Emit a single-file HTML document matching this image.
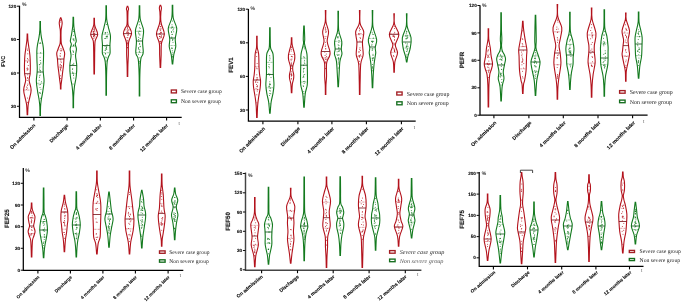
<!DOCTYPE html>
<html><head><meta charset="utf-8"><style>
html,body{margin:0;padding:0;background:#fff;}
svg{display:block;will-change:transform;text-rendering:geometricPrecision;font-family:"Liberation Sans", sans-serif;}
</style></head><body>
<svg width="685" height="305" viewBox="0 0 685 305">
<rect width="685" height="305" fill="#fff"/>
<path d="M27.65,34.10 C27.69,35.08 27.71,38.03 27.88,40.00 C28.05,41.97 28.30,43.28 28.65,45.90 C28.99,48.52 29.67,52.35 29.95,55.70 C30.23,59.05 30.32,63.00 30.35,66.00 C30.38,69.00 30.35,71.28 30.15,73.70 C29.95,76.12 28.98,77.80 29.15,80.50 C29.32,83.20 31.15,86.65 31.15,89.90 C31.15,93.15 29.65,97.45 29.15,100.00 C28.65,102.55 28.40,102.77 28.15,105.20 C27.90,107.63 27.73,113.03 27.65,114.60 L27.15,114.60 C27.07,113.03 26.90,107.63 26.65,105.20 C26.40,102.77 26.15,102.55 25.65,100.00 C25.15,97.45 23.65,93.15 23.65,89.90 C23.65,86.65 25.48,83.20 25.65,80.50 C25.82,77.80 24.85,76.12 24.65,73.70 C24.45,71.28 24.42,69.00 24.45,66.00 C24.48,63.00 24.57,59.05 24.85,55.70 C25.13,52.35 25.80,48.52 26.15,45.90 C26.49,43.28 26.75,41.97 26.92,40.00 C27.09,38.03 27.11,35.08 27.15,34.10 Z" fill="#fff" stroke="#b3121c" stroke-width="1.1"/><line x1="24.65" y1="73.70" x2="30.15" y2="73.70" stroke="#740d14" stroke-width="0.8"/><line x1="25.05" y1="60.87" x2="29.75" y2="60.87" stroke="#b3121c" stroke-width="0.6" stroke-dasharray="0.7,0.7"/><line x1="24.08" y1="90.05" x2="30.72" y2="90.05" stroke="#b3121c" stroke-width="0.6" stroke-dasharray="0.7,0.7"/><circle cx="27.42" cy="67.96" r="0.5" fill="#b3121c" opacity="0.9"/><circle cx="27.52" cy="58.52" r="0.5" fill="#b3121c" opacity="0.9"/><circle cx="27.77" cy="74.73" r="0.5" fill="#b3121c" opacity="0.9"/><circle cx="27.94" cy="83.88" r="0.5" fill="#b3121c" opacity="0.9"/><circle cx="26.47" cy="89.16" r="0.5" fill="#b3121c" opacity="0.9"/><circle cx="28.10" cy="69.05" r="0.5" fill="#b3121c" opacity="0.9"/><circle cx="27.61" cy="78.27" r="0.5" fill="#b3121c" opacity="0.9"/><circle cx="27.39" cy="87.89" r="0.5" fill="#b3121c" opacity="0.9"/><circle cx="27.83" cy="53.73" r="0.5" fill="#b3121c" opacity="0.9"/><circle cx="28.07" cy="59.86" r="0.5" fill="#b3121c" opacity="0.9"/><circle cx="27.21" cy="69.92" r="0.5" fill="#b3121c" opacity="0.9"/><circle cx="27.19" cy="80.44" r="0.5" fill="#b3121c" opacity="0.9"/><circle cx="26.62" cy="86.96" r="0.5" fill="#b3121c" opacity="0.9"/><circle cx="27.62" cy="77.62" r="0.5" fill="#b3121c" opacity="0.9"/><circle cx="27.52" cy="97.96" r="0.5" fill="#b3121c" opacity="0.9"/><circle cx="27.47" cy="102.13" r="0.5" fill="#b3121c" opacity="0.9"/><circle cx="27.52" cy="85.22" r="0.5" fill="#b3121c" opacity="0.9"/><circle cx="28.24" cy="65.59" r="0.5" fill="#b3121c" opacity="0.9"/><circle cx="27.23" cy="48.99" r="0.5" fill="#b3121c" opacity="0.9"/><circle cx="26.99" cy="68.36" r="0.5" fill="#b3121c" opacity="0.9"/><circle cx="27.41" cy="62.30" r="0.5" fill="#b3121c" opacity="0.9"/><circle cx="27.57" cy="50.15" r="0.5" fill="#b3121c" opacity="0.9"/><circle cx="27.56" cy="61.66" r="0.5" fill="#b3121c" opacity="0.9"/><circle cx="27.35" cy="69.71" r="0.5" fill="#b3121c" opacity="0.9"/>
<path d="M40.45,21.60 C40.47,23.00 40.39,27.32 40.56,30.00 C40.73,32.68 41.05,35.20 41.45,37.70 C41.85,40.20 42.60,42.82 42.95,45.00 C43.30,47.18 43.47,48.20 43.55,50.80 C43.63,53.40 43.52,57.90 43.45,60.60 C43.38,63.30 43.18,65.10 43.15,67.00 C43.12,68.90 43.10,69.62 43.25,72.00 C43.40,74.38 44.13,78.03 44.05,81.30 C43.97,84.57 43.22,88.48 42.75,91.60 C42.28,94.72 41.62,97.43 41.25,100.00 C40.88,102.57 40.69,104.43 40.56,107.00 C40.43,109.57 40.47,114.00 40.45,115.40 L39.95,115.40 C39.93,114.00 39.97,109.57 39.84,107.00 C39.71,104.43 39.52,102.57 39.15,100.00 C38.79,97.43 38.12,94.72 37.65,91.60 C37.18,88.48 36.43,84.57 36.35,81.30 C36.27,78.03 37.00,74.38 37.15,72.00 C37.30,69.62 37.28,68.90 37.25,67.00 C37.22,65.10 37.02,63.30 36.95,60.60 C36.88,57.90 36.77,53.40 36.85,50.80 C36.93,48.20 37.10,47.18 37.45,45.00 C37.80,42.82 38.55,40.20 38.95,37.70 C39.35,35.20 39.67,32.68 39.84,30.00 C40.01,27.32 39.93,23.00 39.95,21.60 Z" fill="#fff" stroke="#137a1e" stroke-width="1.1"/><line x1="37.15" y1="72.00" x2="43.25" y2="72.00" stroke="#0d4c14" stroke-width="0.8"/><line x1="37.28" y1="53.26" x2="43.12" y2="53.26" stroke="#137a1e" stroke-width="0.6" stroke-dasharray="0.7,0.7"/><line x1="37.00" y1="83.27" x2="43.40" y2="83.27" stroke="#137a1e" stroke-width="0.6" stroke-dasharray="0.7,0.7"/><circle cx="40.19" cy="93.24" r="0.5" fill="#137a1e" opacity="0.9"/><circle cx="40.75" cy="63.76" r="0.5" fill="#137a1e" opacity="0.9"/><circle cx="40.14" cy="93.10" r="0.5" fill="#137a1e" opacity="0.9"/><circle cx="40.94" cy="89.28" r="0.5" fill="#137a1e" opacity="0.9"/><circle cx="40.04" cy="57.36" r="0.5" fill="#137a1e" opacity="0.9"/><circle cx="40.20" cy="42.39" r="0.5" fill="#137a1e" opacity="0.9"/><circle cx="39.84" cy="43.46" r="0.5" fill="#137a1e" opacity="0.9"/><circle cx="39.31" cy="64.71" r="0.5" fill="#137a1e" opacity="0.9"/><circle cx="41.43" cy="81.85" r="0.5" fill="#137a1e" opacity="0.9"/><circle cx="40.64" cy="52.81" r="0.5" fill="#137a1e" opacity="0.9"/><circle cx="40.39" cy="84.47" r="0.5" fill="#137a1e" opacity="0.9"/><circle cx="39.37" cy="69.00" r="0.5" fill="#137a1e" opacity="0.9"/><circle cx="40.30" cy="60.46" r="0.5" fill="#137a1e" opacity="0.9"/><circle cx="39.97" cy="87.55" r="0.5" fill="#137a1e" opacity="0.9"/><circle cx="40.74" cy="62.77" r="0.5" fill="#137a1e" opacity="0.9"/><circle cx="40.18" cy="70.46" r="0.5" fill="#137a1e" opacity="0.9"/><circle cx="39.46" cy="77.24" r="0.5" fill="#137a1e" opacity="0.9"/><circle cx="40.78" cy="43.38" r="0.5" fill="#137a1e" opacity="0.9"/><circle cx="39.71" cy="75.80" r="0.5" fill="#137a1e" opacity="0.9"/><circle cx="40.07" cy="70.25" r="0.5" fill="#137a1e" opacity="0.9"/><circle cx="40.21" cy="75.07" r="0.5" fill="#137a1e" opacity="0.9"/><circle cx="39.93" cy="67.09" r="0.5" fill="#137a1e" opacity="0.9"/><circle cx="40.41" cy="72.11" r="0.5" fill="#137a1e" opacity="0.9"/><circle cx="39.70" cy="64.57" r="0.5" fill="#137a1e" opacity="0.9"/><circle cx="40.32" cy="98.18" r="0.5" fill="#137a1e" opacity="0.9"/><circle cx="39.15" cy="84.74" r="0.5" fill="#137a1e" opacity="0.9"/><circle cx="39.71" cy="92.47" r="0.5" fill="#137a1e" opacity="0.9"/><circle cx="39.13" cy="80.21" r="0.5" fill="#137a1e" opacity="0.9"/>
<path d="M60.95,17.90 C61.07,18.25 61.45,19.15 61.65,20.00 C61.85,20.85 62.15,21.83 62.15,23.00 C62.15,24.17 61.83,25.67 61.65,27.00 C61.47,28.33 61.16,28.83 61.06,31.00 C60.96,33.17 61.00,37.80 61.06,40.00 C61.12,42.20 61.14,42.87 61.45,44.20 C61.77,45.53 62.42,46.50 62.95,48.00 C63.48,49.50 64.48,51.37 64.65,53.20 C64.82,55.03 64.15,56.87 63.95,59.00 C63.75,61.13 63.67,63.83 63.45,66.00 C63.23,68.17 62.93,69.73 62.65,72.00 C62.37,74.27 62.02,77.43 61.75,79.60 C61.48,81.77 61.19,83.43 61.06,85.00 C60.93,86.57 60.97,88.33 60.95,89.00 L60.45,89.00 C60.43,88.33 60.47,86.57 60.34,85.00 C60.21,83.43 59.92,81.77 59.65,79.60 C59.39,77.43 59.03,74.27 58.75,72.00 C58.47,69.73 58.17,68.17 57.95,66.00 C57.73,63.83 57.65,61.13 57.45,59.00 C57.25,56.87 56.58,55.03 56.75,53.20 C56.92,51.37 57.92,49.50 58.45,48.00 C58.98,46.50 59.64,45.53 59.95,44.20 C60.27,42.87 60.28,42.20 60.34,40.00 C60.41,37.80 60.44,33.17 60.34,31.00 C60.24,28.83 59.93,28.33 59.75,27.00 C59.57,25.67 59.25,24.17 59.25,23.00 C59.25,21.83 59.55,20.85 59.75,20.00 C59.95,19.15 60.33,18.25 60.45,17.90 Z" fill="#fff" stroke="#b3121c" stroke-width="1.1"/><line x1="57.45" y1="59.00" x2="63.95" y2="59.00" stroke="#740d14" stroke-width="0.8"/><line x1="58.23" y1="49.89" x2="63.17" y2="49.89" stroke="#b3121c" stroke-width="0.6" stroke-dasharray="0.7,0.7"/><line x1="58.48" y1="66.96" x2="62.92" y2="66.96" stroke="#b3121c" stroke-width="0.6" stroke-dasharray="0.7,0.7"/><circle cx="60.78" cy="21.92" r="0.5" fill="#b3121c" opacity="0.9"/><circle cx="60.85" cy="60.98" r="0.5" fill="#b3121c" opacity="0.9"/><circle cx="60.99" cy="48.52" r="0.5" fill="#b3121c" opacity="0.9"/><circle cx="60.17" cy="56.59" r="0.5" fill="#b3121c" opacity="0.9"/><circle cx="60.69" cy="20.45" r="0.5" fill="#b3121c" opacity="0.9"/><circle cx="60.06" cy="55.28" r="0.5" fill="#b3121c" opacity="0.9"/><circle cx="61.32" cy="65.86" r="0.5" fill="#b3121c" opacity="0.9"/><circle cx="60.68" cy="50.71" r="0.5" fill="#b3121c" opacity="0.9"/><circle cx="60.32" cy="53.51" r="0.5" fill="#b3121c" opacity="0.9"/><circle cx="61.50" cy="50.68" r="0.5" fill="#b3121c" opacity="0.9"/><circle cx="60.37" cy="69.36" r="0.5" fill="#b3121c" opacity="0.9"/><circle cx="61.26" cy="67.64" r="0.5" fill="#b3121c" opacity="0.9"/><circle cx="60.72" cy="68.11" r="0.5" fill="#b3121c" opacity="0.9"/><circle cx="60.38" cy="64.22" r="0.5" fill="#b3121c" opacity="0.9"/><circle cx="61.28" cy="62.21" r="0.5" fill="#b3121c" opacity="0.9"/><circle cx="60.85" cy="70.85" r="0.5" fill="#b3121c" opacity="0.9"/><circle cx="60.65" cy="78.62" r="0.5" fill="#b3121c" opacity="0.9"/><circle cx="61.42" cy="65.73" r="0.5" fill="#b3121c" opacity="0.9"/><circle cx="60.43" cy="69.76" r="0.5" fill="#b3121c" opacity="0.9"/><circle cx="60.56" cy="75.73" r="0.5" fill="#b3121c" opacity="0.9"/><circle cx="60.04" cy="67.07" r="0.5" fill="#b3121c" opacity="0.9"/><circle cx="60.34" cy="68.05" r="0.5" fill="#b3121c" opacity="0.9"/><circle cx="60.04" cy="64.88" r="0.5" fill="#b3121c" opacity="0.9"/><circle cx="60.73" cy="59.49" r="0.5" fill="#b3121c" opacity="0.9"/>
<path d="M73.55,17.40 C73.60,18.83 73.59,23.17 73.84,26.00 C74.09,28.83 74.65,31.90 75.05,34.40 C75.45,36.90 76.22,39.37 76.25,41.00 C76.28,42.63 75.22,42.85 75.25,44.20 C75.28,45.55 76.40,47.18 76.45,49.10 C76.50,51.02 75.50,52.97 75.55,55.70 C75.60,58.43 76.63,62.08 76.75,65.50 C76.87,68.92 76.63,72.70 76.25,76.20 C75.87,79.70 74.88,83.20 74.45,86.50 C74.02,89.80 73.81,92.45 73.66,96.00 C73.51,99.55 73.57,105.83 73.55,107.80 L73.05,107.80 C73.03,105.83 73.09,99.55 72.94,96.00 C72.79,92.45 72.58,89.80 72.15,86.50 C71.72,83.20 70.73,79.70 70.35,76.20 C69.97,72.70 69.73,68.92 69.85,65.50 C69.97,62.08 71.00,58.43 71.05,55.70 C71.10,52.97 70.10,51.02 70.15,49.10 C70.20,47.18 71.32,45.55 71.35,44.20 C71.38,42.85 70.32,42.63 70.35,41.00 C70.38,39.37 71.15,36.90 71.55,34.40 C71.95,31.90 72.51,28.83 72.76,26.00 C73.01,23.17 73.00,18.83 73.05,17.40 Z" fill="#fff" stroke="#137a1e" stroke-width="1.1"/><line x1="69.85" y1="65.50" x2="76.75" y2="65.50" stroke="#0d4c14" stroke-width="0.8"/><line x1="71.28" y1="46.10" x2="75.32" y2="46.10" stroke="#137a1e" stroke-width="0.6" stroke-dasharray="0.7,0.7"/><line x1="70.62" y1="73.45" x2="75.98" y2="73.45" stroke="#137a1e" stroke-width="0.6" stroke-dasharray="0.7,0.7"/><circle cx="73.12" cy="38.91" r="0.5" fill="#137a1e" opacity="0.9"/><circle cx="72.46" cy="71.99" r="0.5" fill="#137a1e" opacity="0.9"/><circle cx="74.16" cy="40.85" r="0.5" fill="#137a1e" opacity="0.9"/><circle cx="73.66" cy="64.70" r="0.5" fill="#137a1e" opacity="0.9"/><circle cx="73.65" cy="44.63" r="0.5" fill="#137a1e" opacity="0.9"/><circle cx="73.38" cy="29.69" r="0.5" fill="#137a1e" opacity="0.9"/><circle cx="73.43" cy="52.28" r="0.5" fill="#137a1e" opacity="0.9"/><circle cx="73.83" cy="78.08" r="0.5" fill="#137a1e" opacity="0.9"/><circle cx="72.70" cy="68.85" r="0.5" fill="#137a1e" opacity="0.9"/><circle cx="72.41" cy="69.25" r="0.5" fill="#137a1e" opacity="0.9"/><circle cx="73.04" cy="54.51" r="0.5" fill="#137a1e" opacity="0.9"/><circle cx="73.71" cy="72.95" r="0.5" fill="#137a1e" opacity="0.9"/><circle cx="73.41" cy="45.39" r="0.5" fill="#137a1e" opacity="0.9"/><circle cx="73.39" cy="35.24" r="0.5" fill="#137a1e" opacity="0.9"/><circle cx="73.41" cy="31.52" r="0.5" fill="#137a1e" opacity="0.9"/><circle cx="73.33" cy="51.55" r="0.5" fill="#137a1e" opacity="0.9"/><circle cx="73.41" cy="75.61" r="0.5" fill="#137a1e" opacity="0.9"/><circle cx="73.73" cy="63.24" r="0.5" fill="#137a1e" opacity="0.9"/><circle cx="73.97" cy="38.88" r="0.5" fill="#137a1e" opacity="0.9"/><circle cx="72.28" cy="64.51" r="0.5" fill="#137a1e" opacity="0.9"/><circle cx="72.47" cy="73.07" r="0.5" fill="#137a1e" opacity="0.9"/><circle cx="73.63" cy="74.11" r="0.5" fill="#137a1e" opacity="0.9"/><circle cx="73.08" cy="84.12" r="0.5" fill="#137a1e" opacity="0.9"/><circle cx="73.45" cy="40.10" r="0.5" fill="#137a1e" opacity="0.9"/><circle cx="73.05" cy="46.33" r="0.5" fill="#137a1e" opacity="0.9"/><circle cx="72.95" cy="50.77" r="0.5" fill="#137a1e" opacity="0.9"/><circle cx="73.64" cy="45.43" r="0.5" fill="#137a1e" opacity="0.9"/><circle cx="73.21" cy="38.98" r="0.5" fill="#137a1e" opacity="0.9"/>
<path d="M94.45,18.20 C94.47,19.20 94.39,22.63 94.56,24.20 C94.73,25.77 94.93,25.90 95.45,27.60 C95.97,29.30 97.75,32.18 97.70,34.40 C97.65,36.62 95.64,38.30 95.15,40.90 C94.66,43.50 94.83,46.82 94.74,50.00 C94.65,53.18 94.67,56.02 94.62,60.00 C94.57,63.98 94.48,71.58 94.45,73.90 L93.95,73.90 C93.92,71.58 93.83,63.98 93.78,60.00 C93.73,56.02 93.75,53.18 93.66,50.00 C93.57,46.82 93.74,43.50 93.25,40.90 C92.76,38.30 90.75,36.62 90.70,34.40 C90.65,32.18 92.43,29.30 92.95,27.60 C93.47,25.90 93.67,25.77 93.84,24.20 C94.01,22.63 93.93,19.20 93.95,18.20 Z" fill="#fff" stroke="#b3121c" stroke-width="1.1"/><line x1="90.70" y1="34.40" x2="97.70" y2="34.40" stroke="#740d14" stroke-width="0.8"/><line x1="91.94" y1="31.85" x2="96.46" y2="31.85" stroke="#b3121c" stroke-width="0.6" stroke-dasharray="0.7,0.7"/><line x1="93.83" y1="44.94" x2="94.57" y2="44.94" stroke="#b3121c" stroke-width="0.6" stroke-dasharray="0.7,0.7"/><circle cx="94.06" cy="31.35" r="0.5" fill="#b3121c" opacity="0.9"/><circle cx="94.18" cy="26.83" r="0.5" fill="#b3121c" opacity="0.9"/><circle cx="93.41" cy="33.61" r="0.5" fill="#b3121c" opacity="0.9"/><circle cx="94.28" cy="28.97" r="0.5" fill="#b3121c" opacity="0.9"/><circle cx="94.14" cy="33.82" r="0.5" fill="#b3121c" opacity="0.9"/><circle cx="94.70" cy="33.59" r="0.5" fill="#b3121c" opacity="0.9"/><circle cx="94.87" cy="36.06" r="0.5" fill="#b3121c" opacity="0.9"/><circle cx="93.76" cy="31.42" r="0.5" fill="#b3121c" opacity="0.9"/><circle cx="94.08" cy="34.54" r="0.5" fill="#b3121c" opacity="0.9"/><circle cx="93.54" cy="36.65" r="0.5" fill="#b3121c" opacity="0.9"/><circle cx="93.86" cy="38.40" r="0.5" fill="#b3121c" opacity="0.9"/><circle cx="93.81" cy="29.78" r="0.5" fill="#b3121c" opacity="0.9"/><circle cx="93.53" cy="31.67" r="0.5" fill="#b3121c" opacity="0.9"/><circle cx="93.72" cy="32.37" r="0.5" fill="#b3121c" opacity="0.9"/><circle cx="94.64" cy="30.37" r="0.5" fill="#b3121c" opacity="0.9"/><circle cx="94.18" cy="35.53" r="0.5" fill="#b3121c" opacity="0.9"/><circle cx="94.43" cy="29.11" r="0.5" fill="#b3121c" opacity="0.9"/><circle cx="94.20" cy="28.02" r="0.5" fill="#b3121c" opacity="0.9"/><circle cx="94.73" cy="37.06" r="0.5" fill="#b3121c" opacity="0.9"/><circle cx="94.18" cy="35.57" r="0.5" fill="#b3121c" opacity="0.9"/><circle cx="93.46" cy="36.40" r="0.5" fill="#b3121c" opacity="0.9"/><circle cx="93.87" cy="35.45" r="0.5" fill="#b3121c" opacity="0.9"/><circle cx="93.16" cy="34.01" r="0.5" fill="#b3121c" opacity="0.9"/><circle cx="94.29" cy="26.89" r="0.5" fill="#b3121c" opacity="0.9"/>
<path d="M106.45,5.80 C106.49,8.00 106.35,15.37 106.68,19.00 C107.01,22.63 107.82,24.77 108.45,27.60 C109.08,30.43 110.20,33.15 110.45,36.00 C110.70,38.85 110.02,41.83 109.95,44.70 C109.88,47.57 110.30,51.18 110.05,53.20 C109.80,55.22 108.93,55.33 108.45,56.80 C107.97,58.27 107.47,58.97 107.15,62.00 C106.84,65.03 106.68,69.47 106.56,75.00 C106.44,80.53 106.47,91.83 106.45,95.20 L105.95,95.20 C105.93,91.83 105.96,80.53 105.84,75.00 C105.72,69.47 105.56,65.03 105.25,62.00 C104.94,58.97 104.43,58.27 103.95,56.80 C103.47,55.33 102.60,55.22 102.35,53.20 C102.10,51.18 102.52,47.57 102.45,44.70 C102.38,41.83 101.70,38.85 101.95,36.00 C102.20,33.15 103.32,30.43 103.95,27.60 C104.58,24.77 105.39,22.63 105.72,19.00 C106.05,15.37 105.91,8.00 105.95,5.80 Z" fill="#fff" stroke="#137a1e" stroke-width="1.1"/><line x1="102.44" y1="45.50" x2="109.96" y2="45.50" stroke="#0d4c14" stroke-width="0.8"/><line x1="102.78" y1="34.18" x2="109.62" y2="34.18" stroke="#137a1e" stroke-width="0.6" stroke-dasharray="0.7,0.7"/><line x1="102.76" y1="52.73" x2="109.64" y2="52.73" stroke="#137a1e" stroke-width="0.6" stroke-dasharray="0.7,0.7"/><circle cx="106.31" cy="47.73" r="0.5" fill="#137a1e" opacity="0.9"/><circle cx="105.90" cy="57.11" r="0.5" fill="#137a1e" opacity="0.9"/><circle cx="106.11" cy="61.00" r="0.5" fill="#137a1e" opacity="0.9"/><circle cx="106.47" cy="24.53" r="0.5" fill="#137a1e" opacity="0.9"/><circle cx="105.54" cy="54.01" r="0.5" fill="#137a1e" opacity="0.9"/><circle cx="105.47" cy="32.51" r="0.5" fill="#137a1e" opacity="0.9"/><circle cx="105.09" cy="32.74" r="0.5" fill="#137a1e" opacity="0.9"/><circle cx="107.13" cy="36.01" r="0.5" fill="#137a1e" opacity="0.9"/><circle cx="106.15" cy="48.78" r="0.5" fill="#137a1e" opacity="0.9"/><circle cx="104.83" cy="38.54" r="0.5" fill="#137a1e" opacity="0.9"/><circle cx="106.27" cy="36.59" r="0.5" fill="#137a1e" opacity="0.9"/><circle cx="107.42" cy="36.26" r="0.5" fill="#137a1e" opacity="0.9"/><circle cx="106.33" cy="36.19" r="0.5" fill="#137a1e" opacity="0.9"/><circle cx="105.41" cy="33.73" r="0.5" fill="#137a1e" opacity="0.9"/><circle cx="105.56" cy="53.50" r="0.5" fill="#137a1e" opacity="0.9"/><circle cx="105.09" cy="46.54" r="0.5" fill="#137a1e" opacity="0.9"/><circle cx="105.27" cy="49.92" r="0.5" fill="#137a1e" opacity="0.9"/><circle cx="107.05" cy="44.65" r="0.5" fill="#137a1e" opacity="0.9"/><circle cx="107.25" cy="32.16" r="0.5" fill="#137a1e" opacity="0.9"/><circle cx="106.77" cy="46.35" r="0.5" fill="#137a1e" opacity="0.9"/><circle cx="105.96" cy="48.63" r="0.5" fill="#137a1e" opacity="0.9"/><circle cx="105.16" cy="50.44" r="0.5" fill="#137a1e" opacity="0.9"/><circle cx="106.97" cy="38.10" r="0.5" fill="#137a1e" opacity="0.9"/><circle cx="105.58" cy="38.29" r="0.5" fill="#137a1e" opacity="0.9"/><circle cx="106.68" cy="49.22" r="0.5" fill="#137a1e" opacity="0.9"/><circle cx="106.24" cy="57.71" r="0.5" fill="#137a1e" opacity="0.9"/><circle cx="106.57" cy="47.19" r="0.5" fill="#137a1e" opacity="0.9"/><circle cx="106.88" cy="36.90" r="0.5" fill="#137a1e" opacity="0.9"/>
<path d="M127.80,6.30 C127.92,6.75 128.52,8.05 128.55,9.00 C128.58,9.95 128.08,9.47 127.98,12.00 C127.89,14.53 127.69,21.53 127.98,24.20 C128.28,26.87 129.16,26.43 129.75,28.00 C130.34,29.57 131.73,31.25 131.55,33.60 C131.37,35.95 129.18,38.53 128.65,42.10 C128.12,45.67 128.47,51.18 128.35,55.00 C128.23,58.82 128.02,61.42 127.92,65.00 C127.82,68.58 127.78,74.58 127.75,76.50 L127.25,76.50 C127.22,74.58 127.18,68.58 127.08,65.00 C126.98,61.42 126.77,58.82 126.65,55.00 C126.53,51.18 126.88,45.67 126.35,42.10 C125.82,38.53 123.63,35.95 123.45,33.60 C123.27,31.25 124.66,29.57 125.25,28.00 C125.84,26.43 126.72,26.87 127.02,24.20 C127.31,21.53 127.11,14.53 127.02,12.00 C126.92,9.47 126.42,9.95 126.45,9.00 C126.48,8.05 127.08,6.75 127.20,6.30 Z" fill="#fff" stroke="#b3121c" stroke-width="1.1"/><line x1="123.45" y1="33.60" x2="131.55" y2="33.60" stroke="#740d14" stroke-width="0.8"/><line x1="125.07" y1="29.82" x2="129.93" y2="29.82" stroke="#b3121c" stroke-width="0.6" stroke-dasharray="0.7,0.7"/><line x1="126.83" y1="45.44" x2="128.17" y2="45.44" stroke="#b3121c" stroke-width="0.6" stroke-dasharray="0.7,0.7"/><circle cx="127.16" cy="40.35" r="0.5" fill="#b3121c" opacity="0.9"/><circle cx="126.95" cy="32.50" r="0.5" fill="#b3121c" opacity="0.9"/><circle cx="127.90" cy="35.36" r="0.5" fill="#b3121c" opacity="0.9"/><circle cx="128.00" cy="29.86" r="0.5" fill="#b3121c" opacity="0.9"/><circle cx="127.04" cy="37.55" r="0.5" fill="#b3121c" opacity="0.9"/><circle cx="127.53" cy="47.62" r="0.5" fill="#b3121c" opacity="0.9"/><circle cx="127.07" cy="31.67" r="0.5" fill="#b3121c" opacity="0.9"/><circle cx="127.57" cy="47.66" r="0.5" fill="#b3121c" opacity="0.9"/><circle cx="127.53" cy="43.17" r="0.5" fill="#b3121c" opacity="0.9"/><circle cx="127.48" cy="28.22" r="0.5" fill="#b3121c" opacity="0.9"/><circle cx="127.39" cy="27.79" r="0.5" fill="#b3121c" opacity="0.9"/><circle cx="128.07" cy="35.02" r="0.5" fill="#b3121c" opacity="0.9"/><circle cx="128.27" cy="32.80" r="0.5" fill="#b3121c" opacity="0.9"/><circle cx="127.05" cy="32.70" r="0.5" fill="#b3121c" opacity="0.9"/><circle cx="128.25" cy="34.26" r="0.5" fill="#b3121c" opacity="0.9"/><circle cx="127.47" cy="26.71" r="0.5" fill="#b3121c" opacity="0.9"/><circle cx="127.78" cy="31.71" r="0.5" fill="#b3121c" opacity="0.9"/><circle cx="127.82" cy="37.68" r="0.5" fill="#b3121c" opacity="0.9"/><circle cx="127.44" cy="43.89" r="0.5" fill="#b3121c" opacity="0.9"/><circle cx="128.67" cy="32.31" r="0.5" fill="#b3121c" opacity="0.9"/><circle cx="127.92" cy="30.41" r="0.5" fill="#b3121c" opacity="0.9"/><circle cx="127.30" cy="41.02" r="0.5" fill="#b3121c" opacity="0.9"/><circle cx="127.50" cy="42.82" r="0.5" fill="#b3121c" opacity="0.9"/><circle cx="127.52" cy="26.08" r="0.5" fill="#b3121c" opacity="0.9"/>
<path d="M139.75,5.80 C139.83,8.00 139.62,14.93 140.25,19.00 C140.88,23.07 143.17,26.50 143.55,30.20 C143.93,33.90 142.60,37.65 142.55,41.20 C142.50,44.75 143.25,49.20 143.25,51.50 C143.25,53.80 142.97,53.68 142.55,55.00 C142.13,56.32 141.20,56.07 140.75,59.40 C140.30,62.73 140.03,68.90 139.86,75.00 C139.69,81.10 139.77,92.50 139.75,96.00 L139.25,96.00 C139.23,92.50 139.31,81.10 139.14,75.00 C138.97,68.90 138.70,62.73 138.25,59.40 C137.80,56.07 136.87,56.32 136.45,55.00 C136.03,53.68 135.75,53.80 135.75,51.50 C135.75,49.20 136.50,44.75 136.45,41.20 C136.40,37.65 135.07,33.90 135.45,30.20 C135.83,26.50 138.12,23.07 138.75,19.00 C139.38,14.93 139.17,8.00 139.25,5.80 Z" fill="#fff" stroke="#137a1e" stroke-width="1.1"/><line x1="136.43" y1="41.00" x2="142.57" y2="41.00" stroke="#0d4c14" stroke-width="0.8"/><line x1="135.95" y1="31.28" x2="143.05" y2="31.28" stroke="#137a1e" stroke-width="0.6" stroke-dasharray="0.7,0.7"/><line x1="136.35" y1="52.48" x2="142.65" y2="52.48" stroke="#137a1e" stroke-width="0.6" stroke-dasharray="0.7,0.7"/><circle cx="139.85" cy="35.01" r="0.5" fill="#137a1e" opacity="0.9"/><circle cx="138.62" cy="54.14" r="0.5" fill="#137a1e" opacity="0.9"/><circle cx="139.34" cy="51.57" r="0.5" fill="#137a1e" opacity="0.9"/><circle cx="139.88" cy="57.85" r="0.5" fill="#137a1e" opacity="0.9"/><circle cx="138.50" cy="31.92" r="0.5" fill="#137a1e" opacity="0.9"/><circle cx="138.71" cy="33.63" r="0.5" fill="#137a1e" opacity="0.9"/><circle cx="138.63" cy="39.39" r="0.5" fill="#137a1e" opacity="0.9"/><circle cx="139.67" cy="44.37" r="0.5" fill="#137a1e" opacity="0.9"/><circle cx="140.14" cy="46.68" r="0.5" fill="#137a1e" opacity="0.9"/><circle cx="139.55" cy="27.82" r="0.5" fill="#137a1e" opacity="0.9"/><circle cx="139.90" cy="49.90" r="0.5" fill="#137a1e" opacity="0.9"/><circle cx="139.73" cy="34.10" r="0.5" fill="#137a1e" opacity="0.9"/><circle cx="138.49" cy="48.56" r="0.5" fill="#137a1e" opacity="0.9"/><circle cx="139.95" cy="31.47" r="0.5" fill="#137a1e" opacity="0.9"/><circle cx="138.65" cy="47.44" r="0.5" fill="#137a1e" opacity="0.9"/><circle cx="140.32" cy="28.13" r="0.5" fill="#137a1e" opacity="0.9"/><circle cx="140.33" cy="46.32" r="0.5" fill="#137a1e" opacity="0.9"/><circle cx="139.12" cy="30.91" r="0.5" fill="#137a1e" opacity="0.9"/><circle cx="139.37" cy="21.69" r="0.5" fill="#137a1e" opacity="0.9"/><circle cx="138.94" cy="49.54" r="0.5" fill="#137a1e" opacity="0.9"/><circle cx="139.63" cy="43.59" r="0.5" fill="#137a1e" opacity="0.9"/><circle cx="139.91" cy="52.30" r="0.5" fill="#137a1e" opacity="0.9"/><circle cx="138.77" cy="41.19" r="0.5" fill="#137a1e" opacity="0.9"/><circle cx="139.42" cy="63.01" r="0.5" fill="#137a1e" opacity="0.9"/><circle cx="139.30" cy="24.63" r="0.5" fill="#137a1e" opacity="0.9"/><circle cx="140.27" cy="38.60" r="0.5" fill="#137a1e" opacity="0.9"/><circle cx="139.46" cy="61.19" r="0.5" fill="#137a1e" opacity="0.9"/><circle cx="138.68" cy="37.13" r="0.5" fill="#137a1e" opacity="0.9"/>
<path d="M160.70,5.40 C160.83,5.83 161.42,6.85 161.45,8.00 C161.48,9.15 161.00,10.30 160.88,12.30 C160.76,14.30 160.63,17.88 160.76,20.00 C160.89,22.12 161.05,22.65 161.65,25.00 C162.25,27.35 164.38,31.05 164.35,34.10 C164.32,37.15 161.98,39.82 161.45,43.30 C160.92,46.78 161.28,50.98 161.15,55.00 C161.02,59.02 160.73,65.33 160.65,67.40 L160.15,67.40 C160.07,65.33 159.78,59.02 159.65,55.00 C159.52,50.98 159.88,46.78 159.35,43.30 C158.82,39.82 156.48,37.15 156.45,34.10 C156.42,31.05 158.55,27.35 159.15,25.00 C159.75,22.65 159.91,22.12 160.04,20.00 C160.17,17.88 160.04,14.30 159.92,12.30 C159.81,10.30 159.32,9.15 159.35,8.00 C159.38,6.85 159.97,5.83 160.10,5.40 Z" fill="#fff" stroke="#b3121c" stroke-width="1.1"/><line x1="156.48" y1="34.00" x2="164.32" y2="34.00" stroke="#740d14" stroke-width="0.8"/><line x1="158.42" y1="28.81" x2="162.38" y2="28.81" stroke="#b3121c" stroke-width="0.6" stroke-dasharray="0.7,0.7"/><line x1="159.24" y1="41.67" x2="161.56" y2="41.67" stroke="#b3121c" stroke-width="0.6" stroke-dasharray="0.7,0.7"/><circle cx="159.63" cy="33.49" r="0.5" fill="#b3121c" opacity="0.9"/><circle cx="160.09" cy="28.90" r="0.5" fill="#b3121c" opacity="0.9"/><circle cx="161.22" cy="36.25" r="0.5" fill="#b3121c" opacity="0.9"/><circle cx="160.15" cy="41.46" r="0.5" fill="#b3121c" opacity="0.9"/><circle cx="161.38" cy="35.70" r="0.5" fill="#b3121c" opacity="0.9"/><circle cx="159.72" cy="36.62" r="0.5" fill="#b3121c" opacity="0.9"/><circle cx="159.76" cy="38.18" r="0.5" fill="#b3121c" opacity="0.9"/><circle cx="160.35" cy="26.68" r="0.5" fill="#b3121c" opacity="0.9"/><circle cx="160.65" cy="29.97" r="0.5" fill="#b3121c" opacity="0.9"/><circle cx="160.45" cy="24.00" r="0.5" fill="#b3121c" opacity="0.9"/><circle cx="160.36" cy="26.59" r="0.5" fill="#b3121c" opacity="0.9"/><circle cx="160.25" cy="30.83" r="0.5" fill="#b3121c" opacity="0.9"/><circle cx="160.22" cy="41.89" r="0.5" fill="#b3121c" opacity="0.9"/><circle cx="160.90" cy="37.70" r="0.5" fill="#b3121c" opacity="0.9"/><circle cx="160.68" cy="41.36" r="0.5" fill="#b3121c" opacity="0.9"/><circle cx="160.64" cy="32.77" r="0.5" fill="#b3121c" opacity="0.9"/><circle cx="159.69" cy="36.23" r="0.5" fill="#b3121c" opacity="0.9"/><circle cx="160.89" cy="32.65" r="0.5" fill="#b3121c" opacity="0.9"/><circle cx="160.05" cy="34.62" r="0.5" fill="#b3121c" opacity="0.9"/><circle cx="160.94" cy="33.07" r="0.5" fill="#b3121c" opacity="0.9"/><circle cx="160.38" cy="43.31" r="0.5" fill="#b3121c" opacity="0.9"/><circle cx="161.41" cy="32.21" r="0.5" fill="#b3121c" opacity="0.9"/><circle cx="159.81" cy="36.56" r="0.5" fill="#b3121c" opacity="0.9"/><circle cx="161.18" cy="37.41" r="0.5" fill="#b3121c" opacity="0.9"/>
<path d="M172.75,5.40 C172.83,7.50 172.58,14.17 173.25,18.00 C173.92,21.83 176.42,24.95 176.75,28.40 C177.08,31.85 175.42,35.63 175.25,38.70 C175.08,41.77 176.00,44.12 175.75,46.80 C175.50,49.48 174.25,51.93 173.75,54.80 C173.25,57.67 172.92,62.47 172.75,64.00 L172.25,64.00 C172.08,62.47 171.75,57.67 171.25,54.80 C170.75,51.93 169.50,49.48 169.25,46.80 C169.00,44.12 169.92,41.77 169.75,38.70 C169.58,35.63 167.92,31.85 168.25,28.40 C168.58,24.95 171.08,21.83 171.75,18.00 C172.42,14.17 172.17,7.50 172.25,5.40 Z" fill="#fff" stroke="#137a1e" stroke-width="1.1"/><line x1="169.65" y1="38.00" x2="175.35" y2="38.00" stroke="#0d4c14" stroke-width="0.8"/><line x1="168.85" y1="27.81" x2="176.15" y2="27.81" stroke="#137a1e" stroke-width="0.6" stroke-dasharray="0.7,0.7"/><line x1="169.73" y1="45.54" x2="175.27" y2="45.54" stroke="#137a1e" stroke-width="0.6" stroke-dasharray="0.7,0.7"/><circle cx="171.64" cy="32.53" r="0.5" fill="#137a1e" opacity="0.9"/><circle cx="172.50" cy="56.18" r="0.5" fill="#137a1e" opacity="0.9"/><circle cx="171.73" cy="37.88" r="0.5" fill="#137a1e" opacity="0.9"/><circle cx="172.37" cy="27.61" r="0.5" fill="#137a1e" opacity="0.9"/><circle cx="172.03" cy="47.89" r="0.5" fill="#137a1e" opacity="0.9"/><circle cx="171.40" cy="27.88" r="0.5" fill="#137a1e" opacity="0.9"/><circle cx="171.77" cy="47.93" r="0.5" fill="#137a1e" opacity="0.9"/><circle cx="172.35" cy="21.03" r="0.5" fill="#137a1e" opacity="0.9"/><circle cx="172.76" cy="52.84" r="0.5" fill="#137a1e" opacity="0.9"/><circle cx="172.48" cy="56.93" r="0.5" fill="#137a1e" opacity="0.9"/><circle cx="172.34" cy="34.21" r="0.5" fill="#137a1e" opacity="0.9"/><circle cx="172.63" cy="40.38" r="0.5" fill="#137a1e" opacity="0.9"/><circle cx="171.76" cy="37.03" r="0.5" fill="#137a1e" opacity="0.9"/><circle cx="172.88" cy="30.02" r="0.5" fill="#137a1e" opacity="0.9"/><circle cx="172.68" cy="39.38" r="0.5" fill="#137a1e" opacity="0.9"/><circle cx="171.91" cy="37.93" r="0.5" fill="#137a1e" opacity="0.9"/><circle cx="172.72" cy="26.84" r="0.5" fill="#137a1e" opacity="0.9"/><circle cx="172.33" cy="50.79" r="0.5" fill="#137a1e" opacity="0.9"/><circle cx="173.70" cy="31.85" r="0.5" fill="#137a1e" opacity="0.9"/><circle cx="172.98" cy="39.06" r="0.5" fill="#137a1e" opacity="0.9"/><circle cx="171.99" cy="24.66" r="0.5" fill="#137a1e" opacity="0.9"/><circle cx="171.46" cy="31.42" r="0.5" fill="#137a1e" opacity="0.9"/><circle cx="173.00" cy="42.29" r="0.5" fill="#137a1e" opacity="0.9"/><circle cx="171.97" cy="34.54" r="0.5" fill="#137a1e" opacity="0.9"/><circle cx="172.07" cy="48.62" r="0.5" fill="#137a1e" opacity="0.9"/><circle cx="173.53" cy="28.89" r="0.5" fill="#137a1e" opacity="0.9"/><circle cx="171.67" cy="27.04" r="0.5" fill="#137a1e" opacity="0.9"/><circle cx="172.40" cy="54.82" r="0.5" fill="#137a1e" opacity="0.9"/>
<path d="M19.5,5.8 L19.5,117.4 L181.7,117.4" fill="none" stroke="#000" stroke-width="1.25"/>
<line x1="16.9" y1="6.2" x2="19.5" y2="6.2" stroke="#111" stroke-width="1.05"/>
<text x="16.2" y="7.800000000000001" font-size="4.6" text-anchor="end" fill="#111" stroke="#111" stroke-width="0.12" font-weight="bold">120</text>
<line x1="16.9" y1="39.5" x2="19.5" y2="39.5" stroke="#111" stroke-width="1.05"/>
<text x="16.2" y="41.1" font-size="4.6" text-anchor="end" fill="#111" stroke="#111" stroke-width="0.12" font-weight="bold">90</text>
<line x1="16.9" y1="73.0" x2="19.5" y2="73.0" stroke="#111" stroke-width="1.05"/>
<text x="16.2" y="74.6" font-size="4.6" text-anchor="end" fill="#111" stroke="#111" stroke-width="0.12" font-weight="bold">60</text>
<line x1="16.9" y1="106.3" x2="19.5" y2="106.3" stroke="#111" stroke-width="1.05"/>
<text x="16.2" y="107.89999999999999" font-size="4.6" text-anchor="end" fill="#111" stroke="#111" stroke-width="0.12" font-weight="bold">30</text>
<line x1="33.9" y1="117.4" x2="33.9" y2="120.4" stroke="#000" stroke-width="1.1"/>
<line x1="67.1" y1="117.4" x2="67.1" y2="120.4" stroke="#000" stroke-width="1.1"/>
<line x1="100.4" y1="117.4" x2="100.4" y2="120.4" stroke="#000" stroke-width="1.1"/>
<line x1="133.6" y1="117.4" x2="133.6" y2="120.4" stroke="#000" stroke-width="1.1"/>
<line x1="166.6" y1="117.4" x2="166.6" y2="120.4" stroke="#000" stroke-width="1.1"/>
<text x="35.6" y="125.80000000000001" font-size="5.05" text-anchor="end" font-weight="bold" fill="#050505" stroke="#050505" stroke-width="0.08" transform="rotate(-45 35.6 125.80000000000001)">On admission</text>
<text x="68.8" y="125.80000000000001" font-size="5.05" text-anchor="end" font-weight="bold" fill="#050505" stroke="#050505" stroke-width="0.08" transform="rotate(-45 68.8 125.80000000000001)">Discharge</text>
<text x="102.10000000000001" y="125.80000000000001" font-size="5.05" text-anchor="end" font-weight="bold" fill="#050505" stroke="#050505" stroke-width="0.08" transform="rotate(-45 102.10000000000001 125.80000000000001)">4 months later</text>
<text x="135.29999999999998" y="125.80000000000001" font-size="5.05" text-anchor="end" font-weight="bold" fill="#050505" stroke="#050505" stroke-width="0.08" transform="rotate(-45 135.29999999999998 125.80000000000001)">8 months later</text>
<text x="168.29999999999998" y="125.80000000000001" font-size="5.05" text-anchor="end" font-weight="bold" fill="#050505" stroke="#050505" stroke-width="0.08" transform="rotate(-45 168.29999999999998 125.80000000000001)">12 months later</text>
<text x="4.944" y="61.3" font-size="5.4" text-anchor="middle" font-weight="bold" fill="#111" stroke="#111" stroke-width="0.15" transform="rotate(-90 4.944 61.3)">FVC</text>
<text x="22.1" y="5.6" font-size="5" fill="#222" stroke="#222" stroke-width="0.1">%</text>
<text x="178.4" y="124.8" font-size="4.6" fill="#555">t</text>
<rect x="171.3" y="90.0" width="5.1" height="2.9" fill="#fff" stroke="#a31e24" stroke-width="1.35"/>
<rect x="171.3" y="99.8" width="5.1" height="2.9" fill="#fff" stroke="#156e1e" stroke-width="1.35"/>
<text x="180.9" y="93.44800000000001" font-family="Liberation Serif, serif" font-size="5.6" font-style="normal" fill="#222" textLength="40.8" lengthAdjust="spacingAndGlyphs">Severe case group</text>
<text x="180.9" y="103.248" font-family="Liberation Serif, serif" font-size="5.6" font-style="normal" fill="#222" textLength="40.0" lengthAdjust="spacingAndGlyphs">Non severe group</text>
<path d="M257.15,36.20 C257.17,38.05 257.01,44.32 257.26,47.30 C257.51,50.28 258.35,50.65 258.65,54.10 C258.95,57.55 258.88,64.52 259.05,68.00 C259.22,71.48 259.40,72.83 259.65,75.00 C259.90,77.17 260.47,78.83 260.55,81.00 C260.63,83.17 260.47,85.33 260.15,88.00 C259.83,90.67 259.07,94.08 258.65,97.00 C258.23,99.92 257.90,102.08 257.65,105.50 C257.40,108.92 257.23,115.50 257.15,117.50 L256.65,117.50 C256.57,115.50 256.40,108.92 256.15,105.50 C255.90,102.08 255.57,99.92 255.15,97.00 C254.73,94.08 253.97,90.67 253.65,88.00 C253.33,85.33 253.17,83.17 253.25,81.00 C253.33,78.83 253.90,77.17 254.15,75.00 C254.40,72.83 254.58,71.48 254.75,68.00 C254.92,64.52 254.85,57.55 255.15,54.10 C255.45,50.65 256.29,50.28 256.54,47.30 C256.79,44.32 256.63,38.05 256.65,36.20 Z" fill="#fff" stroke="#b3121c" stroke-width="1.1"/><line x1="253.40" y1="80.00" x2="260.40" y2="80.00" stroke="#740d14" stroke-width="0.8"/><line x1="255.19" y1="66.48" x2="258.61" y2="66.48" stroke="#b3121c" stroke-width="0.6" stroke-dasharray="0.7,0.7"/><line x1="254.33" y1="89.65" x2="259.47" y2="89.65" stroke="#b3121c" stroke-width="0.6" stroke-dasharray="0.7,0.7"/><circle cx="256.80" cy="79.52" r="0.5" fill="#b3121c" opacity="0.9"/><circle cx="257.15" cy="63.46" r="0.5" fill="#b3121c" opacity="0.9"/><circle cx="256.77" cy="52.77" r="0.5" fill="#b3121c" opacity="0.9"/><circle cx="256.93" cy="102.70" r="0.5" fill="#b3121c" opacity="0.9"/><circle cx="257.69" cy="82.23" r="0.5" fill="#b3121c" opacity="0.9"/><circle cx="257.49" cy="85.72" r="0.5" fill="#b3121c" opacity="0.9"/><circle cx="257.07" cy="77.43" r="0.5" fill="#b3121c" opacity="0.9"/><circle cx="257.66" cy="79.14" r="0.5" fill="#b3121c" opacity="0.9"/><circle cx="257.54" cy="89.17" r="0.5" fill="#b3121c" opacity="0.9"/><circle cx="257.06" cy="77.95" r="0.5" fill="#b3121c" opacity="0.9"/><circle cx="256.48" cy="84.60" r="0.5" fill="#b3121c" opacity="0.9"/><circle cx="257.42" cy="86.70" r="0.5" fill="#b3121c" opacity="0.9"/><circle cx="255.77" cy="82.40" r="0.5" fill="#b3121c" opacity="0.9"/><circle cx="256.79" cy="94.74" r="0.5" fill="#b3121c" opacity="0.9"/><circle cx="256.85" cy="86.48" r="0.5" fill="#b3121c" opacity="0.9"/><circle cx="256.11" cy="80.52" r="0.5" fill="#b3121c" opacity="0.9"/><circle cx="256.76" cy="52.31" r="0.5" fill="#b3121c" opacity="0.9"/><circle cx="256.05" cy="88.35" r="0.5" fill="#b3121c" opacity="0.9"/><circle cx="256.83" cy="74.75" r="0.5" fill="#b3121c" opacity="0.9"/><circle cx="256.68" cy="56.62" r="0.5" fill="#b3121c" opacity="0.9"/><circle cx="257.13" cy="68.78" r="0.5" fill="#b3121c" opacity="0.9"/><circle cx="256.66" cy="67.95" r="0.5" fill="#b3121c" opacity="0.9"/><circle cx="255.75" cy="81.60" r="0.5" fill="#b3121c" opacity="0.9"/><circle cx="257.26" cy="90.98" r="0.5" fill="#b3121c" opacity="0.9"/>
<path d="M270.15,27.70 C270.17,29.75 270.18,36.58 270.26,40.00 C270.34,43.42 270.19,45.85 270.65,48.20 C271.11,50.55 272.60,51.40 273.05,54.10 C273.50,56.80 273.30,61.00 273.35,64.40 C273.40,67.80 273.25,71.07 273.35,74.50 C273.45,77.93 274.02,81.82 273.95,85.00 C273.88,88.18 273.42,90.77 272.95,93.60 C272.48,96.43 271.62,98.73 271.15,102.00 C270.68,105.27 270.32,111.33 270.15,113.20 L269.65,113.20 C269.48,111.33 269.12,105.27 268.65,102.00 C268.18,98.73 267.32,96.43 266.85,93.60 C266.38,90.77 265.92,88.18 265.85,85.00 C265.78,81.82 266.35,77.93 266.45,74.50 C266.55,71.07 266.40,67.80 266.45,64.40 C266.50,61.00 266.30,56.80 266.75,54.10 C267.20,51.40 268.69,50.55 269.15,48.20 C269.61,45.85 269.46,43.42 269.54,40.00 C269.62,36.58 269.63,29.75 269.65,27.70 Z" fill="#fff" stroke="#137a1e" stroke-width="1.1"/><line x1="266.45" y1="74.50" x2="273.35" y2="74.50" stroke="#0d4c14" stroke-width="0.8"/><line x1="266.91" y1="62.33" x2="272.89" y2="62.33" stroke="#137a1e" stroke-width="0.6" stroke-dasharray="0.7,0.7"/><line x1="266.57" y1="87.76" x2="273.23" y2="87.76" stroke="#137a1e" stroke-width="0.6" stroke-dasharray="0.7,0.7"/><circle cx="270.99" cy="77.39" r="0.5" fill="#137a1e" opacity="0.9"/><circle cx="269.27" cy="67.64" r="0.5" fill="#137a1e" opacity="0.9"/><circle cx="269.85" cy="93.53" r="0.5" fill="#137a1e" opacity="0.9"/><circle cx="269.71" cy="55.58" r="0.5" fill="#137a1e" opacity="0.9"/><circle cx="269.04" cy="64.48" r="0.5" fill="#137a1e" opacity="0.9"/><circle cx="269.61" cy="84.54" r="0.5" fill="#137a1e" opacity="0.9"/><circle cx="269.70" cy="60.13" r="0.5" fill="#137a1e" opacity="0.9"/><circle cx="269.80" cy="84.89" r="0.5" fill="#137a1e" opacity="0.9"/><circle cx="268.85" cy="73.45" r="0.5" fill="#137a1e" opacity="0.9"/><circle cx="270.06" cy="87.94" r="0.5" fill="#137a1e" opacity="0.9"/><circle cx="269.54" cy="86.26" r="0.5" fill="#137a1e" opacity="0.9"/><circle cx="269.90" cy="83.48" r="0.5" fill="#137a1e" opacity="0.9"/><circle cx="268.81" cy="86.14" r="0.5" fill="#137a1e" opacity="0.9"/><circle cx="270.65" cy="88.04" r="0.5" fill="#137a1e" opacity="0.9"/><circle cx="269.42" cy="95.44" r="0.5" fill="#137a1e" opacity="0.9"/><circle cx="269.98" cy="103.76" r="0.5" fill="#137a1e" opacity="0.9"/><circle cx="269.57" cy="74.60" r="0.5" fill="#137a1e" opacity="0.9"/><circle cx="269.83" cy="49.08" r="0.5" fill="#137a1e" opacity="0.9"/><circle cx="269.79" cy="81.83" r="0.5" fill="#137a1e" opacity="0.9"/><circle cx="269.53" cy="74.92" r="0.5" fill="#137a1e" opacity="0.9"/><circle cx="269.79" cy="56.98" r="0.5" fill="#137a1e" opacity="0.9"/><circle cx="270.41" cy="84.57" r="0.5" fill="#137a1e" opacity="0.9"/><circle cx="270.00" cy="58.85" r="0.5" fill="#137a1e" opacity="0.9"/><circle cx="270.29" cy="74.37" r="0.5" fill="#137a1e" opacity="0.9"/><circle cx="269.76" cy="90.52" r="0.5" fill="#137a1e" opacity="0.9"/><circle cx="268.89" cy="66.59" r="0.5" fill="#137a1e" opacity="0.9"/><circle cx="270.25" cy="90.96" r="0.5" fill="#137a1e" opacity="0.9"/><circle cx="270.77" cy="93.81" r="0.5" fill="#137a1e" opacity="0.9"/>
<path d="M291.85,37.90 C291.89,38.92 291.80,41.98 292.08,44.00 C292.36,46.02 293.11,48.17 293.55,50.00 C294.00,51.83 294.58,53.33 294.75,55.00 C294.92,56.67 294.87,58.17 294.55,60.00 C294.23,61.83 293.15,64.33 292.85,66.00 C292.55,67.67 292.60,68.50 292.75,70.00 C292.90,71.50 293.62,73.50 293.75,75.00 C293.88,76.50 293.78,77.50 293.55,79.00 C293.32,80.50 292.63,81.70 292.35,84.00 C292.07,86.30 291.93,91.33 291.85,92.80 L291.35,92.80 C291.27,91.33 291.13,86.30 290.85,84.00 C290.57,81.70 289.88,80.50 289.65,79.00 C289.42,77.50 289.32,76.50 289.45,75.00 C289.58,73.50 290.30,71.50 290.45,70.00 C290.60,68.50 290.65,67.67 290.35,66.00 C290.05,64.33 288.97,61.83 288.65,60.00 C288.33,58.17 288.28,56.67 288.45,55.00 C288.62,53.33 289.21,51.83 289.65,50.00 C290.10,48.17 290.84,46.02 291.12,44.00 C291.40,41.98 291.31,38.92 291.35,37.90 Z" fill="#fff" stroke="#b3121c" stroke-width="1.1"/><line x1="290.35" y1="66.00" x2="292.85" y2="66.00" stroke="#740d14" stroke-width="0.8"/><line x1="288.97" y1="54.51" x2="294.23" y2="54.51" stroke="#b3121c" stroke-width="0.6" stroke-dasharray="0.7,0.7"/><line x1="289.97" y1="74.41" x2="293.23" y2="74.41" stroke="#b3121c" stroke-width="0.6" stroke-dasharray="0.7,0.7"/><circle cx="291.69" cy="71.72" r="0.5" fill="#b3121c" opacity="0.9"/><circle cx="291.36" cy="78.27" r="0.5" fill="#b3121c" opacity="0.9"/><circle cx="291.61" cy="65.41" r="0.5" fill="#b3121c" opacity="0.9"/><circle cx="291.20" cy="74.70" r="0.5" fill="#b3121c" opacity="0.9"/><circle cx="291.62" cy="56.18" r="0.5" fill="#b3121c" opacity="0.9"/><circle cx="291.51" cy="78.94" r="0.5" fill="#b3121c" opacity="0.9"/><circle cx="291.62" cy="47.07" r="0.5" fill="#b3121c" opacity="0.9"/><circle cx="291.85" cy="75.42" r="0.5" fill="#b3121c" opacity="0.9"/><circle cx="291.70" cy="47.34" r="0.5" fill="#b3121c" opacity="0.9"/><circle cx="291.93" cy="59.01" r="0.5" fill="#b3121c" opacity="0.9"/><circle cx="291.52" cy="74.28" r="0.5" fill="#b3121c" opacity="0.9"/><circle cx="291.32" cy="64.24" r="0.5" fill="#b3121c" opacity="0.9"/><circle cx="290.92" cy="59.26" r="0.5" fill="#b3121c" opacity="0.9"/><circle cx="291.10" cy="60.65" r="0.5" fill="#b3121c" opacity="0.9"/><circle cx="291.31" cy="73.17" r="0.5" fill="#b3121c" opacity="0.9"/><circle cx="291.42" cy="63.66" r="0.5" fill="#b3121c" opacity="0.9"/><circle cx="292.38" cy="56.64" r="0.5" fill="#b3121c" opacity="0.9"/><circle cx="291.22" cy="62.80" r="0.5" fill="#b3121c" opacity="0.9"/><circle cx="291.63" cy="68.28" r="0.5" fill="#b3121c" opacity="0.9"/><circle cx="291.30" cy="49.26" r="0.5" fill="#b3121c" opacity="0.9"/><circle cx="291.33" cy="56.49" r="0.5" fill="#b3121c" opacity="0.9"/><circle cx="291.28" cy="51.08" r="0.5" fill="#b3121c" opacity="0.9"/><circle cx="291.59" cy="75.81" r="0.5" fill="#b3121c" opacity="0.9"/><circle cx="291.16" cy="75.93" r="0.5" fill="#b3121c" opacity="0.9"/>
<path d="M304.25,26.00 C304.33,28.13 304.70,35.82 304.75,38.80 C304.80,41.78 304.17,41.35 304.54,43.90 C304.91,46.45 306.50,50.68 306.95,54.10 C307.40,57.52 307.17,60.92 307.25,64.40 C307.33,67.88 307.45,71.57 307.45,75.00 C307.45,78.43 307.62,81.90 307.25,85.00 C306.88,88.10 305.75,89.90 305.25,93.60 C304.75,97.30 304.42,104.93 304.25,107.20 L303.75,107.20 C303.58,104.93 303.25,97.30 302.75,93.60 C302.25,89.90 301.12,88.10 300.75,85.00 C300.38,81.90 300.55,78.43 300.55,75.00 C300.55,71.57 300.67,67.88 300.75,64.40 C300.83,60.92 300.60,57.52 301.05,54.10 C301.50,50.68 303.09,46.45 303.46,43.90 C303.83,41.35 303.20,41.78 303.25,38.80 C303.30,35.82 303.67,28.13 303.75,26.00 Z" fill="#fff" stroke="#137a1e" stroke-width="1.1"/><line x1="300.73" y1="65.20" x2="307.27" y2="65.20" stroke="#0d4c14" stroke-width="0.8"/><line x1="301.33" y1="58.28" x2="306.67" y2="58.28" stroke="#137a1e" stroke-width="0.6" stroke-dasharray="0.7,0.7"/><line x1="301.09" y1="82.03" x2="306.91" y2="82.03" stroke="#137a1e" stroke-width="0.6" stroke-dasharray="0.7,0.7"/><circle cx="303.20" cy="85.67" r="0.5" fill="#137a1e" opacity="0.9"/><circle cx="303.74" cy="74.94" r="0.5" fill="#137a1e" opacity="0.9"/><circle cx="303.92" cy="96.82" r="0.5" fill="#137a1e" opacity="0.9"/><circle cx="303.92" cy="93.24" r="0.5" fill="#137a1e" opacity="0.9"/><circle cx="303.81" cy="68.50" r="0.5" fill="#137a1e" opacity="0.9"/><circle cx="303.46" cy="76.21" r="0.5" fill="#137a1e" opacity="0.9"/><circle cx="304.31" cy="48.84" r="0.5" fill="#137a1e" opacity="0.9"/><circle cx="303.57" cy="68.92" r="0.5" fill="#137a1e" opacity="0.9"/><circle cx="303.84" cy="65.10" r="0.5" fill="#137a1e" opacity="0.9"/><circle cx="304.08" cy="46.52" r="0.5" fill="#137a1e" opacity="0.9"/><circle cx="304.10" cy="83.54" r="0.5" fill="#137a1e" opacity="0.9"/><circle cx="304.70" cy="74.47" r="0.5" fill="#137a1e" opacity="0.9"/><circle cx="304.29" cy="62.12" r="0.5" fill="#137a1e" opacity="0.9"/><circle cx="303.42" cy="71.91" r="0.5" fill="#137a1e" opacity="0.9"/><circle cx="304.27" cy="57.36" r="0.5" fill="#137a1e" opacity="0.9"/><circle cx="303.69" cy="56.86" r="0.5" fill="#137a1e" opacity="0.9"/><circle cx="303.63" cy="71.01" r="0.5" fill="#137a1e" opacity="0.9"/><circle cx="303.65" cy="81.39" r="0.5" fill="#137a1e" opacity="0.9"/><circle cx="302.98" cy="77.25" r="0.5" fill="#137a1e" opacity="0.9"/><circle cx="303.85" cy="76.90" r="0.5" fill="#137a1e" opacity="0.9"/><circle cx="303.57" cy="86.40" r="0.5" fill="#137a1e" opacity="0.9"/><circle cx="304.20" cy="68.31" r="0.5" fill="#137a1e" opacity="0.9"/><circle cx="304.53" cy="60.13" r="0.5" fill="#137a1e" opacity="0.9"/><circle cx="304.78" cy="81.31" r="0.5" fill="#137a1e" opacity="0.9"/><circle cx="303.66" cy="65.60" r="0.5" fill="#137a1e" opacity="0.9"/><circle cx="304.72" cy="63.46" r="0.5" fill="#137a1e" opacity="0.9"/><circle cx="304.14" cy="47.18" r="0.5" fill="#137a1e" opacity="0.9"/><circle cx="303.83" cy="91.39" r="0.5" fill="#137a1e" opacity="0.9"/>
<path d="M325.85,10.60 C325.87,12.45 325.51,18.15 325.96,21.70 C326.41,25.25 328.35,28.63 328.55,31.90 C328.75,35.17 326.92,38.03 327.15,41.30 C327.38,44.57 329.55,49.05 329.95,51.50 C330.35,53.95 330.10,54.12 329.55,56.00 C329.00,57.88 327.15,59.38 326.65,62.80 C326.15,66.22 326.67,72.80 326.55,76.50 C326.44,80.20 326.08,82.02 325.96,85.00 C325.84,87.98 325.87,92.83 325.85,94.40 L325.35,94.40 C325.33,92.83 325.36,87.98 325.24,85.00 C325.12,82.02 324.77,80.20 324.65,76.50 C324.54,72.80 325.05,66.22 324.55,62.80 C324.05,59.38 322.20,57.88 321.65,56.00 C321.10,54.12 320.85,53.95 321.25,51.50 C321.65,49.05 323.82,44.57 324.05,41.30 C324.28,38.03 322.45,35.17 322.65,31.90 C322.85,28.63 324.79,25.25 325.24,21.70 C325.69,18.15 325.33,12.45 325.35,10.60 Z" fill="#fff" stroke="#b3121c" stroke-width="1.1"/><line x1="321.25" y1="51.50" x2="329.95" y2="51.50" stroke="#740d14" stroke-width="0.8"/><line x1="323.75" y1="36.58" x2="327.45" y2="36.58" stroke="#b3121c" stroke-width="0.6" stroke-dasharray="0.7,0.7"/><line x1="322.88" y1="57.95" x2="328.32" y2="57.95" stroke="#b3121c" stroke-width="0.6" stroke-dasharray="0.7,0.7"/><circle cx="325.87" cy="29.67" r="0.5" fill="#b3121c" opacity="0.9"/><circle cx="325.36" cy="59.33" r="0.5" fill="#b3121c" opacity="0.9"/><circle cx="325.65" cy="44.92" r="0.5" fill="#b3121c" opacity="0.9"/><circle cx="325.72" cy="32.25" r="0.5" fill="#b3121c" opacity="0.9"/><circle cx="326.33" cy="31.74" r="0.5" fill="#b3121c" opacity="0.9"/><circle cx="326.62" cy="56.49" r="0.5" fill="#b3121c" opacity="0.9"/><circle cx="325.35" cy="42.32" r="0.5" fill="#b3121c" opacity="0.9"/><circle cx="325.54" cy="62.96" r="0.5" fill="#b3121c" opacity="0.9"/><circle cx="325.79" cy="31.02" r="0.5" fill="#b3121c" opacity="0.9"/><circle cx="325.09" cy="55.40" r="0.5" fill="#b3121c" opacity="0.9"/><circle cx="326.26" cy="54.11" r="0.5" fill="#b3121c" opacity="0.9"/><circle cx="326.21" cy="59.13" r="0.5" fill="#b3121c" opacity="0.9"/><circle cx="325.78" cy="48.51" r="0.5" fill="#b3121c" opacity="0.9"/><circle cx="325.63" cy="61.90" r="0.5" fill="#b3121c" opacity="0.9"/><circle cx="325.54" cy="68.39" r="0.5" fill="#b3121c" opacity="0.9"/><circle cx="325.23" cy="38.35" r="0.5" fill="#b3121c" opacity="0.9"/><circle cx="325.37" cy="28.29" r="0.5" fill="#b3121c" opacity="0.9"/><circle cx="325.60" cy="27.37" r="0.5" fill="#b3121c" opacity="0.9"/><circle cx="325.27" cy="29.80" r="0.5" fill="#b3121c" opacity="0.9"/><circle cx="325.70" cy="57.74" r="0.5" fill="#b3121c" opacity="0.9"/><circle cx="324.76" cy="52.03" r="0.5" fill="#b3121c" opacity="0.9"/><circle cx="325.74" cy="61.97" r="0.5" fill="#b3121c" opacity="0.9"/><circle cx="325.75" cy="49.08" r="0.5" fill="#b3121c" opacity="0.9"/><circle cx="325.34" cy="46.39" r="0.5" fill="#b3121c" opacity="0.9"/>
<path d="M338.45,11.40 C338.49,14.53 338.13,25.22 338.68,30.20 C339.23,35.18 341.32,38.17 341.75,41.30 C342.18,44.43 341.22,46.88 341.25,49.00 C341.28,51.12 342.17,51.98 341.95,54.00 C341.73,56.02 340.42,57.93 339.95,61.10 C339.48,64.27 339.40,68.73 339.15,73.00 C338.90,77.27 338.57,84.42 338.45,86.70 L337.95,86.70 C337.83,84.42 337.50,77.27 337.25,73.00 C337.00,68.73 336.92,64.27 336.45,61.10 C335.98,57.93 334.67,56.02 334.45,54.00 C334.23,51.98 335.12,51.12 335.15,49.00 C335.18,46.88 334.22,44.43 334.65,41.30 C335.08,38.17 337.17,35.18 337.72,30.20 C338.27,25.22 337.91,14.53 337.95,11.40 Z" fill="#fff" stroke="#137a1e" stroke-width="1.1"/><line x1="335.15" y1="49.00" x2="341.25" y2="49.00" stroke="#0d4c14" stroke-width="0.8"/><line x1="335.05" y1="41.33" x2="341.35" y2="41.33" stroke="#137a1e" stroke-width="0.6" stroke-dasharray="0.7,0.7"/><line x1="336.27" y1="59.03" x2="340.13" y2="59.03" stroke="#137a1e" stroke-width="0.6" stroke-dasharray="0.7,0.7"/><circle cx="338.03" cy="36.60" r="0.5" fill="#137a1e" opacity="0.9"/><circle cx="338.24" cy="67.97" r="0.5" fill="#137a1e" opacity="0.9"/><circle cx="338.10" cy="37.85" r="0.5" fill="#137a1e" opacity="0.9"/><circle cx="339.00" cy="40.50" r="0.5" fill="#137a1e" opacity="0.9"/><circle cx="339.10" cy="50.99" r="0.5" fill="#137a1e" opacity="0.9"/><circle cx="338.64" cy="58.45" r="0.5" fill="#137a1e" opacity="0.9"/><circle cx="338.76" cy="51.47" r="0.5" fill="#137a1e" opacity="0.9"/><circle cx="339.13" cy="50.22" r="0.5" fill="#137a1e" opacity="0.9"/><circle cx="338.16" cy="64.02" r="0.5" fill="#137a1e" opacity="0.9"/><circle cx="338.09" cy="33.29" r="0.5" fill="#137a1e" opacity="0.9"/><circle cx="337.53" cy="55.22" r="0.5" fill="#137a1e" opacity="0.9"/><circle cx="338.92" cy="45.38" r="0.5" fill="#137a1e" opacity="0.9"/><circle cx="338.30" cy="60.88" r="0.5" fill="#137a1e" opacity="0.9"/><circle cx="338.86" cy="42.57" r="0.5" fill="#137a1e" opacity="0.9"/><circle cx="338.89" cy="48.46" r="0.5" fill="#137a1e" opacity="0.9"/><circle cx="337.64" cy="37.00" r="0.5" fill="#137a1e" opacity="0.9"/><circle cx="338.74" cy="57.90" r="0.5" fill="#137a1e" opacity="0.9"/><circle cx="338.84" cy="48.10" r="0.5" fill="#137a1e" opacity="0.9"/><circle cx="337.13" cy="51.68" r="0.5" fill="#137a1e" opacity="0.9"/><circle cx="338.75" cy="54.90" r="0.5" fill="#137a1e" opacity="0.9"/><circle cx="337.77" cy="37.72" r="0.5" fill="#137a1e" opacity="0.9"/><circle cx="338.51" cy="59.85" r="0.5" fill="#137a1e" opacity="0.9"/><circle cx="338.39" cy="62.77" r="0.5" fill="#137a1e" opacity="0.9"/><circle cx="338.15" cy="44.72" r="0.5" fill="#137a1e" opacity="0.9"/><circle cx="338.82" cy="47.17" r="0.5" fill="#137a1e" opacity="0.9"/><circle cx="337.06" cy="54.19" r="0.5" fill="#137a1e" opacity="0.9"/><circle cx="338.36" cy="57.63" r="0.5" fill="#137a1e" opacity="0.9"/><circle cx="339.01" cy="54.72" r="0.5" fill="#137a1e" opacity="0.9"/>
<path d="M359.95,10.60 C359.98,12.73 359.49,19.85 360.12,23.40 C360.75,26.95 363.36,28.78 363.75,31.90 C364.14,35.02 362.55,38.68 362.45,42.10 C362.35,45.52 363.07,50.08 363.15,52.40 C363.23,54.72 363.35,54.12 362.95,56.00 C362.55,57.88 361.21,59.70 360.75,63.70 C360.29,67.70 360.31,74.88 360.18,80.00 C360.05,85.12 359.99,92.00 359.95,94.40 L359.45,94.40 C359.41,92.00 359.35,85.12 359.22,80.00 C359.09,74.88 359.11,67.70 358.65,63.70 C358.19,59.70 356.85,57.88 356.45,56.00 C356.05,54.12 356.17,54.72 356.25,52.40 C356.33,50.08 357.05,45.52 356.95,42.10 C356.85,38.68 355.26,35.02 355.65,31.90 C356.04,28.78 358.65,26.95 359.28,23.40 C359.91,19.85 359.42,12.73 359.45,10.60 Z" fill="#fff" stroke="#b3121c" stroke-width="1.1"/><line x1="356.94" y1="42.00" x2="362.46" y2="42.00" stroke="#740d14" stroke-width="0.8"/><line x1="356.41" y1="34.69" x2="362.99" y2="34.69" stroke="#b3121c" stroke-width="0.6" stroke-dasharray="0.7,0.7"/><line x1="356.93" y1="56.27" x2="362.47" y2="56.27" stroke="#b3121c" stroke-width="0.6" stroke-dasharray="0.7,0.7"/><circle cx="359.96" cy="41.10" r="0.5" fill="#b3121c" opacity="0.9"/><circle cx="358.79" cy="33.91" r="0.5" fill="#b3121c" opacity="0.9"/><circle cx="358.62" cy="33.63" r="0.5" fill="#b3121c" opacity="0.9"/><circle cx="359.91" cy="47.66" r="0.5" fill="#b3121c" opacity="0.9"/><circle cx="358.94" cy="52.22" r="0.5" fill="#b3121c" opacity="0.9"/><circle cx="359.50" cy="27.68" r="0.5" fill="#b3121c" opacity="0.9"/><circle cx="359.37" cy="28.49" r="0.5" fill="#b3121c" opacity="0.9"/><circle cx="359.49" cy="56.67" r="0.5" fill="#b3121c" opacity="0.9"/><circle cx="359.45" cy="30.66" r="0.5" fill="#b3121c" opacity="0.9"/><circle cx="358.87" cy="55.66" r="0.5" fill="#b3121c" opacity="0.9"/><circle cx="359.69" cy="55.76" r="0.5" fill="#b3121c" opacity="0.9"/><circle cx="360.22" cy="29.51" r="0.5" fill="#b3121c" opacity="0.9"/><circle cx="359.74" cy="64.09" r="0.5" fill="#b3121c" opacity="0.9"/><circle cx="359.28" cy="33.87" r="0.5" fill="#b3121c" opacity="0.9"/><circle cx="359.77" cy="49.28" r="0.5" fill="#b3121c" opacity="0.9"/><circle cx="360.95" cy="33.51" r="0.5" fill="#b3121c" opacity="0.9"/><circle cx="358.99" cy="51.44" r="0.5" fill="#b3121c" opacity="0.9"/><circle cx="359.47" cy="61.27" r="0.5" fill="#b3121c" opacity="0.9"/><circle cx="360.42" cy="54.83" r="0.5" fill="#b3121c" opacity="0.9"/><circle cx="359.55" cy="57.10" r="0.5" fill="#b3121c" opacity="0.9"/><circle cx="360.05" cy="37.43" r="0.5" fill="#b3121c" opacity="0.9"/><circle cx="359.93" cy="55.52" r="0.5" fill="#b3121c" opacity="0.9"/><circle cx="360.42" cy="38.44" r="0.5" fill="#b3121c" opacity="0.9"/><circle cx="360.42" cy="50.53" r="0.5" fill="#b3121c" opacity="0.9"/>
<path d="M372.75,10.60 C372.79,13.30 372.33,21.97 372.98,26.80 C373.63,31.63 376.27,36.20 376.65,39.60 C377.03,43.00 375.40,45.07 375.25,47.20 C375.10,49.33 375.75,50.93 375.75,52.40 C375.75,53.87 375.53,53.98 375.25,56.00 C374.97,58.02 374.38,61.37 374.05,64.50 C373.72,67.63 373.47,70.95 373.25,74.80 C373.03,78.65 372.83,85.47 372.75,87.60 L372.25,87.60 C372.17,85.47 371.97,78.65 371.75,74.80 C371.53,70.95 371.28,67.63 370.95,64.50 C370.62,61.37 370.03,58.02 369.75,56.00 C369.47,53.98 369.25,53.87 369.25,52.40 C369.25,50.93 369.90,49.33 369.75,47.20 C369.60,45.07 367.97,43.00 368.35,39.60 C368.73,36.20 371.37,31.63 372.02,26.80 C372.67,21.97 372.21,13.30 372.25,10.60 Z" fill="#fff" stroke="#137a1e" stroke-width="1.1"/><line x1="369.71" y1="47.00" x2="375.29" y2="47.00" stroke="#0d4c14" stroke-width="0.8"/><line x1="369.06" y1="38.51" x2="375.94" y2="38.51" stroke="#137a1e" stroke-width="0.6" stroke-dasharray="0.7,0.7"/><line x1="370.45" y1="58.15" x2="374.55" y2="58.15" stroke="#137a1e" stroke-width="0.6" stroke-dasharray="0.7,0.7"/><circle cx="373.24" cy="34.39" r="0.5" fill="#137a1e" opacity="0.9"/><circle cx="372.52" cy="68.68" r="0.5" fill="#137a1e" opacity="0.9"/><circle cx="372.21" cy="32.19" r="0.5" fill="#137a1e" opacity="0.9"/><circle cx="372.46" cy="67.16" r="0.5" fill="#137a1e" opacity="0.9"/><circle cx="372.11" cy="48.56" r="0.5" fill="#137a1e" opacity="0.9"/><circle cx="371.99" cy="41.40" r="0.5" fill="#137a1e" opacity="0.9"/><circle cx="372.41" cy="66.68" r="0.5" fill="#137a1e" opacity="0.9"/><circle cx="373.01" cy="54.24" r="0.5" fill="#137a1e" opacity="0.9"/><circle cx="372.28" cy="50.05" r="0.5" fill="#137a1e" opacity="0.9"/><circle cx="372.91" cy="48.72" r="0.5" fill="#137a1e" opacity="0.9"/><circle cx="372.59" cy="41.43" r="0.5" fill="#137a1e" opacity="0.9"/><circle cx="372.35" cy="58.18" r="0.5" fill="#137a1e" opacity="0.9"/><circle cx="372.37" cy="42.46" r="0.5" fill="#137a1e" opacity="0.9"/><circle cx="373.65" cy="41.30" r="0.5" fill="#137a1e" opacity="0.9"/><circle cx="372.20" cy="50.04" r="0.5" fill="#137a1e" opacity="0.9"/><circle cx="371.47" cy="41.16" r="0.5" fill="#137a1e" opacity="0.9"/><circle cx="372.74" cy="59.64" r="0.5" fill="#137a1e" opacity="0.9"/><circle cx="373.16" cy="57.49" r="0.5" fill="#137a1e" opacity="0.9"/><circle cx="372.56" cy="70.81" r="0.5" fill="#137a1e" opacity="0.9"/><circle cx="372.44" cy="34.09" r="0.5" fill="#137a1e" opacity="0.9"/><circle cx="372.45" cy="64.54" r="0.5" fill="#137a1e" opacity="0.9"/><circle cx="373.31" cy="38.11" r="0.5" fill="#137a1e" opacity="0.9"/><circle cx="372.97" cy="58.48" r="0.5" fill="#137a1e" opacity="0.9"/><circle cx="372.18" cy="41.03" r="0.5" fill="#137a1e" opacity="0.9"/><circle cx="373.03" cy="55.44" r="0.5" fill="#137a1e" opacity="0.9"/><circle cx="372.72" cy="60.50" r="0.5" fill="#137a1e" opacity="0.9"/><circle cx="371.79" cy="45.70" r="0.5" fill="#137a1e" opacity="0.9"/><circle cx="371.92" cy="44.17" r="0.5" fill="#137a1e" opacity="0.9"/>
<path d="M394.35,13.70 C394.38,15.42 393.77,20.55 394.52,24.00 C395.27,27.45 398.71,30.95 398.85,34.40 C398.99,37.85 395.57,41.63 395.35,44.70 C395.13,47.77 397.63,49.92 397.55,52.80 C397.47,55.68 395.38,58.75 394.85,62.00 C394.32,65.25 394.43,70.58 394.35,72.30 L393.85,72.30 C393.77,70.58 393.88,65.25 393.35,62.00 C392.82,58.75 390.73,55.68 390.65,52.80 C390.57,49.92 393.07,47.77 392.85,44.70 C392.63,41.63 389.21,37.85 389.35,34.40 C389.49,30.95 392.93,27.45 393.68,24.00 C394.43,20.55 393.82,15.42 393.85,13.70 Z" fill="#fff" stroke="#b3121c" stroke-width="1.1"/><line x1="389.35" y1="34.40" x2="398.85" y2="34.40" stroke="#740d14" stroke-width="0.8"/><line x1="390.07" y1="33.62" x2="398.13" y2="33.62" stroke="#b3121c" stroke-width="0.6" stroke-dasharray="0.7,0.7"/><line x1="391.17" y1="52.38" x2="397.03" y2="52.38" stroke="#b3121c" stroke-width="0.6" stroke-dasharray="0.7,0.7"/><circle cx="393.25" cy="36.27" r="0.5" fill="#b3121c" opacity="0.9"/><circle cx="394.22" cy="26.29" r="0.5" fill="#b3121c" opacity="0.9"/><circle cx="394.62" cy="36.59" r="0.5" fill="#b3121c" opacity="0.9"/><circle cx="394.53" cy="51.62" r="0.5" fill="#b3121c" opacity="0.9"/><circle cx="394.47" cy="39.95" r="0.5" fill="#b3121c" opacity="0.9"/><circle cx="394.57" cy="50.56" r="0.5" fill="#b3121c" opacity="0.9"/><circle cx="394.16" cy="44.83" r="0.5" fill="#b3121c" opacity="0.9"/><circle cx="394.60" cy="28.51" r="0.5" fill="#b3121c" opacity="0.9"/><circle cx="394.55" cy="51.51" r="0.5" fill="#b3121c" opacity="0.9"/><circle cx="394.58" cy="39.85" r="0.5" fill="#b3121c" opacity="0.9"/><circle cx="393.85" cy="56.57" r="0.5" fill="#b3121c" opacity="0.9"/><circle cx="393.23" cy="36.41" r="0.5" fill="#b3121c" opacity="0.9"/><circle cx="393.63" cy="47.88" r="0.5" fill="#b3121c" opacity="0.9"/><circle cx="394.67" cy="32.30" r="0.5" fill="#b3121c" opacity="0.9"/><circle cx="394.17" cy="43.82" r="0.5" fill="#b3121c" opacity="0.9"/><circle cx="393.79" cy="43.08" r="0.5" fill="#b3121c" opacity="0.9"/><circle cx="393.88" cy="35.51" r="0.5" fill="#b3121c" opacity="0.9"/><circle cx="392.91" cy="35.72" r="0.5" fill="#b3121c" opacity="0.9"/><circle cx="394.69" cy="49.17" r="0.5" fill="#b3121c" opacity="0.9"/><circle cx="394.29" cy="50.26" r="0.5" fill="#b3121c" opacity="0.9"/><circle cx="394.07" cy="49.12" r="0.5" fill="#b3121c" opacity="0.9"/><circle cx="394.75" cy="50.90" r="0.5" fill="#b3121c" opacity="0.9"/><circle cx="393.46" cy="55.44" r="0.5" fill="#b3121c" opacity="0.9"/><circle cx="394.42" cy="37.32" r="0.5" fill="#b3121c" opacity="0.9"/>
<path d="M406.95,13.70 C406.99,15.82 406.50,22.38 407.18,26.40 C407.86,30.42 410.54,34.17 411.05,37.80 C411.56,41.43 410.77,45.13 410.25,48.20 C409.73,51.27 408.50,53.90 407.95,56.20 C407.40,58.50 407.12,61.03 406.95,62.00 L406.45,62.00 C406.28,61.03 406.00,58.50 405.45,56.20 C404.90,53.90 403.67,51.27 403.15,48.20 C402.63,45.13 401.84,41.43 402.35,37.80 C402.86,34.17 405.54,30.42 406.22,26.40 C406.90,22.38 406.41,15.82 406.45,13.70 Z" fill="#fff" stroke="#137a1e" stroke-width="1.1"/><line x1="402.67" y1="42.00" x2="410.73" y2="42.00" stroke="#0d4c14" stroke-width="0.8"/><line x1="403.39" y1="35.92" x2="410.01" y2="35.92" stroke="#137a1e" stroke-width="0.6" stroke-dasharray="0.7,0.7"/><line x1="403.54" y1="48.11" x2="409.86" y2="48.11" stroke="#137a1e" stroke-width="0.6" stroke-dasharray="0.7,0.7"/><circle cx="405.73" cy="35.88" r="0.5" fill="#137a1e" opacity="0.9"/><circle cx="406.89" cy="37.96" r="0.5" fill="#137a1e" opacity="0.9"/><circle cx="406.56" cy="38.76" r="0.5" fill="#137a1e" opacity="0.9"/><circle cx="406.99" cy="54.22" r="0.5" fill="#137a1e" opacity="0.9"/><circle cx="405.73" cy="38.64" r="0.5" fill="#137a1e" opacity="0.9"/><circle cx="407.28" cy="43.76" r="0.5" fill="#137a1e" opacity="0.9"/><circle cx="405.93" cy="35.22" r="0.5" fill="#137a1e" opacity="0.9"/><circle cx="406.68" cy="32.86" r="0.5" fill="#137a1e" opacity="0.9"/><circle cx="406.76" cy="47.02" r="0.5" fill="#137a1e" opacity="0.9"/><circle cx="407.11" cy="45.03" r="0.5" fill="#137a1e" opacity="0.9"/><circle cx="407.13" cy="36.17" r="0.5" fill="#137a1e" opacity="0.9"/><circle cx="406.67" cy="51.50" r="0.5" fill="#137a1e" opacity="0.9"/><circle cx="406.81" cy="31.13" r="0.5" fill="#137a1e" opacity="0.9"/><circle cx="407.75" cy="37.59" r="0.5" fill="#137a1e" opacity="0.9"/><circle cx="406.16" cy="33.87" r="0.5" fill="#137a1e" opacity="0.9"/><circle cx="405.61" cy="42.93" r="0.5" fill="#137a1e" opacity="0.9"/><circle cx="407.27" cy="50.81" r="0.5" fill="#137a1e" opacity="0.9"/><circle cx="407.42" cy="48.70" r="0.5" fill="#137a1e" opacity="0.9"/><circle cx="407.70" cy="35.27" r="0.5" fill="#137a1e" opacity="0.9"/><circle cx="406.59" cy="56.05" r="0.5" fill="#137a1e" opacity="0.9"/><circle cx="407.10" cy="49.62" r="0.5" fill="#137a1e" opacity="0.9"/><circle cx="406.50" cy="46.08" r="0.5" fill="#137a1e" opacity="0.9"/><circle cx="406.79" cy="46.55" r="0.5" fill="#137a1e" opacity="0.9"/><circle cx="406.06" cy="47.07" r="0.5" fill="#137a1e" opacity="0.9"/><circle cx="406.67" cy="57.51" r="0.5" fill="#137a1e" opacity="0.9"/><circle cx="407.91" cy="46.25" r="0.5" fill="#137a1e" opacity="0.9"/><circle cx="406.58" cy="31.21" r="0.5" fill="#137a1e" opacity="0.9"/><circle cx="407.13" cy="38.31" r="0.5" fill="#137a1e" opacity="0.9"/>
<path d="M248.4,8.9 L248.4,121.2 L415.7,121.2" fill="none" stroke="#000" stroke-width="1.25"/>
<line x1="245.8" y1="9.2" x2="248.4" y2="9.2" stroke="#111" stroke-width="1.05"/>
<text x="245.1" y="10.799999999999999" font-size="4.6" text-anchor="end" fill="#111" stroke="#111" stroke-width="0.12" font-weight="bold">120</text>
<line x1="245.8" y1="42.8" x2="248.4" y2="42.8" stroke="#111" stroke-width="1.05"/>
<text x="245.1" y="44.4" font-size="4.6" text-anchor="end" fill="#111" stroke="#111" stroke-width="0.12" font-weight="bold">90</text>
<line x1="245.8" y1="76.4" x2="248.4" y2="76.4" stroke="#111" stroke-width="1.05"/>
<text x="245.1" y="78.0" font-size="4.6" text-anchor="end" fill="#111" stroke="#111" stroke-width="0.12" font-weight="bold">60</text>
<line x1="245.8" y1="110.0" x2="248.4" y2="110.0" stroke="#111" stroke-width="1.05"/>
<text x="245.1" y="111.6" font-size="4.6" text-anchor="end" fill="#111" stroke="#111" stroke-width="0.12" font-weight="bold">30</text>
<line x1="262.9" y1="121.2" x2="262.9" y2="124.2" stroke="#000" stroke-width="1.1"/>
<line x1="297.9" y1="121.2" x2="297.9" y2="124.2" stroke="#000" stroke-width="1.1"/>
<line x1="331.9" y1="121.2" x2="331.9" y2="124.2" stroke="#000" stroke-width="1.1"/>
<line x1="366.4" y1="121.2" x2="366.4" y2="124.2" stroke="#000" stroke-width="1.1"/>
<line x1="401.4" y1="121.2" x2="401.4" y2="124.2" stroke="#000" stroke-width="1.1"/>
<text x="265.4" y="129.0" font-size="5.2" text-anchor="end" font-weight="bold" fill="#050505" stroke="#050505" stroke-width="0.08" transform="rotate(-45 265.4 129.0)">On admission</text>
<text x="300.4" y="129.0" font-size="5.2" text-anchor="end" font-weight="bold" fill="#050505" stroke="#050505" stroke-width="0.08" transform="rotate(-45 300.4 129.0)">Discharge</text>
<text x="334.4" y="129.0" font-size="5.2" text-anchor="end" font-weight="bold" fill="#050505" stroke="#050505" stroke-width="0.08" transform="rotate(-45 334.4 129.0)">4 months later</text>
<text x="368.9" y="129.0" font-size="5.2" text-anchor="end" font-weight="bold" fill="#050505" stroke="#050505" stroke-width="0.08" transform="rotate(-45 368.9 129.0)">8 months later</text>
<text x="403.9" y="129.0" font-size="5.2" text-anchor="end" font-weight="bold" fill="#050505" stroke="#050505" stroke-width="0.08" transform="rotate(-45 403.9 129.0)">12 months later</text>
<text x="233.432" y="65.0" font-size="6.2" text-anchor="middle" font-weight="bold" fill="#111" stroke="#111" stroke-width="0.15" transform="rotate(-90 233.432 65.0)">FEV1</text>
<text x="250.5" y="9.8" font-size="5" fill="#222" stroke="#222" stroke-width="0.1">%</text>
<text x="413.7" y="128.5" font-size="4.6" fill="#555">t</text>
<rect x="396.8" y="92.0" width="5.3" height="3.0" fill="#fff" stroke="#a31e24" stroke-width="1.35"/>
<rect x="396.8" y="101.8" width="5.3" height="3.0" fill="#fff" stroke="#156e1e" stroke-width="1.35"/>
<text x="406.8" y="95.59700000000001" font-family="Liberation Serif, serif" font-size="5.9" font-style="normal" fill="#222" textLength="42.6" lengthAdjust="spacingAndGlyphs">Severe case group</text>
<text x="406.8" y="105.397" font-family="Liberation Serif, serif" font-size="5.9" font-style="normal" fill="#222" textLength="41.800000000000004" lengthAdjust="spacingAndGlyphs">Non severe group</text>
<path d="M488.65,28.90 C488.67,30.60 488.49,35.97 488.76,39.10 C489.03,42.23 489.85,44.88 490.25,47.70 C490.65,50.52 490.77,53.28 491.15,56.00 C491.53,58.72 492.55,61.67 492.55,64.00 C492.55,66.33 491.62,68.22 491.15,70.00 C490.68,71.78 490.12,72.20 489.75,74.70 C489.38,77.20 489.12,79.62 488.94,85.00 C488.76,90.38 488.70,103.33 488.65,107.00 L488.15,107.00 C488.10,103.33 488.04,90.38 487.86,85.00 C487.68,79.62 487.42,77.20 487.05,74.70 C486.68,72.20 486.12,71.78 485.65,70.00 C485.18,68.22 484.25,66.33 484.25,64.00 C484.25,61.67 485.27,58.72 485.65,56.00 C486.03,53.28 486.15,50.52 486.55,47.70 C486.95,44.88 487.77,42.23 488.04,39.10 C488.31,35.97 488.13,30.60 488.15,28.90 Z" fill="#fff" stroke="#b3121c" stroke-width="1.1"/><line x1="484.25" y1="64.00" x2="492.55" y2="64.00" stroke="#740d14" stroke-width="0.8"/><line x1="486.24" y1="54.28" x2="490.56" y2="54.28" stroke="#b3121c" stroke-width="0.6" stroke-dasharray="0.7,0.7"/><line x1="486.20" y1="70.49" x2="490.60" y2="70.49" stroke="#b3121c" stroke-width="0.6" stroke-dasharray="0.7,0.7"/><circle cx="488.34" cy="49.73" r="0.5" fill="#b3121c" opacity="0.9"/><circle cx="488.08" cy="50.62" r="0.5" fill="#b3121c" opacity="0.9"/><circle cx="488.29" cy="56.31" r="0.5" fill="#b3121c" opacity="0.9"/><circle cx="487.56" cy="66.94" r="0.5" fill="#b3121c" opacity="0.9"/><circle cx="488.71" cy="71.19" r="0.5" fill="#b3121c" opacity="0.9"/><circle cx="488.72" cy="72.25" r="0.5" fill="#b3121c" opacity="0.9"/><circle cx="487.62" cy="55.85" r="0.5" fill="#b3121c" opacity="0.9"/><circle cx="488.67" cy="70.21" r="0.5" fill="#b3121c" opacity="0.9"/><circle cx="487.97" cy="63.88" r="0.5" fill="#b3121c" opacity="0.9"/><circle cx="487.57" cy="57.27" r="0.5" fill="#b3121c" opacity="0.9"/><circle cx="488.41" cy="46.50" r="0.5" fill="#b3121c" opacity="0.9"/><circle cx="489.59" cy="63.95" r="0.5" fill="#b3121c" opacity="0.9"/><circle cx="487.87" cy="51.67" r="0.5" fill="#b3121c" opacity="0.9"/><circle cx="488.34" cy="77.54" r="0.5" fill="#b3121c" opacity="0.9"/><circle cx="487.75" cy="64.40" r="0.5" fill="#b3121c" opacity="0.9"/><circle cx="488.45" cy="64.80" r="0.5" fill="#b3121c" opacity="0.9"/><circle cx="487.32" cy="63.43" r="0.5" fill="#b3121c" opacity="0.9"/><circle cx="488.82" cy="61.11" r="0.5" fill="#b3121c" opacity="0.9"/><circle cx="488.62" cy="55.79" r="0.5" fill="#b3121c" opacity="0.9"/><circle cx="489.20" cy="68.94" r="0.5" fill="#b3121c" opacity="0.9"/><circle cx="489.14" cy="63.79" r="0.5" fill="#b3121c" opacity="0.9"/><circle cx="488.78" cy="67.19" r="0.5" fill="#b3121c" opacity="0.9"/><circle cx="487.19" cy="63.31" r="0.5" fill="#b3121c" opacity="0.9"/><circle cx="488.93" cy="57.48" r="0.5" fill="#b3121c" opacity="0.9"/>
<path d="M501.35,12.70 C501.37,15.58 501.38,25.62 501.46,30.00 C501.54,34.38 501.84,36.33 501.85,39.00 C501.86,41.67 501.44,44.00 501.52,46.00 C501.60,48.00 501.86,49.50 502.35,51.00 C502.84,52.50 503.92,53.67 504.45,55.00 C504.98,56.33 505.55,57.33 505.55,59.00 C505.55,60.67 504.83,62.83 504.45,65.00 C504.07,67.17 503.33,69.72 503.25,72.00 C503.17,74.28 504.13,76.27 503.95,78.70 C503.77,81.13 502.58,82.88 502.15,86.60 C501.72,90.32 501.48,98.60 501.35,101.00 L500.85,101.00 C500.72,98.60 500.48,90.32 500.05,86.60 C499.62,82.88 498.43,81.13 498.25,78.70 C498.07,76.27 499.03,74.28 498.95,72.00 C498.87,69.72 498.13,67.17 497.75,65.00 C497.37,62.83 496.65,60.67 496.65,59.00 C496.65,57.33 497.22,56.33 497.75,55.00 C498.28,53.67 499.36,52.50 499.85,51.00 C500.34,49.50 500.60,48.00 500.68,46.00 C500.76,44.00 500.34,41.67 500.35,39.00 C500.36,36.33 500.66,34.38 500.74,30.00 C500.82,25.62 500.83,15.58 500.85,12.70 Z" fill="#fff" stroke="#137a1e" stroke-width="1.1"/><line x1="497.75" y1="65.00" x2="504.45" y2="65.00" stroke="#0d4c14" stroke-width="0.8"/><line x1="497.82" y1="56.19" x2="504.38" y2="56.19" stroke="#137a1e" stroke-width="0.6" stroke-dasharray="0.7,0.7"/><line x1="498.90" y1="76.28" x2="503.30" y2="76.28" stroke="#137a1e" stroke-width="0.6" stroke-dasharray="0.7,0.7"/><circle cx="501.23" cy="66.56" r="0.5" fill="#137a1e" opacity="0.9"/><circle cx="500.52" cy="54.80" r="0.5" fill="#137a1e" opacity="0.9"/><circle cx="500.85" cy="74.09" r="0.5" fill="#137a1e" opacity="0.9"/><circle cx="501.44" cy="63.52" r="0.5" fill="#137a1e" opacity="0.9"/><circle cx="501.91" cy="60.26" r="0.5" fill="#137a1e" opacity="0.9"/><circle cx="500.64" cy="72.99" r="0.5" fill="#137a1e" opacity="0.9"/><circle cx="501.98" cy="64.24" r="0.5" fill="#137a1e" opacity="0.9"/><circle cx="501.73" cy="75.43" r="0.5" fill="#137a1e" opacity="0.9"/><circle cx="501.35" cy="57.37" r="0.5" fill="#137a1e" opacity="0.9"/><circle cx="500.72" cy="74.21" r="0.5" fill="#137a1e" opacity="0.9"/><circle cx="501.27" cy="55.96" r="0.5" fill="#137a1e" opacity="0.9"/><circle cx="500.70" cy="59.00" r="0.5" fill="#137a1e" opacity="0.9"/><circle cx="502.39" cy="57.88" r="0.5" fill="#137a1e" opacity="0.9"/><circle cx="500.35" cy="76.99" r="0.5" fill="#137a1e" opacity="0.9"/><circle cx="502.00" cy="56.27" r="0.5" fill="#137a1e" opacity="0.9"/><circle cx="501.52" cy="82.25" r="0.5" fill="#137a1e" opacity="0.9"/><circle cx="501.03" cy="84.89" r="0.5" fill="#137a1e" opacity="0.9"/><circle cx="500.99" cy="51.00" r="0.5" fill="#137a1e" opacity="0.9"/><circle cx="501.21" cy="73.25" r="0.5" fill="#137a1e" opacity="0.9"/><circle cx="501.83" cy="79.50" r="0.5" fill="#137a1e" opacity="0.9"/><circle cx="501.75" cy="69.45" r="0.5" fill="#137a1e" opacity="0.9"/><circle cx="501.23" cy="59.76" r="0.5" fill="#137a1e" opacity="0.9"/><circle cx="501.53" cy="69.24" r="0.5" fill="#137a1e" opacity="0.9"/><circle cx="500.61" cy="73.90" r="0.5" fill="#137a1e" opacity="0.9"/><circle cx="501.73" cy="59.43" r="0.5" fill="#137a1e" opacity="0.9"/><circle cx="500.57" cy="75.11" r="0.5" fill="#137a1e" opacity="0.9"/><circle cx="499.89" cy="59.49" r="0.5" fill="#137a1e" opacity="0.9"/><circle cx="500.63" cy="55.64" r="0.5" fill="#137a1e" opacity="0.9"/>
<path d="M523.05,21.20 C523.13,22.48 523.22,25.92 523.55,28.90 C523.88,31.88 524.50,35.68 525.05,39.10 C525.60,42.52 526.60,46.55 526.85,49.40 C527.10,52.25 526.68,52.65 526.55,56.20 C526.42,59.75 526.38,66.63 526.05,70.70 C525.72,74.77 524.97,78.30 524.55,80.60 C524.13,82.90 523.80,82.37 523.55,84.50 C523.30,86.63 523.13,91.92 523.05,93.40 L522.55,93.40 C522.47,91.92 522.30,86.63 522.05,84.50 C521.80,82.37 521.47,82.90 521.05,80.60 C520.63,78.30 519.88,74.77 519.55,70.70 C519.22,66.63 519.18,59.75 519.05,56.20 C518.92,52.65 518.50,52.25 518.75,49.40 C519.00,46.55 520.00,42.52 520.55,39.10 C521.10,35.68 521.72,31.88 522.05,28.90 C522.38,25.92 522.47,22.48 522.55,21.20 Z" fill="#fff" stroke="#b3121c" stroke-width="1.1"/><line x1="518.78" y1="50.00" x2="526.82" y2="50.00" stroke="#740d14" stroke-width="0.8"/><line x1="519.63" y1="46.65" x2="525.97" y2="46.65" stroke="#b3121c" stroke-width="0.6" stroke-dasharray="0.7,0.7"/><line x1="519.89" y1="68.85" x2="525.71" y2="68.85" stroke="#b3121c" stroke-width="0.6" stroke-dasharray="0.7,0.7"/><circle cx="523.28" cy="50.76" r="0.5" fill="#b3121c" opacity="0.9"/><circle cx="521.58" cy="52.08" r="0.5" fill="#b3121c" opacity="0.9"/><circle cx="522.79" cy="59.31" r="0.5" fill="#b3121c" opacity="0.9"/><circle cx="522.73" cy="44.79" r="0.5" fill="#b3121c" opacity="0.9"/><circle cx="522.77" cy="39.15" r="0.5" fill="#b3121c" opacity="0.9"/><circle cx="522.52" cy="76.84" r="0.5" fill="#b3121c" opacity="0.9"/><circle cx="522.24" cy="43.45" r="0.5" fill="#b3121c" opacity="0.9"/><circle cx="522.33" cy="38.70" r="0.5" fill="#b3121c" opacity="0.9"/><circle cx="522.44" cy="58.83" r="0.5" fill="#b3121c" opacity="0.9"/><circle cx="523.88" cy="46.39" r="0.5" fill="#b3121c" opacity="0.9"/><circle cx="523.83" cy="63.60" r="0.5" fill="#b3121c" opacity="0.9"/><circle cx="522.71" cy="30.85" r="0.5" fill="#b3121c" opacity="0.9"/><circle cx="522.72" cy="46.25" r="0.5" fill="#b3121c" opacity="0.9"/><circle cx="521.92" cy="64.82" r="0.5" fill="#b3121c" opacity="0.9"/><circle cx="521.68" cy="62.02" r="0.5" fill="#b3121c" opacity="0.9"/><circle cx="522.05" cy="57.03" r="0.5" fill="#b3121c" opacity="0.9"/><circle cx="522.80" cy="60.21" r="0.5" fill="#b3121c" opacity="0.9"/><circle cx="522.97" cy="77.90" r="0.5" fill="#b3121c" opacity="0.9"/><circle cx="521.73" cy="55.19" r="0.5" fill="#b3121c" opacity="0.9"/><circle cx="522.12" cy="53.97" r="0.5" fill="#b3121c" opacity="0.9"/><circle cx="522.61" cy="61.19" r="0.5" fill="#b3121c" opacity="0.9"/><circle cx="523.58" cy="67.92" r="0.5" fill="#b3121c" opacity="0.9"/><circle cx="522.56" cy="71.28" r="0.5" fill="#b3121c" opacity="0.9"/><circle cx="522.50" cy="61.94" r="0.5" fill="#b3121c" opacity="0.9"/>
<path d="M535.75,15.20 C535.83,19.17 536.21,33.58 536.25,39.00 C536.29,44.42 535.73,45.20 535.98,47.70 C536.23,50.20 537.07,51.63 537.75,54.00 C538.43,56.37 539.88,59.12 540.05,61.90 C540.22,64.68 539.30,67.58 538.75,70.70 C538.20,73.82 537.25,76.48 536.75,80.60 C536.25,84.72 535.92,92.93 535.75,95.40 L535.25,95.40 C535.08,92.93 534.75,84.72 534.25,80.60 C533.75,76.48 532.80,73.82 532.25,70.70 C531.70,67.58 530.78,64.68 530.95,61.90 C531.12,59.12 532.57,56.37 533.25,54.00 C533.93,51.63 534.77,50.20 535.02,47.70 C535.27,45.20 534.71,44.42 534.75,39.00 C534.79,33.58 535.17,19.17 535.25,15.20 Z" fill="#fff" stroke="#137a1e" stroke-width="1.1"/><line x1="530.96" y1="62.00" x2="540.04" y2="62.00" stroke="#0d4c14" stroke-width="0.8"/><line x1="533.10" y1="55.90" x2="537.90" y2="55.90" stroke="#137a1e" stroke-width="0.6" stroke-dasharray="0.7,0.7"/><line x1="532.86" y1="71.74" x2="538.14" y2="71.74" stroke="#137a1e" stroke-width="0.6" stroke-dasharray="0.7,0.7"/><circle cx="535.00" cy="75.34" r="0.5" fill="#137a1e" opacity="0.9"/><circle cx="534.52" cy="62.96" r="0.5" fill="#137a1e" opacity="0.9"/><circle cx="536.61" cy="63.32" r="0.5" fill="#137a1e" opacity="0.9"/><circle cx="534.92" cy="66.04" r="0.5" fill="#137a1e" opacity="0.9"/><circle cx="535.88" cy="74.37" r="0.5" fill="#137a1e" opacity="0.9"/><circle cx="535.33" cy="78.51" r="0.5" fill="#137a1e" opacity="0.9"/><circle cx="535.46" cy="72.19" r="0.5" fill="#137a1e" opacity="0.9"/><circle cx="536.57" cy="61.99" r="0.5" fill="#137a1e" opacity="0.9"/><circle cx="535.59" cy="50.60" r="0.5" fill="#137a1e" opacity="0.9"/><circle cx="535.86" cy="54.08" r="0.5" fill="#137a1e" opacity="0.9"/><circle cx="535.29" cy="52.43" r="0.5" fill="#137a1e" opacity="0.9"/><circle cx="535.63" cy="58.30" r="0.5" fill="#137a1e" opacity="0.9"/><circle cx="534.97" cy="56.89" r="0.5" fill="#137a1e" opacity="0.9"/><circle cx="536.32" cy="71.00" r="0.5" fill="#137a1e" opacity="0.9"/><circle cx="536.19" cy="66.67" r="0.5" fill="#137a1e" opacity="0.9"/><circle cx="534.53" cy="58.47" r="0.5" fill="#137a1e" opacity="0.9"/><circle cx="535.32" cy="76.66" r="0.5" fill="#137a1e" opacity="0.9"/><circle cx="534.82" cy="65.50" r="0.5" fill="#137a1e" opacity="0.9"/><circle cx="534.89" cy="60.60" r="0.5" fill="#137a1e" opacity="0.9"/><circle cx="534.10" cy="62.60" r="0.5" fill="#137a1e" opacity="0.9"/><circle cx="535.40" cy="61.47" r="0.5" fill="#137a1e" opacity="0.9"/><circle cx="535.74" cy="72.07" r="0.5" fill="#137a1e" opacity="0.9"/><circle cx="534.83" cy="70.51" r="0.5" fill="#137a1e" opacity="0.9"/><circle cx="535.17" cy="58.63" r="0.5" fill="#137a1e" opacity="0.9"/><circle cx="535.34" cy="66.79" r="0.5" fill="#137a1e" opacity="0.9"/><circle cx="535.13" cy="55.71" r="0.5" fill="#137a1e" opacity="0.9"/><circle cx="535.00" cy="61.74" r="0.5" fill="#137a1e" opacity="0.9"/><circle cx="534.27" cy="62.07" r="0.5" fill="#137a1e" opacity="0.9"/>
<path d="M557.65,4.60 C557.68,6.58 557.14,12.67 557.82,16.50 C558.50,20.33 561.28,24.18 561.75,27.60 C562.22,31.02 561.10,34.03 560.65,37.00 C560.20,39.97 559.13,42.73 559.05,45.40 C558.97,48.07 559.83,50.17 560.15,53.00 C560.47,55.83 560.95,59.57 560.95,62.40 C560.95,65.23 560.53,67.15 560.15,70.00 C559.77,72.85 559.03,76.50 558.65,79.50 C558.27,82.50 558.05,84.72 557.88,88.00 C557.71,91.28 557.69,97.33 557.65,99.20 L557.15,99.20 C557.11,97.33 557.09,91.28 556.92,88.00 C556.75,84.72 556.53,82.50 556.15,79.50 C555.77,76.50 555.03,72.85 554.65,70.00 C554.27,67.15 553.85,65.23 553.85,62.40 C553.85,59.57 554.33,55.83 554.65,53.00 C554.97,50.17 555.83,48.07 555.75,45.40 C555.67,42.73 554.60,39.97 554.15,37.00 C553.70,34.03 552.58,31.02 553.05,27.60 C553.52,24.18 556.30,20.33 556.98,16.50 C557.66,12.67 557.12,6.58 557.15,4.60 Z" fill="#fff" stroke="#b3121c" stroke-width="1.1"/><line x1="554.65" y1="53.00" x2="560.15" y2="53.00" stroke="#740d14" stroke-width="0.8"/><line x1="553.94" y1="31.80" x2="560.86" y2="31.80" stroke="#b3121c" stroke-width="0.6" stroke-dasharray="0.7,0.7"/><line x1="554.49" y1="64.67" x2="560.31" y2="64.67" stroke="#b3121c" stroke-width="0.6" stroke-dasharray="0.7,0.7"/><circle cx="557.50" cy="42.15" r="0.5" fill="#b3121c" opacity="0.9"/><circle cx="557.64" cy="50.20" r="0.5" fill="#b3121c" opacity="0.9"/><circle cx="557.35" cy="18.91" r="0.5" fill="#b3121c" opacity="0.9"/><circle cx="556.85" cy="27.03" r="0.5" fill="#b3121c" opacity="0.9"/><circle cx="557.85" cy="40.30" r="0.5" fill="#b3121c" opacity="0.9"/><circle cx="557.21" cy="58.22" r="0.5" fill="#b3121c" opacity="0.9"/><circle cx="558.17" cy="54.65" r="0.5" fill="#b3121c" opacity="0.9"/><circle cx="557.92" cy="21.94" r="0.5" fill="#b3121c" opacity="0.9"/><circle cx="557.77" cy="38.94" r="0.5" fill="#b3121c" opacity="0.9"/><circle cx="557.25" cy="78.60" r="0.5" fill="#b3121c" opacity="0.9"/><circle cx="557.76" cy="55.42" r="0.5" fill="#b3121c" opacity="0.9"/><circle cx="557.43" cy="74.39" r="0.5" fill="#b3121c" opacity="0.9"/><circle cx="557.33" cy="77.23" r="0.5" fill="#b3121c" opacity="0.9"/><circle cx="557.56" cy="76.56" r="0.5" fill="#b3121c" opacity="0.9"/><circle cx="557.14" cy="57.50" r="0.5" fill="#b3121c" opacity="0.9"/><circle cx="557.16" cy="32.00" r="0.5" fill="#b3121c" opacity="0.9"/><circle cx="557.76" cy="75.25" r="0.5" fill="#b3121c" opacity="0.9"/><circle cx="557.21" cy="67.53" r="0.5" fill="#b3121c" opacity="0.9"/><circle cx="558.10" cy="29.01" r="0.5" fill="#b3121c" opacity="0.9"/><circle cx="557.63" cy="32.19" r="0.5" fill="#b3121c" opacity="0.9"/><circle cx="557.95" cy="64.68" r="0.5" fill="#b3121c" opacity="0.9"/><circle cx="557.66" cy="20.50" r="0.5" fill="#b3121c" opacity="0.9"/><circle cx="556.44" cy="29.17" r="0.5" fill="#b3121c" opacity="0.9"/><circle cx="557.31" cy="37.43" r="0.5" fill="#b3121c" opacity="0.9"/>
<path d="M570.15,12.20 C570.19,15.33 569.96,26.33 570.38,31.00 C570.80,35.67 572.05,37.23 572.65,40.20 C573.25,43.17 573.87,45.95 573.95,48.80 C574.03,51.65 573.30,54.75 573.15,57.30 C573.00,59.85 573.33,61.53 573.05,64.10 C572.77,66.67 571.85,70.05 571.45,72.70 C571.05,75.35 570.87,77.22 570.65,80.00 C570.43,82.78 570.23,87.83 570.15,89.40 L569.65,89.40 C569.57,87.83 569.37,82.78 569.15,80.00 C568.93,77.22 568.75,75.35 568.35,72.70 C567.95,70.05 567.03,66.67 566.75,64.10 C566.47,61.53 566.80,59.85 566.65,57.30 C566.50,54.75 565.77,51.65 565.85,48.80 C565.93,45.95 566.55,43.17 567.15,40.20 C567.75,37.23 569.00,35.67 569.42,31.00 C569.84,26.33 569.61,15.33 569.65,12.20 Z" fill="#fff" stroke="#137a1e" stroke-width="1.1"/><line x1="566.43" y1="55.00" x2="573.37" y2="55.00" stroke="#0d4c14" stroke-width="0.8"/><line x1="566.91" y1="44.43" x2="572.89" y2="44.43" stroke="#137a1e" stroke-width="0.6" stroke-dasharray="0.7,0.7"/><line x1="567.15" y1="63.92" x2="572.65" y2="63.92" stroke="#137a1e" stroke-width="0.6" stroke-dasharray="0.7,0.7"/><circle cx="569.98" cy="45.74" r="0.5" fill="#137a1e" opacity="0.9"/><circle cx="569.19" cy="50.56" r="0.5" fill="#137a1e" opacity="0.9"/><circle cx="570.48" cy="52.20" r="0.5" fill="#137a1e" opacity="0.9"/><circle cx="570.73" cy="64.97" r="0.5" fill="#137a1e" opacity="0.9"/><circle cx="571.07" cy="53.31" r="0.5" fill="#137a1e" opacity="0.9"/><circle cx="569.85" cy="53.72" r="0.5" fill="#137a1e" opacity="0.9"/><circle cx="570.15" cy="35.61" r="0.5" fill="#137a1e" opacity="0.9"/><circle cx="569.90" cy="64.80" r="0.5" fill="#137a1e" opacity="0.9"/><circle cx="570.36" cy="39.92" r="0.5" fill="#137a1e" opacity="0.9"/><circle cx="569.51" cy="52.19" r="0.5" fill="#137a1e" opacity="0.9"/><circle cx="570.77" cy="50.78" r="0.5" fill="#137a1e" opacity="0.9"/><circle cx="569.37" cy="48.14" r="0.5" fill="#137a1e" opacity="0.9"/><circle cx="569.51" cy="41.12" r="0.5" fill="#137a1e" opacity="0.9"/><circle cx="569.66" cy="51.62" r="0.5" fill="#137a1e" opacity="0.9"/><circle cx="570.55" cy="52.83" r="0.5" fill="#137a1e" opacity="0.9"/><circle cx="569.93" cy="74.90" r="0.5" fill="#137a1e" opacity="0.9"/><circle cx="570.85" cy="54.53" r="0.5" fill="#137a1e" opacity="0.9"/><circle cx="569.36" cy="48.00" r="0.5" fill="#137a1e" opacity="0.9"/><circle cx="568.94" cy="51.63" r="0.5" fill="#137a1e" opacity="0.9"/><circle cx="570.74" cy="51.65" r="0.5" fill="#137a1e" opacity="0.9"/><circle cx="570.55" cy="66.77" r="0.5" fill="#137a1e" opacity="0.9"/><circle cx="570.11" cy="44.37" r="0.5" fill="#137a1e" opacity="0.9"/><circle cx="570.48" cy="52.83" r="0.5" fill="#137a1e" opacity="0.9"/><circle cx="568.83" cy="49.28" r="0.5" fill="#137a1e" opacity="0.9"/><circle cx="570.46" cy="48.06" r="0.5" fill="#137a1e" opacity="0.9"/><circle cx="569.89" cy="34.50" r="0.5" fill="#137a1e" opacity="0.9"/><circle cx="570.92" cy="56.61" r="0.5" fill="#137a1e" opacity="0.9"/><circle cx="570.11" cy="39.30" r="0.5" fill="#137a1e" opacity="0.9"/>
<path d="M591.85,8.00 C591.89,9.83 591.40,14.73 592.08,19.00 C592.76,23.27 595.57,29.20 595.95,33.60 C596.33,38.00 594.62,42.30 594.35,45.40 C594.08,48.50 594.22,49.37 594.35,52.20 C594.48,55.03 595.35,58.70 595.15,62.40 C594.95,66.10 593.65,70.63 593.15,74.40 C592.65,78.17 592.36,81.18 592.14,85.00 C591.92,88.82 591.90,95.25 591.85,97.30 L591.35,97.30 C591.30,95.25 591.28,88.82 591.06,85.00 C590.84,81.18 590.55,78.17 590.05,74.40 C589.55,70.63 588.25,66.10 588.05,62.40 C587.85,58.70 588.72,55.03 588.85,52.20 C588.98,49.37 589.12,48.50 588.85,45.40 C588.58,42.30 586.87,38.00 587.25,33.60 C587.63,29.20 590.44,23.27 591.12,19.00 C591.80,14.73 591.31,9.83 591.35,8.00 Z" fill="#fff" stroke="#b3121c" stroke-width="1.1"/><line x1="588.85" y1="52.20" x2="594.35" y2="52.20" stroke="#740d14" stroke-width="0.8"/><line x1="587.84" y1="35.01" x2="595.36" y2="35.01" stroke="#b3121c" stroke-width="0.6" stroke-dasharray="0.7,0.7"/><line x1="588.57" y1="63.14" x2="594.63" y2="63.14" stroke="#b3121c" stroke-width="0.6" stroke-dasharray="0.7,0.7"/><circle cx="592.56" cy="35.24" r="0.5" fill="#b3121c" opacity="0.9"/><circle cx="591.62" cy="24.51" r="0.5" fill="#b3121c" opacity="0.9"/><circle cx="592.02" cy="66.07" r="0.5" fill="#b3121c" opacity="0.9"/><circle cx="592.00" cy="32.51" r="0.5" fill="#b3121c" opacity="0.9"/><circle cx="592.12" cy="35.24" r="0.5" fill="#b3121c" opacity="0.9"/><circle cx="592.45" cy="57.39" r="0.5" fill="#b3121c" opacity="0.9"/><circle cx="590.65" cy="38.86" r="0.5" fill="#b3121c" opacity="0.9"/><circle cx="590.79" cy="53.37" r="0.5" fill="#b3121c" opacity="0.9"/><circle cx="592.31" cy="42.49" r="0.5" fill="#b3121c" opacity="0.9"/><circle cx="592.11" cy="36.61" r="0.5" fill="#b3121c" opacity="0.9"/><circle cx="591.66" cy="27.71" r="0.5" fill="#b3121c" opacity="0.9"/><circle cx="592.05" cy="56.51" r="0.5" fill="#b3121c" opacity="0.9"/><circle cx="592.29" cy="37.63" r="0.5" fill="#b3121c" opacity="0.9"/><circle cx="591.90" cy="33.73" r="0.5" fill="#b3121c" opacity="0.9"/><circle cx="591.46" cy="65.27" r="0.5" fill="#b3121c" opacity="0.9"/><circle cx="591.86" cy="48.94" r="0.5" fill="#b3121c" opacity="0.9"/><circle cx="591.32" cy="64.99" r="0.5" fill="#b3121c" opacity="0.9"/><circle cx="591.22" cy="44.28" r="0.5" fill="#b3121c" opacity="0.9"/><circle cx="590.66" cy="30.60" r="0.5" fill="#b3121c" opacity="0.9"/><circle cx="591.61" cy="65.82" r="0.5" fill="#b3121c" opacity="0.9"/><circle cx="590.87" cy="50.37" r="0.5" fill="#b3121c" opacity="0.9"/><circle cx="592.25" cy="66.50" r="0.5" fill="#b3121c" opacity="0.9"/><circle cx="592.53" cy="61.85" r="0.5" fill="#b3121c" opacity="0.9"/><circle cx="592.31" cy="51.17" r="0.5" fill="#b3121c" opacity="0.9"/>
<path d="M604.55,9.70 C604.59,12.68 604.40,23.20 604.78,27.60 C605.16,32.00 606.30,32.97 606.85,36.10 C607.39,39.23 607.85,43.72 608.05,46.40 C608.25,49.08 608.08,49.25 608.05,52.20 C608.02,55.15 608.27,60.13 607.85,64.10 C607.43,68.07 606.07,72.35 605.55,76.00 C605.03,79.65 604.89,82.62 604.72,86.00 C604.55,89.38 604.58,94.58 604.55,96.30 L604.05,96.30 C604.02,94.58 604.05,89.38 603.88,86.00 C603.71,82.62 603.57,79.65 603.05,76.00 C602.53,72.35 601.17,68.07 600.75,64.10 C600.33,60.13 600.58,55.15 600.55,52.20 C600.52,49.25 600.35,49.08 600.55,46.40 C600.75,43.72 601.21,39.23 601.75,36.10 C602.29,32.97 603.44,32.00 603.82,27.60 C604.20,23.20 604.01,12.68 604.05,9.70 Z" fill="#fff" stroke="#137a1e" stroke-width="1.1"/><line x1="600.65" y1="58.00" x2="607.95" y2="58.00" stroke="#0d4c14" stroke-width="0.8"/><line x1="601.34" y1="43.04" x2="607.26" y2="43.04" stroke="#137a1e" stroke-width="0.6" stroke-dasharray="0.7,0.7"/><line x1="601.22" y1="64.47" x2="607.38" y2="64.47" stroke="#137a1e" stroke-width="0.6" stroke-dasharray="0.7,0.7"/><circle cx="605.17" cy="53.52" r="0.5" fill="#137a1e" opacity="0.9"/><circle cx="604.61" cy="68.05" r="0.5" fill="#137a1e" opacity="0.9"/><circle cx="603.96" cy="41.49" r="0.5" fill="#137a1e" opacity="0.9"/><circle cx="603.53" cy="43.84" r="0.5" fill="#137a1e" opacity="0.9"/><circle cx="604.25" cy="34.98" r="0.5" fill="#137a1e" opacity="0.9"/><circle cx="603.99" cy="64.21" r="0.5" fill="#137a1e" opacity="0.9"/><circle cx="605.30" cy="52.89" r="0.5" fill="#137a1e" opacity="0.9"/><circle cx="605.38" cy="56.83" r="0.5" fill="#137a1e" opacity="0.9"/><circle cx="604.40" cy="65.76" r="0.5" fill="#137a1e" opacity="0.9"/><circle cx="604.41" cy="42.97" r="0.5" fill="#137a1e" opacity="0.9"/><circle cx="603.63" cy="65.51" r="0.5" fill="#137a1e" opacity="0.9"/><circle cx="605.21" cy="50.73" r="0.5" fill="#137a1e" opacity="0.9"/><circle cx="603.86" cy="61.40" r="0.5" fill="#137a1e" opacity="0.9"/><circle cx="603.51" cy="38.22" r="0.5" fill="#137a1e" opacity="0.9"/><circle cx="603.28" cy="44.13" r="0.5" fill="#137a1e" opacity="0.9"/><circle cx="605.26" cy="65.98" r="0.5" fill="#137a1e" opacity="0.9"/><circle cx="605.47" cy="58.71" r="0.5" fill="#137a1e" opacity="0.9"/><circle cx="603.78" cy="54.34" r="0.5" fill="#137a1e" opacity="0.9"/><circle cx="603.98" cy="59.05" r="0.5" fill="#137a1e" opacity="0.9"/><circle cx="603.84" cy="35.12" r="0.5" fill="#137a1e" opacity="0.9"/><circle cx="605.09" cy="60.44" r="0.5" fill="#137a1e" opacity="0.9"/><circle cx="604.37" cy="31.53" r="0.5" fill="#137a1e" opacity="0.9"/><circle cx="605.01" cy="44.18" r="0.5" fill="#137a1e" opacity="0.9"/><circle cx="604.81" cy="66.02" r="0.5" fill="#137a1e" opacity="0.9"/><circle cx="604.39" cy="67.21" r="0.5" fill="#137a1e" opacity="0.9"/><circle cx="603.80" cy="45.63" r="0.5" fill="#137a1e" opacity="0.9"/><circle cx="603.15" cy="62.58" r="0.5" fill="#137a1e" opacity="0.9"/><circle cx="604.27" cy="42.81" r="0.5" fill="#137a1e" opacity="0.9"/>
<path d="M626.05,13.00 C626.08,14.12 625.64,16.75 626.22,19.70 C626.80,22.65 629.24,27.37 629.55,30.70 C629.86,34.03 628.22,37.22 628.05,39.70 C627.88,42.18 628.37,43.65 628.55,45.60 C628.73,47.55 629.00,49.85 629.15,51.40 C629.30,52.95 629.72,52.70 629.45,54.90 C629.18,57.10 628.08,61.85 627.55,64.60 C627.02,67.35 626.53,68.65 626.28,71.40 C626.03,74.15 626.09,79.48 626.05,81.10 L625.55,81.10 C625.51,79.48 625.57,74.15 625.32,71.40 C625.07,68.65 624.58,67.35 624.05,64.60 C623.52,61.85 622.42,57.10 622.15,54.90 C621.88,52.70 622.30,52.95 622.45,51.40 C622.60,49.85 622.87,47.55 623.05,45.60 C623.23,43.65 623.72,42.18 623.55,39.70 C623.38,37.22 621.74,34.03 622.05,30.70 C622.36,27.37 624.80,22.65 625.38,19.70 C625.96,16.75 625.52,14.12 625.55,13.00 Z" fill="#fff" stroke="#b3121c" stroke-width="1.1"/><line x1="623.05" y1="45.60" x2="628.55" y2="45.60" stroke="#740d14" stroke-width="0.8"/><line x1="622.85" y1="33.09" x2="628.75" y2="33.09" stroke="#b3121c" stroke-width="0.6" stroke-dasharray="0.7,0.7"/><line x1="622.78" y1="56.07" x2="628.82" y2="56.07" stroke="#b3121c" stroke-width="0.6" stroke-dasharray="0.7,0.7"/><circle cx="624.79" cy="32.00" r="0.5" fill="#b3121c" opacity="0.9"/><circle cx="625.81" cy="67.31" r="0.5" fill="#b3121c" opacity="0.9"/><circle cx="626.93" cy="30.49" r="0.5" fill="#b3121c" opacity="0.9"/><circle cx="625.10" cy="56.08" r="0.5" fill="#b3121c" opacity="0.9"/><circle cx="625.58" cy="50.70" r="0.5" fill="#b3121c" opacity="0.9"/><circle cx="625.89" cy="28.35" r="0.5" fill="#b3121c" opacity="0.9"/><circle cx="626.14" cy="60.01" r="0.5" fill="#b3121c" opacity="0.9"/><circle cx="626.72" cy="56.40" r="0.5" fill="#b3121c" opacity="0.9"/><circle cx="626.12" cy="29.71" r="0.5" fill="#b3121c" opacity="0.9"/><circle cx="625.19" cy="42.04" r="0.5" fill="#b3121c" opacity="0.9"/><circle cx="625.83" cy="61.71" r="0.5" fill="#b3121c" opacity="0.9"/><circle cx="626.52" cy="36.81" r="0.5" fill="#b3121c" opacity="0.9"/><circle cx="625.72" cy="49.39" r="0.5" fill="#b3121c" opacity="0.9"/><circle cx="626.49" cy="37.77" r="0.5" fill="#b3121c" opacity="0.9"/><circle cx="626.38" cy="29.29" r="0.5" fill="#b3121c" opacity="0.9"/><circle cx="625.77" cy="35.25" r="0.5" fill="#b3121c" opacity="0.9"/><circle cx="626.40" cy="42.79" r="0.5" fill="#b3121c" opacity="0.9"/><circle cx="625.54" cy="24.66" r="0.5" fill="#b3121c" opacity="0.9"/><circle cx="625.45" cy="34.88" r="0.5" fill="#b3121c" opacity="0.9"/><circle cx="625.72" cy="67.31" r="0.5" fill="#b3121c" opacity="0.9"/><circle cx="625.78" cy="40.06" r="0.5" fill="#b3121c" opacity="0.9"/><circle cx="625.95" cy="65.20" r="0.5" fill="#b3121c" opacity="0.9"/><circle cx="626.23" cy="52.32" r="0.5" fill="#b3121c" opacity="0.9"/><circle cx="626.57" cy="36.87" r="0.5" fill="#b3121c" opacity="0.9"/>
<path d="M638.85,12.10 C638.89,13.82 638.75,19.30 639.08,22.40 C639.41,25.50 640.34,28.17 640.85,30.70 C641.36,33.23 641.97,34.85 642.15,37.60 C642.33,40.35 642.05,44.08 641.95,47.20 C641.85,50.32 641.90,53.18 641.55,56.30 C641.20,59.42 640.30,62.23 639.85,65.90 C639.40,69.57 639.02,76.23 638.85,78.30 L638.35,78.30 C638.18,76.23 637.80,69.57 637.35,65.90 C636.90,62.23 636.00,59.42 635.65,56.30 C635.30,53.18 635.35,50.32 635.25,47.20 C635.15,44.08 634.87,40.35 635.05,37.60 C635.23,34.85 635.84,33.23 636.35,30.70 C636.86,28.17 637.79,25.50 638.12,22.40 C638.45,19.30 638.31,13.82 638.35,12.10 Z" fill="#fff" stroke="#137a1e" stroke-width="1.1"/><line x1="635.18" y1="44.00" x2="642.02" y2="44.00" stroke="#0d4c14" stroke-width="0.8"/><line x1="635.64" y1="36.59" x2="641.56" y2="36.59" stroke="#137a1e" stroke-width="0.6" stroke-dasharray="0.7,0.7"/><line x1="636.02" y1="55.63" x2="641.18" y2="55.63" stroke="#137a1e" stroke-width="0.6" stroke-dasharray="0.7,0.7"/><circle cx="639.55" cy="48.98" r="0.5" fill="#137a1e" opacity="0.9"/><circle cx="639.49" cy="36.29" r="0.5" fill="#137a1e" opacity="0.9"/><circle cx="637.93" cy="33.27" r="0.5" fill="#137a1e" opacity="0.9"/><circle cx="637.58" cy="44.63" r="0.5" fill="#137a1e" opacity="0.9"/><circle cx="638.91" cy="49.57" r="0.5" fill="#137a1e" opacity="0.9"/><circle cx="638.25" cy="61.47" r="0.5" fill="#137a1e" opacity="0.9"/><circle cx="637.83" cy="51.47" r="0.5" fill="#137a1e" opacity="0.9"/><circle cx="638.52" cy="62.74" r="0.5" fill="#137a1e" opacity="0.9"/><circle cx="638.94" cy="58.00" r="0.5" fill="#137a1e" opacity="0.9"/><circle cx="638.98" cy="47.70" r="0.5" fill="#137a1e" opacity="0.9"/><circle cx="638.70" cy="34.60" r="0.5" fill="#137a1e" opacity="0.9"/><circle cx="638.63" cy="65.40" r="0.5" fill="#137a1e" opacity="0.9"/><circle cx="638.35" cy="60.52" r="0.5" fill="#137a1e" opacity="0.9"/><circle cx="638.26" cy="39.52" r="0.5" fill="#137a1e" opacity="0.9"/><circle cx="638.23" cy="62.21" r="0.5" fill="#137a1e" opacity="0.9"/><circle cx="638.39" cy="29.84" r="0.5" fill="#137a1e" opacity="0.9"/><circle cx="639.11" cy="31.43" r="0.5" fill="#137a1e" opacity="0.9"/><circle cx="637.87" cy="50.81" r="0.5" fill="#137a1e" opacity="0.9"/><circle cx="637.88" cy="45.86" r="0.5" fill="#137a1e" opacity="0.9"/><circle cx="639.46" cy="36.70" r="0.5" fill="#137a1e" opacity="0.9"/><circle cx="639.30" cy="52.14" r="0.5" fill="#137a1e" opacity="0.9"/><circle cx="638.43" cy="33.13" r="0.5" fill="#137a1e" opacity="0.9"/><circle cx="638.53" cy="31.91" r="0.5" fill="#137a1e" opacity="0.9"/><circle cx="637.79" cy="50.93" r="0.5" fill="#137a1e" opacity="0.9"/><circle cx="638.82" cy="60.91" r="0.5" fill="#137a1e" opacity="0.9"/><circle cx="637.84" cy="42.37" r="0.5" fill="#137a1e" opacity="0.9"/><circle cx="639.14" cy="49.37" r="0.5" fill="#137a1e" opacity="0.9"/><circle cx="638.72" cy="54.72" r="0.5" fill="#137a1e" opacity="0.9"/>
<path d="M480.0,5.2 L480.0,115.2 L647.6,115.2" fill="none" stroke="#000" stroke-width="1.25"/>
<line x1="477.4" y1="5.5" x2="480.0" y2="5.5" stroke="#111" stroke-width="1.05"/>
<text x="476.7" y="7.1" font-size="4.6" text-anchor="end" fill="#111" stroke="#111" stroke-width="0.12" font-weight="bold">120</text>
<line x1="477.4" y1="32.9" x2="480.0" y2="32.9" stroke="#111" stroke-width="1.05"/>
<text x="476.7" y="34.5" font-size="4.6" text-anchor="end" fill="#111" stroke="#111" stroke-width="0.12" font-weight="bold">90</text>
<line x1="477.4" y1="60.3" x2="480.0" y2="60.3" stroke="#111" stroke-width="1.05"/>
<text x="476.7" y="61.9" font-size="4.6" text-anchor="end" fill="#111" stroke="#111" stroke-width="0.12" font-weight="bold">60</text>
<line x1="477.4" y1="87.8" x2="480.0" y2="87.8" stroke="#111" stroke-width="1.05"/>
<text x="476.7" y="89.39999999999999" font-size="4.6" text-anchor="end" fill="#111" stroke="#111" stroke-width="0.12" font-weight="bold">30</text>
<line x1="477.4" y1="115.2" x2="480.0" y2="115.2" stroke="#111" stroke-width="1.05"/>
<text x="476.7" y="116.8" font-size="4.6" text-anchor="end" fill="#111" stroke="#111" stroke-width="0.12" font-weight="bold">0</text>
<line x1="493.9" y1="115.2" x2="493.9" y2="118.2" stroke="#000" stroke-width="1.1"/>
<line x1="528.9" y1="115.2" x2="528.9" y2="118.2" stroke="#000" stroke-width="1.1"/>
<line x1="563.3" y1="115.2" x2="563.3" y2="118.2" stroke="#000" stroke-width="1.1"/>
<line x1="598.0" y1="115.2" x2="598.0" y2="118.2" stroke="#000" stroke-width="1.1"/>
<line x1="632.6" y1="115.2" x2="632.6" y2="118.2" stroke="#000" stroke-width="1.1"/>
<text x="496.79999999999995" y="123.0" font-size="5.1" text-anchor="end" font-weight="bold" fill="#050505" stroke="#050505" stroke-width="0.08" transform="rotate(-45 496.79999999999995 123.0)">On admission</text>
<text x="531.8" y="123.0" font-size="5.1" text-anchor="end" font-weight="bold" fill="#050505" stroke="#050505" stroke-width="0.08" transform="rotate(-45 531.8 123.0)">Discharge</text>
<text x="566.1999999999999" y="123.0" font-size="5.1" text-anchor="end" font-weight="bold" fill="#050505" stroke="#050505" stroke-width="0.08" transform="rotate(-45 566.1999999999999 123.0)">4 months later</text>
<text x="600.9" y="123.0" font-size="5.1" text-anchor="end" font-weight="bold" fill="#050505" stroke="#050505" stroke-width="0.08" transform="rotate(-45 600.9 123.0)">8 months later</text>
<text x="635.5" y="123.0" font-size="5.1" text-anchor="end" font-weight="bold" fill="#050505" stroke="#050505" stroke-width="0.08" transform="rotate(-45 635.5 123.0)">12 months later</text>
<text x="464.432" y="60.0" font-size="6.2" text-anchor="middle" font-weight="bold" fill="#111" stroke="#111" stroke-width="0.15" transform="rotate(-90 464.432 60.0)">PEFR</text>
<text x="482.1" y="6.9" font-size="5" fill="#222" stroke="#222" stroke-width="0.1">%</text>
<text x="642.9" y="122.5" font-size="4.6" fill="#555">t</text>
<rect x="619.6" y="90.6" width="5.5" height="2.6" fill="#fff" stroke="#a31e24" stroke-width="1.35"/>
<rect x="619.6" y="100.1" width="5.5" height="2.6" fill="#fff" stroke="#156e1e" stroke-width="1.35"/>
<text x="629.8" y="93.997" font-family="Liberation Serif, serif" font-size="5.9" font-style="normal" fill="#222" textLength="42.9" lengthAdjust="spacingAndGlyphs">Severe case group</text>
<text x="629.8" y="103.997" font-family="Liberation Serif, serif" font-size="5.9" font-style="normal" fill="#222" textLength="42.1" lengthAdjust="spacingAndGlyphs">Non severe group</text>
<path d="M31.85,203.00 C31.89,203.83 31.86,206.50 32.08,208.00 C32.30,209.50 32.67,210.58 33.15,212.00 C33.63,213.42 34.75,214.83 34.95,216.50 C35.15,218.17 34.57,220.42 34.35,222.00 C34.13,223.58 33.53,224.43 33.65,226.00 C33.77,227.57 35.02,229.73 35.05,231.40 C35.08,233.07 34.27,234.57 33.85,236.00 C33.43,237.43 32.85,238.00 32.55,240.00 C32.26,242.00 32.20,245.17 32.08,248.00 C31.96,250.83 31.89,255.50 31.85,257.00 L31.35,257.00 C31.31,255.50 31.24,250.83 31.12,248.00 C31.00,245.17 30.95,242.00 30.65,240.00 C30.36,238.00 29.77,237.43 29.35,236.00 C28.93,234.57 28.12,233.07 28.15,231.40 C28.18,229.73 29.43,227.57 29.55,226.00 C29.67,224.43 29.07,223.58 28.85,222.00 C28.63,220.42 28.05,218.17 28.25,216.50 C28.45,214.83 29.57,213.42 30.05,212.00 C30.53,210.58 30.90,209.50 31.12,208.00 C31.34,206.50 31.31,203.83 31.35,203.00 Z" fill="#fff" stroke="#b3121c" stroke-width="1.1"/><line x1="29.55" y1="226.00" x2="33.65" y2="226.00" stroke="#740d14" stroke-width="0.8"/><line x1="28.81" y1="217.99" x2="34.39" y2="217.99" stroke="#b3121c" stroke-width="0.6" stroke-dasharray="0.7,0.7"/><line x1="29.14" y1="233.65" x2="34.06" y2="233.65" stroke="#b3121c" stroke-width="0.6" stroke-dasharray="0.7,0.7"/><circle cx="30.95" cy="235.28" r="0.5" fill="#b3121c" opacity="0.9"/><circle cx="31.24" cy="222.88" r="0.5" fill="#b3121c" opacity="0.9"/><circle cx="32.12" cy="230.15" r="0.5" fill="#b3121c" opacity="0.9"/><circle cx="30.74" cy="217.83" r="0.5" fill="#b3121c" opacity="0.9"/><circle cx="32.39" cy="217.64" r="0.5" fill="#b3121c" opacity="0.9"/><circle cx="32.20" cy="215.86" r="0.5" fill="#b3121c" opacity="0.9"/><circle cx="31.93" cy="227.53" r="0.5" fill="#b3121c" opacity="0.9"/><circle cx="31.01" cy="217.47" r="0.5" fill="#b3121c" opacity="0.9"/><circle cx="31.77" cy="233.53" r="0.5" fill="#b3121c" opacity="0.9"/><circle cx="31.84" cy="212.51" r="0.5" fill="#b3121c" opacity="0.9"/><circle cx="31.45" cy="222.58" r="0.5" fill="#b3121c" opacity="0.9"/><circle cx="31.38" cy="229.64" r="0.5" fill="#b3121c" opacity="0.9"/><circle cx="31.24" cy="213.06" r="0.5" fill="#b3121c" opacity="0.9"/><circle cx="31.47" cy="211.17" r="0.5" fill="#b3121c" opacity="0.9"/><circle cx="31.41" cy="219.67" r="0.5" fill="#b3121c" opacity="0.9"/><circle cx="31.62" cy="227.16" r="0.5" fill="#b3121c" opacity="0.9"/><circle cx="31.61" cy="233.96" r="0.5" fill="#b3121c" opacity="0.9"/><circle cx="31.54" cy="211.35" r="0.5" fill="#b3121c" opacity="0.9"/><circle cx="31.62" cy="221.28" r="0.5" fill="#b3121c" opacity="0.9"/><circle cx="30.85" cy="234.29" r="0.5" fill="#b3121c" opacity="0.9"/><circle cx="31.87" cy="213.19" r="0.5" fill="#b3121c" opacity="0.9"/><circle cx="31.21" cy="221.21" r="0.5" fill="#b3121c" opacity="0.9"/><circle cx="31.79" cy="220.16" r="0.5" fill="#b3121c" opacity="0.9"/><circle cx="31.70" cy="217.65" r="0.5" fill="#b3121c" opacity="0.9"/>
<path d="M43.85,188.10 C43.87,190.08 43.91,196.02 43.96,200.00 C44.01,203.98 43.91,209.33 44.14,212.00 C44.37,214.67 44.91,214.33 45.35,216.00 C45.79,217.67 46.40,219.67 46.75,222.00 C47.10,224.33 47.52,227.33 47.45,230.00 C47.38,232.67 46.73,235.67 46.35,238.00 C45.97,240.33 45.48,242.00 45.15,244.00 C44.82,246.00 44.57,247.70 44.35,250.00 C44.13,252.30 43.93,256.50 43.85,257.80 L43.35,257.80 C43.27,256.50 43.07,252.30 42.85,250.00 C42.63,247.70 42.38,246.00 42.05,244.00 C41.72,242.00 41.23,240.33 40.85,238.00 C40.47,235.67 39.82,232.67 39.75,230.00 C39.68,227.33 40.10,224.33 40.45,222.00 C40.80,219.67 41.41,217.67 41.85,216.00 C42.29,214.33 42.83,214.67 43.06,212.00 C43.29,209.33 43.19,203.98 43.24,200.00 C43.29,196.02 43.33,190.08 43.35,188.10 Z" fill="#fff" stroke="#137a1e" stroke-width="1.1"/><line x1="39.75" y1="230.00" x2="47.45" y2="230.00" stroke="#0d4c14" stroke-width="0.8"/><line x1="40.95" y1="221.56" x2="46.25" y2="221.56" stroke="#137a1e" stroke-width="0.6" stroke-dasharray="0.7,0.7"/><line x1="41.12" y1="237.06" x2="46.08" y2="237.06" stroke="#137a1e" stroke-width="0.6" stroke-dasharray="0.7,0.7"/><circle cx="43.08" cy="222.49" r="0.5" fill="#137a1e" opacity="0.9"/><circle cx="44.54" cy="234.68" r="0.5" fill="#137a1e" opacity="0.9"/><circle cx="44.21" cy="219.20" r="0.5" fill="#137a1e" opacity="0.9"/><circle cx="44.19" cy="239.53" r="0.5" fill="#137a1e" opacity="0.9"/><circle cx="44.00" cy="241.78" r="0.5" fill="#137a1e" opacity="0.9"/><circle cx="43.75" cy="245.52" r="0.5" fill="#137a1e" opacity="0.9"/><circle cx="44.39" cy="229.65" r="0.5" fill="#137a1e" opacity="0.9"/><circle cx="44.20" cy="219.58" r="0.5" fill="#137a1e" opacity="0.9"/><circle cx="43.42" cy="214.86" r="0.5" fill="#137a1e" opacity="0.9"/><circle cx="44.36" cy="237.36" r="0.5" fill="#137a1e" opacity="0.9"/><circle cx="44.57" cy="228.00" r="0.5" fill="#137a1e" opacity="0.9"/><circle cx="43.59" cy="214.54" r="0.5" fill="#137a1e" opacity="0.9"/><circle cx="43.08" cy="229.86" r="0.5" fill="#137a1e" opacity="0.9"/><circle cx="44.67" cy="231.34" r="0.5" fill="#137a1e" opacity="0.9"/><circle cx="43.36" cy="229.63" r="0.5" fill="#137a1e" opacity="0.9"/><circle cx="44.23" cy="236.66" r="0.5" fill="#137a1e" opacity="0.9"/><circle cx="44.20" cy="234.75" r="0.5" fill="#137a1e" opacity="0.9"/><circle cx="43.68" cy="215.75" r="0.5" fill="#137a1e" opacity="0.9"/><circle cx="44.14" cy="221.57" r="0.5" fill="#137a1e" opacity="0.9"/><circle cx="44.55" cy="223.95" r="0.5" fill="#137a1e" opacity="0.9"/><circle cx="43.84" cy="225.29" r="0.5" fill="#137a1e" opacity="0.9"/><circle cx="43.06" cy="223.22" r="0.5" fill="#137a1e" opacity="0.9"/><circle cx="43.39" cy="230.82" r="0.5" fill="#137a1e" opacity="0.9"/><circle cx="43.38" cy="242.91" r="0.5" fill="#137a1e" opacity="0.9"/><circle cx="43.49" cy="243.08" r="0.5" fill="#137a1e" opacity="0.9"/><circle cx="43.68" cy="248.06" r="0.5" fill="#137a1e" opacity="0.9"/><circle cx="43.63" cy="221.50" r="0.5" fill="#137a1e" opacity="0.9"/><circle cx="43.96" cy="221.39" r="0.5" fill="#137a1e" opacity="0.9"/>
<path d="M64.65,195.30 C64.78,196.43 64.97,199.53 65.45,202.10 C65.93,204.67 67.13,207.85 67.55,210.70 C67.97,213.55 67.98,216.90 67.95,219.20 C67.92,221.50 67.57,222.37 67.35,224.50 C67.13,226.63 66.93,229.72 66.65,232.00 C66.37,234.28 65.90,236.32 65.65,238.20 C65.40,240.08 65.32,241.03 65.15,243.30 C64.98,245.57 64.73,250.38 64.65,251.80 L64.15,251.80 C64.07,250.38 63.82,245.57 63.65,243.30 C63.48,241.03 63.40,240.08 63.15,238.20 C62.90,236.32 62.43,234.28 62.15,232.00 C61.87,229.72 61.67,226.63 61.45,224.50 C61.23,222.37 60.88,221.50 60.85,219.20 C60.82,216.90 60.83,213.55 61.25,210.70 C61.67,207.85 62.87,204.67 63.35,202.10 C63.83,199.53 64.02,196.43 64.15,195.30 Z" fill="#fff" stroke="#b3121c" stroke-width="1.1"/><line x1="61.19" y1="212.00" x2="67.61" y2="212.00" stroke="#740d14" stroke-width="0.8"/><line x1="61.58" y1="212.25" x2="67.22" y2="212.25" stroke="#b3121c" stroke-width="0.6" stroke-dasharray="0.7,0.7"/><line x1="62.29" y1="229.20" x2="66.51" y2="229.20" stroke="#b3121c" stroke-width="0.6" stroke-dasharray="0.7,0.7"/><circle cx="64.36" cy="225.75" r="0.5" fill="#b3121c" opacity="0.9"/><circle cx="64.31" cy="205.98" r="0.5" fill="#b3121c" opacity="0.9"/><circle cx="64.10" cy="232.43" r="0.5" fill="#b3121c" opacity="0.9"/><circle cx="65.05" cy="211.69" r="0.5" fill="#b3121c" opacity="0.9"/><circle cx="64.90" cy="216.64" r="0.5" fill="#b3121c" opacity="0.9"/><circle cx="64.36" cy="238.34" r="0.5" fill="#b3121c" opacity="0.9"/><circle cx="65.09" cy="208.93" r="0.5" fill="#b3121c" opacity="0.9"/><circle cx="64.28" cy="203.03" r="0.5" fill="#b3121c" opacity="0.9"/><circle cx="64.24" cy="204.54" r="0.5" fill="#b3121c" opacity="0.9"/><circle cx="65.18" cy="225.70" r="0.5" fill="#b3121c" opacity="0.9"/><circle cx="64.68" cy="218.49" r="0.5" fill="#b3121c" opacity="0.9"/><circle cx="63.95" cy="222.20" r="0.5" fill="#b3121c" opacity="0.9"/><circle cx="64.31" cy="212.95" r="0.5" fill="#b3121c" opacity="0.9"/><circle cx="64.50" cy="220.49" r="0.5" fill="#b3121c" opacity="0.9"/><circle cx="64.49" cy="208.78" r="0.5" fill="#b3121c" opacity="0.9"/><circle cx="64.75" cy="222.00" r="0.5" fill="#b3121c" opacity="0.9"/><circle cx="64.68" cy="234.54" r="0.5" fill="#b3121c" opacity="0.9"/><circle cx="63.53" cy="222.22" r="0.5" fill="#b3121c" opacity="0.9"/><circle cx="63.98" cy="232.55" r="0.5" fill="#b3121c" opacity="0.9"/><circle cx="64.61" cy="224.29" r="0.5" fill="#b3121c" opacity="0.9"/><circle cx="65.21" cy="215.22" r="0.5" fill="#b3121c" opacity="0.9"/><circle cx="64.38" cy="223.13" r="0.5" fill="#b3121c" opacity="0.9"/><circle cx="64.85" cy="215.82" r="0.5" fill="#b3121c" opacity="0.9"/><circle cx="63.75" cy="222.45" r="0.5" fill="#b3121c" opacity="0.9"/>
<path d="M76.55,191.90 C76.57,193.25 76.61,197.32 76.66,200.00 C76.71,202.68 76.61,206.00 76.84,208.00 C77.07,210.00 77.60,210.33 78.05,212.00 C78.50,213.67 79.18,215.83 79.55,218.00 C79.92,220.17 80.28,222.50 80.25,225.00 C80.22,227.50 79.75,230.50 79.35,233.00 C78.95,235.50 78.23,237.67 77.85,240.00 C77.47,242.33 77.27,244.17 77.05,247.00 C76.83,249.83 76.63,255.33 76.55,257.00 L76.05,257.00 C75.97,255.33 75.77,249.83 75.55,247.00 C75.33,244.17 75.13,242.33 74.75,240.00 C74.37,237.67 73.65,235.50 73.25,233.00 C72.85,230.50 72.38,227.50 72.35,225.00 C72.32,222.50 72.68,220.17 73.05,218.00 C73.42,215.83 74.10,213.67 74.55,212.00 C75.00,210.33 75.53,210.00 75.76,208.00 C75.99,206.00 75.89,202.68 75.94,200.00 C75.99,197.32 76.03,193.25 76.05,191.90 Z" fill="#fff" stroke="#137a1e" stroke-width="1.1"/><line x1="72.35" y1="225.00" x2="80.25" y2="225.00" stroke="#0d4c14" stroke-width="0.8"/><line x1="73.41" y1="218.43" x2="79.19" y2="218.43" stroke="#137a1e" stroke-width="0.6" stroke-dasharray="0.7,0.7"/><line x1="73.81" y1="233.73" x2="78.79" y2="233.73" stroke="#137a1e" stroke-width="0.6" stroke-dasharray="0.7,0.7"/><circle cx="76.06" cy="225.51" r="0.5" fill="#137a1e" opacity="0.9"/><circle cx="76.53" cy="227.31" r="0.5" fill="#137a1e" opacity="0.9"/><circle cx="77.10" cy="217.36" r="0.5" fill="#137a1e" opacity="0.9"/><circle cx="76.87" cy="235.83" r="0.5" fill="#137a1e" opacity="0.9"/><circle cx="76.40" cy="213.89" r="0.5" fill="#137a1e" opacity="0.9"/><circle cx="76.67" cy="236.89" r="0.5" fill="#137a1e" opacity="0.9"/><circle cx="76.44" cy="224.01" r="0.5" fill="#137a1e" opacity="0.9"/><circle cx="75.72" cy="233.52" r="0.5" fill="#137a1e" opacity="0.9"/><circle cx="76.25" cy="238.57" r="0.5" fill="#137a1e" opacity="0.9"/><circle cx="76.86" cy="234.39" r="0.5" fill="#137a1e" opacity="0.9"/><circle cx="76.70" cy="232.93" r="0.5" fill="#137a1e" opacity="0.9"/><circle cx="76.76" cy="224.70" r="0.5" fill="#137a1e" opacity="0.9"/><circle cx="76.10" cy="229.52" r="0.5" fill="#137a1e" opacity="0.9"/><circle cx="76.12" cy="221.23" r="0.5" fill="#137a1e" opacity="0.9"/><circle cx="76.48" cy="214.03" r="0.5" fill="#137a1e" opacity="0.9"/><circle cx="75.87" cy="219.26" r="0.5" fill="#137a1e" opacity="0.9"/><circle cx="76.22" cy="217.77" r="0.5" fill="#137a1e" opacity="0.9"/><circle cx="75.82" cy="224.72" r="0.5" fill="#137a1e" opacity="0.9"/><circle cx="76.61" cy="228.12" r="0.5" fill="#137a1e" opacity="0.9"/><circle cx="76.11" cy="214.05" r="0.5" fill="#137a1e" opacity="0.9"/><circle cx="75.21" cy="222.12" r="0.5" fill="#137a1e" opacity="0.9"/><circle cx="75.82" cy="225.02" r="0.5" fill="#137a1e" opacity="0.9"/><circle cx="75.89" cy="233.79" r="0.5" fill="#137a1e" opacity="0.9"/><circle cx="76.28" cy="209.60" r="0.5" fill="#137a1e" opacity="0.9"/><circle cx="76.49" cy="212.57" r="0.5" fill="#137a1e" opacity="0.9"/><circle cx="76.65" cy="238.64" r="0.5" fill="#137a1e" opacity="0.9"/><circle cx="77.29" cy="227.66" r="0.5" fill="#137a1e" opacity="0.9"/><circle cx="76.35" cy="213.31" r="0.5" fill="#137a1e" opacity="0.9"/>
<path d="M97.15,171.00 C97.18,172.83 97.07,178.73 97.32,182.00 C97.57,185.27 98.09,187.18 98.65,190.60 C99.21,194.02 100.28,198.52 100.65,202.50 C101.02,206.48 100.88,210.47 100.85,214.50 C100.82,218.53 100.57,222.97 100.45,226.70 C100.33,230.43 100.53,234.07 100.15,236.90 C99.77,239.73 98.65,240.85 98.15,243.70 C97.65,246.55 97.32,252.28 97.15,254.00 L96.65,254.00 C96.48,252.28 96.15,246.55 95.65,243.70 C95.15,240.85 94.03,239.73 93.65,236.90 C93.27,234.07 93.47,230.43 93.35,226.70 C93.23,222.97 92.98,218.53 92.95,214.50 C92.92,210.47 92.78,206.48 93.15,202.50 C93.52,198.52 94.59,194.02 95.15,190.60 C95.71,187.18 96.23,185.27 96.48,182.00 C96.73,178.73 96.62,172.83 96.65,171.00 Z" fill="#fff" stroke="#b3121c" stroke-width="1.1"/><line x1="92.95" y1="214.50" x2="100.85" y2="214.50" stroke="#740d14" stroke-width="0.8"/><line x1="93.54" y1="203.37" x2="100.26" y2="203.37" stroke="#b3121c" stroke-width="0.6" stroke-dasharray="0.7,0.7"/><line x1="93.83" y1="229.31" x2="99.97" y2="229.31" stroke="#b3121c" stroke-width="0.6" stroke-dasharray="0.7,0.7"/><circle cx="97.33" cy="208.47" r="0.5" fill="#b3121c" opacity="0.9"/><circle cx="96.48" cy="196.40" r="0.5" fill="#b3121c" opacity="0.9"/><circle cx="96.46" cy="233.74" r="0.5" fill="#b3121c" opacity="0.9"/><circle cx="96.60" cy="203.40" r="0.5" fill="#b3121c" opacity="0.9"/><circle cx="96.30" cy="209.09" r="0.5" fill="#b3121c" opacity="0.9"/><circle cx="97.74" cy="197.35" r="0.5" fill="#b3121c" opacity="0.9"/><circle cx="97.05" cy="237.46" r="0.5" fill="#b3121c" opacity="0.9"/><circle cx="97.41" cy="195.22" r="0.5" fill="#b3121c" opacity="0.9"/><circle cx="97.78" cy="201.25" r="0.5" fill="#b3121c" opacity="0.9"/><circle cx="97.38" cy="193.91" r="0.5" fill="#b3121c" opacity="0.9"/><circle cx="96.67" cy="189.70" r="0.5" fill="#b3121c" opacity="0.9"/><circle cx="96.46" cy="239.38" r="0.5" fill="#b3121c" opacity="0.9"/><circle cx="95.62" cy="209.04" r="0.5" fill="#b3121c" opacity="0.9"/><circle cx="97.01" cy="210.49" r="0.5" fill="#b3121c" opacity="0.9"/><circle cx="96.24" cy="221.93" r="0.5" fill="#b3121c" opacity="0.9"/><circle cx="95.96" cy="218.67" r="0.5" fill="#b3121c" opacity="0.9"/><circle cx="96.63" cy="193.84" r="0.5" fill="#b3121c" opacity="0.9"/><circle cx="97.41" cy="195.60" r="0.5" fill="#b3121c" opacity="0.9"/><circle cx="97.73" cy="236.89" r="0.5" fill="#b3121c" opacity="0.9"/><circle cx="97.11" cy="222.34" r="0.5" fill="#b3121c" opacity="0.9"/><circle cx="96.56" cy="195.65" r="0.5" fill="#b3121c" opacity="0.9"/><circle cx="96.13" cy="234.03" r="0.5" fill="#b3121c" opacity="0.9"/><circle cx="96.13" cy="237.17" r="0.5" fill="#b3121c" opacity="0.9"/><circle cx="97.00" cy="202.32" r="0.5" fill="#b3121c" opacity="0.9"/>
<path d="M109.25,192.00 C109.42,193.47 109.88,197.62 110.25,200.80 C110.62,203.98 111.03,208.53 111.45,211.10 C111.87,213.67 112.48,214.72 112.75,216.20 C113.02,217.68 113.22,218.25 113.05,220.00 C112.88,221.75 112.22,224.17 111.75,226.70 C111.28,229.23 110.67,231.80 110.25,235.20 C109.83,238.60 109.42,245.12 109.25,247.10 L108.75,247.10 C108.58,245.12 108.17,238.60 107.75,235.20 C107.33,231.80 106.72,229.23 106.25,226.70 C105.78,224.17 105.12,221.75 104.95,220.00 C104.78,218.25 104.98,217.68 105.25,216.20 C105.52,214.72 106.13,213.67 106.55,211.10 C106.97,208.53 107.38,203.98 107.75,200.80 C108.12,197.62 108.58,193.47 108.75,192.00 Z" fill="#fff" stroke="#137a1e" stroke-width="1.1"/><line x1="105.81" y1="214.00" x2="112.19" y2="214.00" stroke="#0d4c14" stroke-width="0.8"/><line x1="106.87" y1="211.42" x2="111.13" y2="211.42" stroke="#137a1e" stroke-width="0.6" stroke-dasharray="0.7,0.7"/><line x1="106.65" y1="226.71" x2="111.35" y2="226.71" stroke="#137a1e" stroke-width="0.6" stroke-dasharray="0.7,0.7"/><circle cx="108.49" cy="226.78" r="0.5" fill="#137a1e" opacity="0.9"/><circle cx="110.14" cy="219.19" r="0.5" fill="#137a1e" opacity="0.9"/><circle cx="108.69" cy="206.72" r="0.5" fill="#137a1e" opacity="0.9"/><circle cx="109.36" cy="224.60" r="0.5" fill="#137a1e" opacity="0.9"/><circle cx="108.99" cy="230.42" r="0.5" fill="#137a1e" opacity="0.9"/><circle cx="109.36" cy="221.21" r="0.5" fill="#137a1e" opacity="0.9"/><circle cx="109.56" cy="223.39" r="0.5" fill="#137a1e" opacity="0.9"/><circle cx="109.03" cy="231.00" r="0.5" fill="#137a1e" opacity="0.9"/><circle cx="109.51" cy="208.49" r="0.5" fill="#137a1e" opacity="0.9"/><circle cx="108.82" cy="228.94" r="0.5" fill="#137a1e" opacity="0.9"/><circle cx="109.09" cy="200.91" r="0.5" fill="#137a1e" opacity="0.9"/><circle cx="110.16" cy="219.56" r="0.5" fill="#137a1e" opacity="0.9"/><circle cx="108.95" cy="218.79" r="0.5" fill="#137a1e" opacity="0.9"/><circle cx="109.10" cy="233.59" r="0.5" fill="#137a1e" opacity="0.9"/><circle cx="109.40" cy="228.95" r="0.5" fill="#137a1e" opacity="0.9"/><circle cx="109.51" cy="220.59" r="0.5" fill="#137a1e" opacity="0.9"/><circle cx="108.31" cy="227.38" r="0.5" fill="#137a1e" opacity="0.9"/><circle cx="108.10" cy="219.46" r="0.5" fill="#137a1e" opacity="0.9"/><circle cx="108.81" cy="216.66" r="0.5" fill="#137a1e" opacity="0.9"/><circle cx="109.12" cy="228.45" r="0.5" fill="#137a1e" opacity="0.9"/><circle cx="107.90" cy="218.04" r="0.5" fill="#137a1e" opacity="0.9"/><circle cx="110.31" cy="218.77" r="0.5" fill="#137a1e" opacity="0.9"/><circle cx="109.15" cy="222.95" r="0.5" fill="#137a1e" opacity="0.9"/><circle cx="108.88" cy="232.40" r="0.5" fill="#137a1e" opacity="0.9"/><circle cx="109.29" cy="226.95" r="0.5" fill="#137a1e" opacity="0.9"/><circle cx="109.08" cy="214.72" r="0.5" fill="#137a1e" opacity="0.9"/><circle cx="109.74" cy="213.52" r="0.5" fill="#137a1e" opacity="0.9"/><circle cx="108.53" cy="225.72" r="0.5" fill="#137a1e" opacity="0.9"/>
<path d="M129.75,171.00 C129.79,173.42 129.65,180.82 129.98,185.50 C130.31,190.18 131.20,194.55 131.75,199.10 C132.30,203.65 132.88,209.32 133.25,212.80 C133.62,216.28 133.95,217.13 133.95,220.00 C133.95,222.87 133.78,226.33 133.25,230.00 C132.72,233.67 131.33,238.00 130.75,242.00 C130.17,246.00 129.92,252.00 129.75,254.00 L129.25,254.00 C129.08,252.00 128.83,246.00 128.25,242.00 C127.67,238.00 126.28,233.67 125.75,230.00 C125.22,226.33 125.05,222.87 125.05,220.00 C125.05,217.13 125.38,216.28 125.75,212.80 C126.12,209.32 126.70,203.65 127.25,199.10 C127.80,194.55 128.69,190.18 129.02,185.50 C129.35,180.82 129.21,173.42 129.25,171.00 Z" fill="#fff" stroke="#b3121c" stroke-width="1.1"/><line x1="125.15" y1="219.00" x2="133.85" y2="219.00" stroke="#740d14" stroke-width="0.8"/><line x1="126.82" y1="206.69" x2="132.18" y2="206.69" stroke="#b3121c" stroke-width="0.6" stroke-dasharray="0.7,0.7"/><line x1="126.07" y1="228.89" x2="132.93" y2="228.89" stroke="#b3121c" stroke-width="0.6" stroke-dasharray="0.7,0.7"/><circle cx="128.92" cy="206.68" r="0.5" fill="#b3121c" opacity="0.9"/><circle cx="129.87" cy="234.37" r="0.5" fill="#b3121c" opacity="0.9"/><circle cx="130.12" cy="235.78" r="0.5" fill="#b3121c" opacity="0.9"/><circle cx="130.95" cy="220.69" r="0.5" fill="#b3121c" opacity="0.9"/><circle cx="130.26" cy="221.73" r="0.5" fill="#b3121c" opacity="0.9"/><circle cx="129.44" cy="194.44" r="0.5" fill="#b3121c" opacity="0.9"/><circle cx="130.39" cy="214.69" r="0.5" fill="#b3121c" opacity="0.9"/><circle cx="130.28" cy="213.99" r="0.5" fill="#b3121c" opacity="0.9"/><circle cx="129.51" cy="216.41" r="0.5" fill="#b3121c" opacity="0.9"/><circle cx="129.46" cy="241.42" r="0.5" fill="#b3121c" opacity="0.9"/><circle cx="130.42" cy="231.10" r="0.5" fill="#b3121c" opacity="0.9"/><circle cx="128.33" cy="213.27" r="0.5" fill="#b3121c" opacity="0.9"/><circle cx="128.55" cy="215.11" r="0.5" fill="#b3121c" opacity="0.9"/><circle cx="128.59" cy="212.22" r="0.5" fill="#b3121c" opacity="0.9"/><circle cx="129.76" cy="224.30" r="0.5" fill="#b3121c" opacity="0.9"/><circle cx="128.90" cy="223.23" r="0.5" fill="#b3121c" opacity="0.9"/><circle cx="129.52" cy="192.13" r="0.5" fill="#b3121c" opacity="0.9"/><circle cx="129.15" cy="238.84" r="0.5" fill="#b3121c" opacity="0.9"/><circle cx="130.39" cy="218.23" r="0.5" fill="#b3121c" opacity="0.9"/><circle cx="129.41" cy="208.43" r="0.5" fill="#b3121c" opacity="0.9"/><circle cx="128.45" cy="228.50" r="0.5" fill="#b3121c" opacity="0.9"/><circle cx="128.83" cy="234.87" r="0.5" fill="#b3121c" opacity="0.9"/><circle cx="129.49" cy="219.27" r="0.5" fill="#b3121c" opacity="0.9"/><circle cx="129.46" cy="216.87" r="0.5" fill="#b3121c" opacity="0.9"/>
<path d="M142.05,190.30 C142.30,191.77 143.22,196.48 143.55,199.10 C143.88,201.72 143.72,203.72 144.05,206.00 C144.38,208.28 145.30,210.80 145.55,212.80 C145.80,214.80 145.67,216.27 145.55,218.00 C145.43,219.73 145.30,220.05 144.85,223.20 C144.40,226.35 143.32,232.77 142.85,236.90 C142.38,241.03 142.18,246.15 142.05,248.00 L141.55,248.00 C141.42,246.15 141.22,241.03 140.75,236.90 C140.28,232.77 139.20,226.35 138.75,223.20 C138.30,220.05 138.17,219.73 138.05,218.00 C137.93,216.27 137.80,214.80 138.05,212.80 C138.30,210.80 139.22,208.28 139.55,206.00 C139.88,203.72 139.72,201.72 140.05,199.10 C140.38,196.48 141.30,191.77 141.55,190.30 Z" fill="#fff" stroke="#137a1e" stroke-width="1.1"/><line x1="138.05" y1="215.00" x2="145.55" y2="215.00" stroke="#0d4c14" stroke-width="0.8"/><line x1="139.37" y1="208.62" x2="144.23" y2="208.62" stroke="#137a1e" stroke-width="0.6" stroke-dasharray="0.7,0.7"/><line x1="139.49" y1="225.50" x2="144.11" y2="225.50" stroke="#137a1e" stroke-width="0.6" stroke-dasharray="0.7,0.7"/><circle cx="142.06" cy="227.10" r="0.5" fill="#137a1e" opacity="0.9"/><circle cx="140.75" cy="220.33" r="0.5" fill="#137a1e" opacity="0.9"/><circle cx="141.08" cy="212.67" r="0.5" fill="#137a1e" opacity="0.9"/><circle cx="142.30" cy="210.24" r="0.5" fill="#137a1e" opacity="0.9"/><circle cx="141.33" cy="209.71" r="0.5" fill="#137a1e" opacity="0.9"/><circle cx="142.65" cy="213.15" r="0.5" fill="#137a1e" opacity="0.9"/><circle cx="142.43" cy="208.55" r="0.5" fill="#137a1e" opacity="0.9"/><circle cx="142.19" cy="224.77" r="0.5" fill="#137a1e" opacity="0.9"/><circle cx="141.76" cy="236.43" r="0.5" fill="#137a1e" opacity="0.9"/><circle cx="142.09" cy="206.90" r="0.5" fill="#137a1e" opacity="0.9"/><circle cx="142.73" cy="222.00" r="0.5" fill="#137a1e" opacity="0.9"/><circle cx="142.15" cy="199.68" r="0.5" fill="#137a1e" opacity="0.9"/><circle cx="142.33" cy="220.77" r="0.5" fill="#137a1e" opacity="0.9"/><circle cx="142.39" cy="207.56" r="0.5" fill="#137a1e" opacity="0.9"/><circle cx="141.58" cy="201.47" r="0.5" fill="#137a1e" opacity="0.9"/><circle cx="142.01" cy="202.32" r="0.5" fill="#137a1e" opacity="0.9"/><circle cx="141.33" cy="227.21" r="0.5" fill="#137a1e" opacity="0.9"/><circle cx="142.13" cy="219.54" r="0.5" fill="#137a1e" opacity="0.9"/><circle cx="141.57" cy="228.32" r="0.5" fill="#137a1e" opacity="0.9"/><circle cx="142.75" cy="210.43" r="0.5" fill="#137a1e" opacity="0.9"/><circle cx="142.40" cy="224.62" r="0.5" fill="#137a1e" opacity="0.9"/><circle cx="141.37" cy="222.93" r="0.5" fill="#137a1e" opacity="0.9"/><circle cx="141.29" cy="206.37" r="0.5" fill="#137a1e" opacity="0.9"/><circle cx="142.30" cy="217.36" r="0.5" fill="#137a1e" opacity="0.9"/><circle cx="142.15" cy="210.08" r="0.5" fill="#137a1e" opacity="0.9"/><circle cx="141.83" cy="234.99" r="0.5" fill="#137a1e" opacity="0.9"/><circle cx="141.83" cy="221.39" r="0.5" fill="#137a1e" opacity="0.9"/><circle cx="140.94" cy="210.16" r="0.5" fill="#137a1e" opacity="0.9"/>
<path d="M161.95,174.10 C161.98,175.88 161.90,181.38 162.12,184.80 C162.34,188.22 162.94,190.78 163.25,194.60 C163.56,198.42 163.68,204.57 163.95,207.70 C164.22,210.83 164.65,211.85 164.85,213.40 C165.05,214.95 165.22,215.10 165.15,217.00 C165.08,218.90 164.82,221.85 164.45,224.80 C164.08,227.75 163.33,232.23 162.95,234.70 C162.57,237.17 162.35,237.70 162.18,239.60 C162.01,241.50 161.99,245.02 161.95,246.10 L161.45,246.10 C161.41,245.02 161.39,241.50 161.22,239.60 C161.05,237.70 160.83,237.17 160.45,234.70 C160.07,232.23 159.32,227.75 158.95,224.80 C158.58,221.85 158.32,218.90 158.25,217.00 C158.18,215.10 158.35,214.95 158.55,213.40 C158.75,211.85 159.18,210.83 159.45,207.70 C159.72,204.57 159.84,198.42 160.15,194.60 C160.45,190.78 161.06,188.22 161.28,184.80 C161.50,181.38 161.42,175.88 161.45,174.10 Z" fill="#fff" stroke="#b3121c" stroke-width="1.1"/><line x1="158.55" y1="213.40" x2="164.85" y2="213.40" stroke="#740d14" stroke-width="0.8"/><line x1="160.08" y1="203.44" x2="163.32" y2="203.44" stroke="#b3121c" stroke-width="0.6" stroke-dasharray="0.7,0.7"/><line x1="159.27" y1="223.96" x2="164.13" y2="223.96" stroke="#b3121c" stroke-width="0.6" stroke-dasharray="0.7,0.7"/><circle cx="161.76" cy="205.11" r="0.5" fill="#b3121c" opacity="0.9"/><circle cx="161.89" cy="223.47" r="0.5" fill="#b3121c" opacity="0.9"/><circle cx="161.89" cy="193.89" r="0.5" fill="#b3121c" opacity="0.9"/><circle cx="161.70" cy="205.90" r="0.5" fill="#b3121c" opacity="0.9"/><circle cx="161.33" cy="224.88" r="0.5" fill="#b3121c" opacity="0.9"/><circle cx="161.75" cy="199.27" r="0.5" fill="#b3121c" opacity="0.9"/><circle cx="161.81" cy="192.63" r="0.5" fill="#b3121c" opacity="0.9"/><circle cx="161.72" cy="230.35" r="0.5" fill="#b3121c" opacity="0.9"/><circle cx="161.06" cy="224.30" r="0.5" fill="#b3121c" opacity="0.9"/><circle cx="161.86" cy="218.53" r="0.5" fill="#b3121c" opacity="0.9"/><circle cx="162.28" cy="219.75" r="0.5" fill="#b3121c" opacity="0.9"/><circle cx="162.46" cy="223.92" r="0.5" fill="#b3121c" opacity="0.9"/><circle cx="161.64" cy="211.12" r="0.5" fill="#b3121c" opacity="0.9"/><circle cx="161.44" cy="196.60" r="0.5" fill="#b3121c" opacity="0.9"/><circle cx="162.08" cy="206.20" r="0.5" fill="#b3121c" opacity="0.9"/><circle cx="161.84" cy="221.00" r="0.5" fill="#b3121c" opacity="0.9"/><circle cx="161.38" cy="222.73" r="0.5" fill="#b3121c" opacity="0.9"/><circle cx="161.03" cy="222.64" r="0.5" fill="#b3121c" opacity="0.9"/><circle cx="161.96" cy="224.96" r="0.5" fill="#b3121c" opacity="0.9"/><circle cx="161.04" cy="212.16" r="0.5" fill="#b3121c" opacity="0.9"/><circle cx="162.72" cy="217.86" r="0.5" fill="#b3121c" opacity="0.9"/><circle cx="162.43" cy="217.86" r="0.5" fill="#b3121c" opacity="0.9"/><circle cx="161.69" cy="190.27" r="0.5" fill="#b3121c" opacity="0.9"/><circle cx="162.22" cy="212.84" r="0.5" fill="#b3121c" opacity="0.9"/>
<path d="M174.95,188.00 C175.07,189.00 175.18,191.95 175.65,194.00 C176.12,196.05 177.65,198.15 177.75,200.30 C177.85,202.45 176.23,204.57 176.25,206.90 C176.27,209.23 177.65,212.45 177.85,214.30 C178.05,216.15 177.68,216.52 177.45,218.00 C177.22,219.48 176.78,220.97 176.45,223.20 C176.12,225.43 175.70,228.67 175.45,231.40 C175.20,234.13 175.03,238.23 174.95,239.60 L174.45,239.60 C174.37,238.23 174.20,234.13 173.95,231.40 C173.70,228.67 173.28,225.43 172.95,223.20 C172.62,220.97 172.18,219.48 171.95,218.00 C171.72,216.52 171.35,216.15 171.55,214.30 C171.75,212.45 173.13,209.23 173.15,206.90 C173.17,204.57 171.55,202.45 171.65,200.30 C171.75,198.15 173.28,196.05 173.75,194.00 C174.22,191.95 174.33,189.00 174.45,188.00 Z" fill="#fff" stroke="#137a1e" stroke-width="1.1"/><line x1="173.13" y1="207.00" x2="176.27" y2="207.00" stroke="#0d4c14" stroke-width="0.8"/><line x1="172.48" y1="202.19" x2="176.92" y2="202.19" stroke="#137a1e" stroke-width="0.6" stroke-dasharray="0.7,0.7"/><line x1="172.71" y1="219.86" x2="176.69" y2="219.86" stroke="#137a1e" stroke-width="0.6" stroke-dasharray="0.7,0.7"/><circle cx="173.87" cy="214.18" r="0.5" fill="#137a1e" opacity="0.9"/><circle cx="174.66" cy="207.84" r="0.5" fill="#137a1e" opacity="0.9"/><circle cx="174.51" cy="197.61" r="0.5" fill="#137a1e" opacity="0.9"/><circle cx="174.74" cy="228.19" r="0.5" fill="#137a1e" opacity="0.9"/><circle cx="175.48" cy="213.41" r="0.5" fill="#137a1e" opacity="0.9"/><circle cx="173.94" cy="216.75" r="0.5" fill="#137a1e" opacity="0.9"/><circle cx="174.99" cy="200.38" r="0.5" fill="#137a1e" opacity="0.9"/><circle cx="174.17" cy="203.92" r="0.5" fill="#137a1e" opacity="0.9"/><circle cx="174.11" cy="218.97" r="0.5" fill="#137a1e" opacity="0.9"/><circle cx="174.78" cy="221.59" r="0.5" fill="#137a1e" opacity="0.9"/><circle cx="175.03" cy="197.59" r="0.5" fill="#137a1e" opacity="0.9"/><circle cx="175.12" cy="204.17" r="0.5" fill="#137a1e" opacity="0.9"/><circle cx="173.99" cy="202.37" r="0.5" fill="#137a1e" opacity="0.9"/><circle cx="173.99" cy="218.83" r="0.5" fill="#137a1e" opacity="0.9"/><circle cx="173.94" cy="218.27" r="0.5" fill="#137a1e" opacity="0.9"/><circle cx="174.74" cy="228.85" r="0.5" fill="#137a1e" opacity="0.9"/><circle cx="174.64" cy="220.33" r="0.5" fill="#137a1e" opacity="0.9"/><circle cx="175.21" cy="216.51" r="0.5" fill="#137a1e" opacity="0.9"/><circle cx="175.32" cy="217.39" r="0.5" fill="#137a1e" opacity="0.9"/><circle cx="174.89" cy="201.26" r="0.5" fill="#137a1e" opacity="0.9"/><circle cx="174.06" cy="212.82" r="0.5" fill="#137a1e" opacity="0.9"/><circle cx="174.67" cy="228.15" r="0.5" fill="#137a1e" opacity="0.9"/><circle cx="174.85" cy="219.69" r="0.5" fill="#137a1e" opacity="0.9"/><circle cx="175.42" cy="215.49" r="0.5" fill="#137a1e" opacity="0.9"/><circle cx="174.34" cy="203.56" r="0.5" fill="#137a1e" opacity="0.9"/><circle cx="173.96" cy="213.95" r="0.5" fill="#137a1e" opacity="0.9"/><circle cx="174.48" cy="214.95" r="0.5" fill="#137a1e" opacity="0.9"/><circle cx="175.11" cy="221.52" r="0.5" fill="#137a1e" opacity="0.9"/>
<path d="M23.3,168.1 L23.3,270.4 L183.3,270.4" fill="none" stroke="#000" stroke-width="1.25"/>
<line x1="20.7" y1="183.3" x2="23.3" y2="183.3" stroke="#111" stroke-width="1.05"/>
<text x="20.0" y="184.9" font-size="4.6" text-anchor="end" fill="#111" stroke="#111" stroke-width="0.12" font-weight="bold">120</text>
<line x1="20.7" y1="205.0" x2="23.3" y2="205.0" stroke="#111" stroke-width="1.05"/>
<text x="20.0" y="206.6" font-size="4.6" text-anchor="end" fill="#111" stroke="#111" stroke-width="0.12" font-weight="bold">90</text>
<line x1="20.7" y1="226.7" x2="23.3" y2="226.7" stroke="#111" stroke-width="1.05"/>
<text x="20.0" y="228.29999999999998" font-size="4.6" text-anchor="end" fill="#111" stroke="#111" stroke-width="0.12" font-weight="bold">60</text>
<line x1="20.7" y1="248.3" x2="23.3" y2="248.3" stroke="#111" stroke-width="1.05"/>
<text x="20.0" y="249.9" font-size="4.6" text-anchor="end" fill="#111" stroke="#111" stroke-width="0.12" font-weight="bold">30</text>
<line x1="20.7" y1="270.2" x2="23.3" y2="270.2" stroke="#111" stroke-width="1.05"/>
<text x="20.0" y="271.8" font-size="4.6" text-anchor="end" fill="#111" stroke="#111" stroke-width="0.12" font-weight="bold">0</text>
<line x1="37.9" y1="270.4" x2="37.9" y2="273.4" stroke="#000" stroke-width="1.1"/>
<line x1="70.4" y1="270.4" x2="70.4" y2="273.4" stroke="#000" stroke-width="1.1"/>
<line x1="102.9" y1="270.4" x2="102.9" y2="273.4" stroke="#000" stroke-width="1.1"/>
<line x1="135.4" y1="270.4" x2="135.4" y2="273.4" stroke="#000" stroke-width="1.1"/>
<line x1="168.1" y1="270.4" x2="168.1" y2="273.4" stroke="#000" stroke-width="1.1"/>
<text x="39.8" y="277.4" font-size="4.6" text-anchor="end" font-weight="bold" fill="#050505" stroke="#050505" stroke-width="0.08" transform="rotate(-45 39.8 277.4)">On admission</text>
<text x="72.30000000000001" y="277.4" font-size="4.6" text-anchor="end" font-weight="bold" fill="#050505" stroke="#050505" stroke-width="0.08" transform="rotate(-45 72.30000000000001 277.4)">Discharge</text>
<text x="104.80000000000001" y="277.4" font-size="4.6" text-anchor="end" font-weight="bold" fill="#050505" stroke="#050505" stroke-width="0.08" transform="rotate(-45 104.80000000000001 277.4)">4 months later</text>
<text x="137.3" y="277.4" font-size="4.6" text-anchor="end" font-weight="bold" fill="#050505" stroke="#050505" stroke-width="0.08" transform="rotate(-45 137.3 277.4)">8 months later</text>
<text x="170.0" y="277.4" font-size="4.6" text-anchor="end" font-weight="bold" fill="#050505" stroke="#050505" stroke-width="0.08" transform="rotate(-45 170.0 277.4)">12 months later</text>
<text x="9.432" y="218.7" font-size="6.2" text-anchor="middle" font-weight="bold" fill="#111" stroke="#111" stroke-width="0.15" transform="rotate(-90 9.432 218.7)">FEF25</text>
<text x="25.2" y="172.2" font-size="5" fill="#222" stroke="#222" stroke-width="0.1">%</text>
<text x="179.8" y="277.0" font-size="4.6" fill="#555">t</text>
<rect x="159.5" y="250.9" width="5.6" height="2.4" fill="#fff" stroke="#a31e24" stroke-width="1.35"/>
<rect x="159.5" y="259.8" width="5.6" height="2.4" fill="#fff" stroke="#156e1e" stroke-width="1.35"/>
<text x="169.2" y="254.098" font-family="Liberation Serif, serif" font-size="5.6" font-style="normal" fill="#222" textLength="40.3" lengthAdjust="spacingAndGlyphs">Severe case group</text>
<text x="169.2" y="262.998" font-family="Liberation Serif, serif" font-size="5.6" font-style="normal" fill="#222" textLength="39.5" lengthAdjust="spacingAndGlyphs">Non severe group</text>
<path d="M255.05,197.60 C255.08,200.17 254.89,209.30 255.22,213.00 C255.55,216.70 256.44,217.83 257.05,219.80 C257.66,221.77 258.77,221.97 258.85,224.80 C258.93,227.63 257.63,233.38 257.55,236.80 C257.47,240.22 258.63,242.18 258.35,245.30 C258.07,248.42 256.40,251.95 255.85,255.50 C255.30,259.05 255.18,264.75 255.05,266.60 L254.55,266.60 C254.42,264.75 254.30,259.05 253.75,255.50 C253.20,251.95 251.53,248.42 251.25,245.30 C250.97,242.18 252.13,240.22 252.05,236.80 C251.97,233.38 250.67,227.63 250.75,224.80 C250.83,221.97 251.94,221.77 252.55,219.80 C253.16,217.83 254.05,216.70 254.38,213.00 C254.71,209.30 254.52,200.17 254.55,197.60 Z" fill="#fff" stroke="#b3121c" stroke-width="1.1"/><line x1="251.96" y1="236.00" x2="257.64" y2="236.00" stroke="#740d14" stroke-width="0.8"/><line x1="251.21" y1="225.37" x2="258.39" y2="225.37" stroke="#b3121c" stroke-width="0.6" stroke-dasharray="0.7,0.7"/><line x1="251.67" y1="245.04" x2="257.93" y2="245.04" stroke="#b3121c" stroke-width="0.6" stroke-dasharray="0.7,0.7"/><circle cx="255.08" cy="218.83" r="0.5" fill="#b3121c" opacity="0.9"/><circle cx="255.00" cy="217.25" r="0.5" fill="#b3121c" opacity="0.9"/><circle cx="254.60" cy="250.96" r="0.5" fill="#b3121c" opacity="0.9"/><circle cx="254.00" cy="241.58" r="0.5" fill="#b3121c" opacity="0.9"/><circle cx="255.29" cy="226.73" r="0.5" fill="#b3121c" opacity="0.9"/><circle cx="255.31" cy="244.17" r="0.5" fill="#b3121c" opacity="0.9"/><circle cx="254.81" cy="255.54" r="0.5" fill="#b3121c" opacity="0.9"/><circle cx="254.23" cy="246.00" r="0.5" fill="#b3121c" opacity="0.9"/><circle cx="254.72" cy="252.40" r="0.5" fill="#b3121c" opacity="0.9"/><circle cx="254.64" cy="249.04" r="0.5" fill="#b3121c" opacity="0.9"/><circle cx="255.35" cy="227.93" r="0.5" fill="#b3121c" opacity="0.9"/><circle cx="254.91" cy="252.82" r="0.5" fill="#b3121c" opacity="0.9"/><circle cx="254.73" cy="235.30" r="0.5" fill="#b3121c" opacity="0.9"/><circle cx="253.95" cy="247.57" r="0.5" fill="#b3121c" opacity="0.9"/><circle cx="255.13" cy="250.09" r="0.5" fill="#b3121c" opacity="0.9"/><circle cx="254.51" cy="219.91" r="0.5" fill="#b3121c" opacity="0.9"/><circle cx="255.64" cy="238.30" r="0.5" fill="#b3121c" opacity="0.9"/><circle cx="255.06" cy="232.67" r="0.5" fill="#b3121c" opacity="0.9"/><circle cx="254.47" cy="229.89" r="0.5" fill="#b3121c" opacity="0.9"/><circle cx="255.61" cy="222.79" r="0.5" fill="#b3121c" opacity="0.9"/><circle cx="254.18" cy="227.49" r="0.5" fill="#b3121c" opacity="0.9"/><circle cx="253.84" cy="245.43" r="0.5" fill="#b3121c" opacity="0.9"/><circle cx="254.81" cy="256.11" r="0.5" fill="#b3121c" opacity="0.9"/><circle cx="254.77" cy="251.73" r="0.5" fill="#b3121c" opacity="0.9"/>
<path d="M268.75,187.40 C268.77,190.33 268.81,200.57 268.86,205.00 C268.91,209.43 268.73,211.83 269.04,214.00 C269.36,216.17 270.18,216.33 270.75,218.00 C271.32,219.67 272.23,222.00 272.45,224.00 C272.67,226.00 272.17,227.87 272.05,230.00 C271.93,232.13 271.78,234.47 271.75,236.80 C271.72,239.13 272.02,241.80 271.85,244.00 C271.68,246.20 271.13,248.08 270.75,250.00 C270.37,251.92 269.88,253.15 269.55,255.50 C269.22,257.85 268.88,262.67 268.75,264.10 L268.25,264.10 C268.12,262.67 267.78,257.85 267.45,255.50 C267.12,253.15 266.63,251.92 266.25,250.00 C265.87,248.08 265.32,246.20 265.15,244.00 C264.98,241.80 265.28,239.13 265.25,236.80 C265.22,234.47 265.07,232.13 264.95,230.00 C264.83,227.87 264.33,226.00 264.55,224.00 C264.77,222.00 265.68,219.67 266.25,218.00 C266.82,216.33 267.64,216.17 267.96,214.00 C268.27,211.83 268.09,209.43 268.14,205.00 C268.19,200.57 268.23,190.33 268.25,187.40 Z" fill="#fff" stroke="#137a1e" stroke-width="1.1"/><line x1="265.04" y1="232.00" x2="271.96" y2="232.00" stroke="#0d4c14" stroke-width="0.8"/><line x1="264.95" y1="224.02" x2="272.05" y2="224.02" stroke="#137a1e" stroke-width="0.6" stroke-dasharray="0.7,0.7"/><line x1="265.56" y1="243.39" x2="271.44" y2="243.39" stroke="#137a1e" stroke-width="0.6" stroke-dasharray="0.7,0.7"/><circle cx="269.33" cy="225.57" r="0.5" fill="#137a1e" opacity="0.9"/><circle cx="269.02" cy="239.22" r="0.5" fill="#137a1e" opacity="0.9"/><circle cx="267.50" cy="239.33" r="0.5" fill="#137a1e" opacity="0.9"/><circle cx="268.55" cy="238.53" r="0.5" fill="#137a1e" opacity="0.9"/><circle cx="268.42" cy="227.64" r="0.5" fill="#137a1e" opacity="0.9"/><circle cx="268.81" cy="217.21" r="0.5" fill="#137a1e" opacity="0.9"/><circle cx="269.54" cy="226.31" r="0.5" fill="#137a1e" opacity="0.9"/><circle cx="268.34" cy="249.30" r="0.5" fill="#137a1e" opacity="0.9"/><circle cx="268.81" cy="219.89" r="0.5" fill="#137a1e" opacity="0.9"/><circle cx="268.85" cy="232.09" r="0.5" fill="#137a1e" opacity="0.9"/><circle cx="269.20" cy="232.03" r="0.5" fill="#137a1e" opacity="0.9"/><circle cx="267.49" cy="238.21" r="0.5" fill="#137a1e" opacity="0.9"/><circle cx="268.96" cy="224.91" r="0.5" fill="#137a1e" opacity="0.9"/><circle cx="268.07" cy="223.93" r="0.5" fill="#137a1e" opacity="0.9"/><circle cx="268.60" cy="249.24" r="0.5" fill="#137a1e" opacity="0.9"/><circle cx="268.36" cy="249.57" r="0.5" fill="#137a1e" opacity="0.9"/><circle cx="268.14" cy="242.50" r="0.5" fill="#137a1e" opacity="0.9"/><circle cx="268.33" cy="248.95" r="0.5" fill="#137a1e" opacity="0.9"/><circle cx="268.43" cy="217.78" r="0.5" fill="#137a1e" opacity="0.9"/><circle cx="268.50" cy="253.69" r="0.5" fill="#137a1e" opacity="0.9"/><circle cx="269.48" cy="242.76" r="0.5" fill="#137a1e" opacity="0.9"/><circle cx="268.47" cy="228.85" r="0.5" fill="#137a1e" opacity="0.9"/><circle cx="268.22" cy="223.92" r="0.5" fill="#137a1e" opacity="0.9"/><circle cx="268.29" cy="219.45" r="0.5" fill="#137a1e" opacity="0.9"/><circle cx="269.49" cy="243.26" r="0.5" fill="#137a1e" opacity="0.9"/><circle cx="269.42" cy="239.26" r="0.5" fill="#137a1e" opacity="0.9"/><circle cx="269.32" cy="225.19" r="0.5" fill="#137a1e" opacity="0.9"/><circle cx="267.51" cy="227.24" r="0.5" fill="#137a1e" opacity="0.9"/>
<path d="M290.95,188.20 C290.99,189.62 290.55,193.72 291.18,196.70 C291.81,199.68 294.32,202.82 294.75,206.10 C295.18,209.38 293.88,213.55 293.75,216.40 C293.62,219.25 294.00,220.65 293.95,223.20 C293.90,225.75 293.47,228.87 293.45,231.70 C293.43,234.53 294.10,236.52 293.85,240.20 C293.60,243.88 292.43,249.97 291.95,253.80 C291.47,257.63 291.12,261.63 290.95,263.20 L290.45,263.20 C290.28,261.63 289.93,257.63 289.45,253.80 C288.97,249.97 287.80,243.88 287.55,240.20 C287.30,236.52 287.97,234.53 287.95,231.70 C287.93,228.87 287.50,225.75 287.45,223.20 C287.40,220.65 287.78,219.25 287.65,216.40 C287.52,213.55 286.22,209.38 286.65,206.10 C287.08,202.82 289.59,199.68 290.22,196.70 C290.85,193.72 290.41,189.62 290.45,188.20 Z" fill="#fff" stroke="#b3121c" stroke-width="1.1"/><line x1="287.60" y1="218.00" x2="293.80" y2="218.00" stroke="#740d14" stroke-width="0.8"/><line x1="287.51" y1="210.89" x2="293.89" y2="210.89" stroke="#b3121c" stroke-width="0.6" stroke-dasharray="0.7,0.7"/><line x1="288.03" y1="238.45" x2="293.37" y2="238.45" stroke="#b3121c" stroke-width="0.6" stroke-dasharray="0.7,0.7"/><circle cx="290.80" cy="249.84" r="0.5" fill="#b3121c" opacity="0.9"/><circle cx="290.53" cy="218.62" r="0.5" fill="#b3121c" opacity="0.9"/><circle cx="291.35" cy="218.60" r="0.5" fill="#b3121c" opacity="0.9"/><circle cx="291.03" cy="234.90" r="0.5" fill="#b3121c" opacity="0.9"/><circle cx="290.29" cy="246.17" r="0.5" fill="#b3121c" opacity="0.9"/><circle cx="290.40" cy="210.16" r="0.5" fill="#b3121c" opacity="0.9"/><circle cx="290.39" cy="244.38" r="0.5" fill="#b3121c" opacity="0.9"/><circle cx="290.18" cy="239.63" r="0.5" fill="#b3121c" opacity="0.9"/><circle cx="291.20" cy="237.10" r="0.5" fill="#b3121c" opacity="0.9"/><circle cx="291.31" cy="219.94" r="0.5" fill="#b3121c" opacity="0.9"/><circle cx="290.67" cy="249.72" r="0.5" fill="#b3121c" opacity="0.9"/><circle cx="290.02" cy="203.46" r="0.5" fill="#b3121c" opacity="0.9"/><circle cx="290.43" cy="243.34" r="0.5" fill="#b3121c" opacity="0.9"/><circle cx="290.11" cy="202.19" r="0.5" fill="#b3121c" opacity="0.9"/><circle cx="290.62" cy="198.71" r="0.5" fill="#b3121c" opacity="0.9"/><circle cx="290.62" cy="229.50" r="0.5" fill="#b3121c" opacity="0.9"/><circle cx="291.06" cy="241.42" r="0.5" fill="#b3121c" opacity="0.9"/><circle cx="289.78" cy="216.84" r="0.5" fill="#b3121c" opacity="0.9"/><circle cx="291.16" cy="219.21" r="0.5" fill="#b3121c" opacity="0.9"/><circle cx="290.49" cy="200.07" r="0.5" fill="#b3121c" opacity="0.9"/><circle cx="290.63" cy="217.92" r="0.5" fill="#b3121c" opacity="0.9"/><circle cx="291.62" cy="211.28" r="0.5" fill="#b3121c" opacity="0.9"/><circle cx="291.17" cy="229.75" r="0.5" fill="#b3121c" opacity="0.9"/><circle cx="290.95" cy="235.42" r="0.5" fill="#b3121c" opacity="0.9"/>
<path d="M304.45,177.10 C304.46,180.08 304.46,189.32 304.50,195.00 C304.54,200.68 304.52,207.70 304.68,211.20 C304.84,214.70 305.07,214.37 305.45,216.00 C305.83,217.63 306.55,219.25 306.95,221.00 C307.35,222.75 307.85,225.00 307.85,226.50 C307.85,228.00 307.27,228.75 306.95,230.00 C306.63,231.25 306.25,232.33 305.95,234.00 C305.65,235.67 305.36,237.55 305.15,240.00 C304.94,242.45 304.80,245.25 304.68,248.70 C304.56,252.15 304.49,258.70 304.45,260.70 L303.95,260.70 C303.91,258.70 303.84,252.15 303.72,248.70 C303.60,245.25 303.46,242.45 303.25,240.00 C303.04,237.55 302.75,235.67 302.45,234.00 C302.15,232.33 301.77,231.25 301.45,230.00 C301.13,228.75 300.55,228.00 300.55,226.50 C300.55,225.00 301.05,222.75 301.45,221.00 C301.85,219.25 302.57,217.63 302.95,216.00 C303.33,214.37 303.56,214.70 303.72,211.20 C303.88,207.70 303.86,200.68 303.90,195.00 C303.94,189.32 303.94,180.08 303.95,177.10 Z" fill="#fff" stroke="#137a1e" stroke-width="1.1"/><line x1="300.63" y1="226.00" x2="307.77" y2="226.00" stroke="#0d4c14" stroke-width="0.8"/><line x1="302.42" y1="219.11" x2="305.98" y2="219.11" stroke="#137a1e" stroke-width="0.6" stroke-dasharray="0.7,0.7"/><line x1="302.63" y1="233.11" x2="305.77" y2="233.11" stroke="#137a1e" stroke-width="0.6" stroke-dasharray="0.7,0.7"/><circle cx="304.23" cy="239.51" r="0.5" fill="#137a1e" opacity="0.9"/><circle cx="304.58" cy="223.76" r="0.5" fill="#137a1e" opacity="0.9"/><circle cx="303.98" cy="231.10" r="0.5" fill="#137a1e" opacity="0.9"/><circle cx="304.20" cy="217.19" r="0.5" fill="#137a1e" opacity="0.9"/><circle cx="303.31" cy="227.09" r="0.5" fill="#137a1e" opacity="0.9"/><circle cx="304.23" cy="237.09" r="0.5" fill="#137a1e" opacity="0.9"/><circle cx="304.16" cy="223.62" r="0.5" fill="#137a1e" opacity="0.9"/><circle cx="303.94" cy="232.96" r="0.5" fill="#137a1e" opacity="0.9"/><circle cx="304.21" cy="224.42" r="0.5" fill="#137a1e" opacity="0.9"/><circle cx="303.45" cy="228.46" r="0.5" fill="#137a1e" opacity="0.9"/><circle cx="304.10" cy="230.50" r="0.5" fill="#137a1e" opacity="0.9"/><circle cx="304.02" cy="234.32" r="0.5" fill="#137a1e" opacity="0.9"/><circle cx="304.38" cy="223.01" r="0.5" fill="#137a1e" opacity="0.9"/><circle cx="304.31" cy="225.03" r="0.5" fill="#137a1e" opacity="0.9"/><circle cx="304.99" cy="226.10" r="0.5" fill="#137a1e" opacity="0.9"/><circle cx="304.25" cy="218.45" r="0.5" fill="#137a1e" opacity="0.9"/><circle cx="303.61" cy="224.32" r="0.5" fill="#137a1e" opacity="0.9"/><circle cx="304.44" cy="222.65" r="0.5" fill="#137a1e" opacity="0.9"/><circle cx="304.47" cy="217.18" r="0.5" fill="#137a1e" opacity="0.9"/><circle cx="304.87" cy="226.82" r="0.5" fill="#137a1e" opacity="0.9"/><circle cx="304.17" cy="231.32" r="0.5" fill="#137a1e" opacity="0.9"/><circle cx="304.44" cy="220.84" r="0.5" fill="#137a1e" opacity="0.9"/><circle cx="304.23" cy="238.81" r="0.5" fill="#137a1e" opacity="0.9"/><circle cx="304.41" cy="235.64" r="0.5" fill="#137a1e" opacity="0.9"/><circle cx="304.20" cy="236.99" r="0.5" fill="#137a1e" opacity="0.9"/><circle cx="304.46" cy="223.09" r="0.5" fill="#137a1e" opacity="0.9"/><circle cx="304.21" cy="228.86" r="0.5" fill="#137a1e" opacity="0.9"/><circle cx="304.44" cy="223.38" r="0.5" fill="#137a1e" opacity="0.9"/>
<path d="M326.75,177.10 C326.78,178.53 326.59,183.13 326.92,185.70 C327.25,188.27 328.14,189.95 328.75,192.50 C329.36,195.05 330.47,197.88 330.55,201.00 C330.63,204.12 329.40,208.37 329.25,211.20 C329.10,214.03 329.50,215.45 329.65,218.00 C329.80,220.55 330.47,223.37 330.15,226.50 C329.83,229.63 328.18,233.38 327.75,236.80 C327.32,240.22 327.68,243.63 327.55,247.00 C327.42,250.37 327.11,253.58 326.98,257.00 C326.85,260.42 326.79,265.75 326.75,267.50 L326.25,267.50 C326.21,265.75 326.15,260.42 326.02,257.00 C325.89,253.58 325.58,250.37 325.45,247.00 C325.32,243.63 325.68,240.22 325.25,236.80 C324.82,233.38 323.17,229.63 322.85,226.50 C322.53,223.37 323.20,220.55 323.35,218.00 C323.50,215.45 323.90,214.03 323.75,211.20 C323.60,208.37 322.37,204.12 322.45,201.00 C322.53,197.88 323.64,195.05 324.25,192.50 C324.86,189.95 325.75,188.27 326.08,185.70 C326.41,183.13 326.22,178.53 326.25,177.10 Z" fill="#fff" stroke="#b3121c" stroke-width="1.1"/><line x1="323.37" y1="217.70" x2="329.63" y2="217.70" stroke="#740d14" stroke-width="0.8"/><line x1="323.00" y1="202.19" x2="330.00" y2="202.19" stroke="#b3121c" stroke-width="0.6" stroke-dasharray="0.7,0.7"/><line x1="323.64" y1="228.18" x2="329.36" y2="228.18" stroke="#b3121c" stroke-width="0.6" stroke-dasharray="0.7,0.7"/><circle cx="325.80" cy="213.79" r="0.5" fill="#b3121c" opacity="0.9"/><circle cx="326.35" cy="231.05" r="0.5" fill="#b3121c" opacity="0.9"/><circle cx="326.70" cy="225.20" r="0.5" fill="#b3121c" opacity="0.9"/><circle cx="326.44" cy="244.88" r="0.5" fill="#b3121c" opacity="0.9"/><circle cx="326.30" cy="222.85" r="0.5" fill="#b3121c" opacity="0.9"/><circle cx="326.06" cy="201.24" r="0.5" fill="#b3121c" opacity="0.9"/><circle cx="325.43" cy="226.46" r="0.5" fill="#b3121c" opacity="0.9"/><circle cx="326.07" cy="203.86" r="0.5" fill="#b3121c" opacity="0.9"/><circle cx="326.43" cy="237.04" r="0.5" fill="#b3121c" opacity="0.9"/><circle cx="326.06" cy="196.25" r="0.5" fill="#b3121c" opacity="0.9"/><circle cx="325.50" cy="222.86" r="0.5" fill="#b3121c" opacity="0.9"/><circle cx="325.61" cy="209.13" r="0.5" fill="#b3121c" opacity="0.9"/><circle cx="327.36" cy="228.51" r="0.5" fill="#b3121c" opacity="0.9"/><circle cx="325.87" cy="219.43" r="0.5" fill="#b3121c" opacity="0.9"/><circle cx="326.33" cy="215.88" r="0.5" fill="#b3121c" opacity="0.9"/><circle cx="326.91" cy="197.60" r="0.5" fill="#b3121c" opacity="0.9"/><circle cx="325.77" cy="199.83" r="0.5" fill="#b3121c" opacity="0.9"/><circle cx="326.53" cy="216.04" r="0.5" fill="#b3121c" opacity="0.9"/><circle cx="326.47" cy="212.27" r="0.5" fill="#b3121c" opacity="0.9"/><circle cx="326.27" cy="210.02" r="0.5" fill="#b3121c" opacity="0.9"/><circle cx="326.25" cy="215.30" r="0.5" fill="#b3121c" opacity="0.9"/><circle cx="327.40" cy="223.43" r="0.5" fill="#b3121c" opacity="0.9"/><circle cx="326.46" cy="240.34" r="0.5" fill="#b3121c" opacity="0.9"/><circle cx="326.55" cy="230.03" r="0.5" fill="#b3121c" opacity="0.9"/>
<path d="M340.45,176.80 C340.47,179.00 340.51,185.63 340.56,190.00 C340.61,194.37 340.43,200.17 340.74,203.00 C341.06,205.83 341.95,205.50 342.45,207.00 C342.95,208.50 343.67,210.42 343.75,212.00 C343.83,213.58 343.15,215.43 342.95,216.50 C342.75,217.57 342.42,217.32 342.55,218.40 C342.68,219.48 343.58,221.40 343.75,223.00 C343.92,224.60 343.85,226.00 343.55,228.00 C343.25,230.00 342.38,232.40 341.95,235.00 C341.52,237.60 341.20,240.18 340.95,243.60 C340.70,247.02 340.53,253.52 340.45,255.50 L339.95,255.50 C339.87,253.52 339.70,247.02 339.45,243.60 C339.20,240.18 338.88,237.60 338.45,235.00 C338.02,232.40 337.15,230.00 336.85,228.00 C336.55,226.00 336.48,224.60 336.65,223.00 C336.82,221.40 337.72,219.48 337.85,218.40 C337.98,217.32 337.65,217.57 337.45,216.50 C337.25,215.43 336.57,213.58 336.65,212.00 C336.73,210.42 337.45,208.50 337.95,207.00 C338.45,205.50 339.34,205.83 339.66,203.00 C339.97,200.17 339.79,194.37 339.84,190.00 C339.89,185.63 339.93,179.00 339.95,176.80 Z" fill="#fff" stroke="#137a1e" stroke-width="1.1"/><line x1="337.85" y1="218.40" x2="342.55" y2="218.40" stroke="#0d4c14" stroke-width="0.8"/><line x1="337.15" y1="211.62" x2="343.25" y2="211.62" stroke="#137a1e" stroke-width="0.6" stroke-dasharray="0.7,0.7"/><line x1="337.69" y1="229.92" x2="342.71" y2="229.92" stroke="#137a1e" stroke-width="0.6" stroke-dasharray="0.7,0.7"/><circle cx="339.31" cy="225.02" r="0.5" fill="#137a1e" opacity="0.9"/><circle cx="339.78" cy="208.73" r="0.5" fill="#137a1e" opacity="0.9"/><circle cx="340.17" cy="217.09" r="0.5" fill="#137a1e" opacity="0.9"/><circle cx="340.38" cy="233.07" r="0.5" fill="#137a1e" opacity="0.9"/><circle cx="339.62" cy="222.19" r="0.5" fill="#137a1e" opacity="0.9"/><circle cx="341.01" cy="230.21" r="0.5" fill="#137a1e" opacity="0.9"/><circle cx="339.60" cy="218.82" r="0.5" fill="#137a1e" opacity="0.9"/><circle cx="339.21" cy="226.00" r="0.5" fill="#137a1e" opacity="0.9"/><circle cx="339.51" cy="220.95" r="0.5" fill="#137a1e" opacity="0.9"/><circle cx="340.41" cy="223.97" r="0.5" fill="#137a1e" opacity="0.9"/><circle cx="340.41" cy="233.19" r="0.5" fill="#137a1e" opacity="0.9"/><circle cx="340.70" cy="216.77" r="0.5" fill="#137a1e" opacity="0.9"/><circle cx="339.73" cy="212.98" r="0.5" fill="#137a1e" opacity="0.9"/><circle cx="340.02" cy="208.31" r="0.5" fill="#137a1e" opacity="0.9"/><circle cx="339.30" cy="210.23" r="0.5" fill="#137a1e" opacity="0.9"/><circle cx="340.91" cy="210.78" r="0.5" fill="#137a1e" opacity="0.9"/><circle cx="340.70" cy="228.06" r="0.5" fill="#137a1e" opacity="0.9"/><circle cx="340.92" cy="210.11" r="0.5" fill="#137a1e" opacity="0.9"/><circle cx="340.30" cy="225.17" r="0.5" fill="#137a1e" opacity="0.9"/><circle cx="339.47" cy="211.03" r="0.5" fill="#137a1e" opacity="0.9"/><circle cx="341.22" cy="211.04" r="0.5" fill="#137a1e" opacity="0.9"/><circle cx="340.62" cy="212.22" r="0.5" fill="#137a1e" opacity="0.9"/><circle cx="340.82" cy="210.35" r="0.5" fill="#137a1e" opacity="0.9"/><circle cx="340.47" cy="221.01" r="0.5" fill="#137a1e" opacity="0.9"/><circle cx="340.65" cy="213.11" r="0.5" fill="#137a1e" opacity="0.9"/><circle cx="339.65" cy="223.40" r="0.5" fill="#137a1e" opacity="0.9"/><circle cx="340.36" cy="225.50" r="0.5" fill="#137a1e" opacity="0.9"/><circle cx="340.14" cy="220.06" r="0.5" fill="#137a1e" opacity="0.9"/>
<path d="M362.55,176.30 C362.59,177.87 362.28,182.43 362.78,185.70 C363.28,188.97 364.99,192.50 365.55,195.90 C366.11,199.30 366.23,202.68 366.15,206.10 C366.07,209.52 365.10,213.92 365.05,216.40 C365.00,218.88 365.68,219.32 365.85,221.00 C366.02,222.68 366.43,223.87 366.05,226.50 C365.67,229.13 364.05,233.38 363.55,236.80 C363.05,240.22 363.22,241.88 363.05,247.00 C362.88,252.12 362.63,264.08 362.55,267.50 L362.05,267.50 C361.97,264.08 361.72,252.12 361.55,247.00 C361.38,241.88 361.55,240.22 361.05,236.80 C360.55,233.38 358.93,229.13 358.55,226.50 C358.17,223.87 358.58,222.68 358.75,221.00 C358.92,219.32 359.60,218.88 359.55,216.40 C359.50,213.92 358.53,209.52 358.45,206.10 C358.37,202.68 358.49,199.30 359.05,195.90 C359.61,192.50 361.32,188.97 361.82,185.70 C362.32,182.43 362.01,177.87 362.05,176.30 Z" fill="#fff" stroke="#b3121c" stroke-width="1.1"/><line x1="358.65" y1="208.00" x2="365.95" y2="208.00" stroke="#740d14" stroke-width="0.8"/><line x1="359.09" y1="202.06" x2="365.51" y2="202.06" stroke="#b3121c" stroke-width="0.6" stroke-dasharray="0.7,0.7"/><line x1="359.16" y1="227.37" x2="365.44" y2="227.37" stroke="#b3121c" stroke-width="0.6" stroke-dasharray="0.7,0.7"/><circle cx="362.12" cy="214.70" r="0.5" fill="#b3121c" opacity="0.9"/><circle cx="361.17" cy="203.86" r="0.5" fill="#b3121c" opacity="0.9"/><circle cx="363.50" cy="204.44" r="0.5" fill="#b3121c" opacity="0.9"/><circle cx="361.87" cy="232.11" r="0.5" fill="#b3121c" opacity="0.9"/><circle cx="363.18" cy="217.96" r="0.5" fill="#b3121c" opacity="0.9"/><circle cx="362.26" cy="189.22" r="0.5" fill="#b3121c" opacity="0.9"/><circle cx="362.47" cy="217.82" r="0.5" fill="#b3121c" opacity="0.9"/><circle cx="362.25" cy="212.06" r="0.5" fill="#b3121c" opacity="0.9"/><circle cx="361.55" cy="200.40" r="0.5" fill="#b3121c" opacity="0.9"/><circle cx="362.25" cy="231.63" r="0.5" fill="#b3121c" opacity="0.9"/><circle cx="362.42" cy="231.17" r="0.5" fill="#b3121c" opacity="0.9"/><circle cx="363.15" cy="229.64" r="0.5" fill="#b3121c" opacity="0.9"/><circle cx="362.97" cy="230.63" r="0.5" fill="#b3121c" opacity="0.9"/><circle cx="362.64" cy="217.24" r="0.5" fill="#b3121c" opacity="0.9"/><circle cx="363.35" cy="224.88" r="0.5" fill="#b3121c" opacity="0.9"/><circle cx="362.21" cy="235.40" r="0.5" fill="#b3121c" opacity="0.9"/><circle cx="361.51" cy="217.14" r="0.5" fill="#b3121c" opacity="0.9"/><circle cx="362.41" cy="197.89" r="0.5" fill="#b3121c" opacity="0.9"/><circle cx="362.38" cy="239.13" r="0.5" fill="#b3121c" opacity="0.9"/><circle cx="362.47" cy="211.78" r="0.5" fill="#b3121c" opacity="0.9"/><circle cx="363.10" cy="221.90" r="0.5" fill="#b3121c" opacity="0.9"/><circle cx="362.47" cy="206.58" r="0.5" fill="#b3121c" opacity="0.9"/><circle cx="361.65" cy="224.44" r="0.5" fill="#b3121c" opacity="0.9"/><circle cx="361.90" cy="219.48" r="0.5" fill="#b3121c" opacity="0.9"/>
<path d="M375.85,177.70 C375.88,179.75 375.94,186.87 376.02,190.00 C376.10,193.13 376.05,194.32 376.35,196.50 C376.66,198.68 377.47,200.92 377.85,203.10 C378.23,205.28 378.35,207.62 378.65,209.60 C378.95,211.58 379.48,212.73 379.65,215.00 C379.82,217.27 380.03,220.20 379.65,223.20 C379.27,226.20 377.90,230.55 377.35,233.00 C376.80,235.45 376.60,235.03 376.35,237.90 C376.10,240.77 375.93,248.15 375.85,250.20 L375.35,250.20 C375.27,248.15 375.10,240.77 374.85,237.90 C374.60,235.03 374.40,235.45 373.85,233.00 C373.30,230.55 371.93,226.20 371.55,223.20 C371.17,220.20 371.38,217.27 371.55,215.00 C371.72,212.73 372.25,211.58 372.55,209.60 C372.85,207.62 372.97,205.28 373.35,203.10 C373.73,200.92 374.55,198.68 374.85,196.50 C375.16,194.32 375.10,193.13 375.18,190.00 C375.26,186.87 375.32,179.75 375.35,177.70 Z" fill="#fff" stroke="#137a1e" stroke-width="1.1"/><line x1="371.55" y1="218.00" x2="379.65" y2="218.00" stroke="#0d4c14" stroke-width="0.8"/><line x1="373.06" y1="208.69" x2="378.14" y2="208.69" stroke="#137a1e" stroke-width="0.6" stroke-dasharray="0.7,0.7"/><line x1="372.50" y1="225.55" x2="378.70" y2="225.55" stroke="#137a1e" stroke-width="0.6" stroke-dasharray="0.7,0.7"/><circle cx="376.33" cy="225.42" r="0.5" fill="#137a1e" opacity="0.9"/><circle cx="376.28" cy="217.01" r="0.5" fill="#137a1e" opacity="0.9"/><circle cx="374.77" cy="227.10" r="0.5" fill="#137a1e" opacity="0.9"/><circle cx="376.73" cy="219.57" r="0.5" fill="#137a1e" opacity="0.9"/><circle cx="374.83" cy="214.69" r="0.5" fill="#137a1e" opacity="0.9"/><circle cx="375.27" cy="207.32" r="0.5" fill="#137a1e" opacity="0.9"/><circle cx="374.86" cy="226.40" r="0.5" fill="#137a1e" opacity="0.9"/><circle cx="376.44" cy="209.63" r="0.5" fill="#137a1e" opacity="0.9"/><circle cx="375.33" cy="233.33" r="0.5" fill="#137a1e" opacity="0.9"/><circle cx="375.18" cy="202.29" r="0.5" fill="#137a1e" opacity="0.9"/><circle cx="374.88" cy="216.18" r="0.5" fill="#137a1e" opacity="0.9"/><circle cx="375.20" cy="222.76" r="0.5" fill="#137a1e" opacity="0.9"/><circle cx="374.52" cy="220.07" r="0.5" fill="#137a1e" opacity="0.9"/><circle cx="376.47" cy="211.00" r="0.5" fill="#137a1e" opacity="0.9"/><circle cx="375.65" cy="234.23" r="0.5" fill="#137a1e" opacity="0.9"/><circle cx="375.57" cy="209.68" r="0.5" fill="#137a1e" opacity="0.9"/><circle cx="374.47" cy="221.57" r="0.5" fill="#137a1e" opacity="0.9"/><circle cx="374.24" cy="223.25" r="0.5" fill="#137a1e" opacity="0.9"/><circle cx="375.08" cy="210.59" r="0.5" fill="#137a1e" opacity="0.9"/><circle cx="374.86" cy="218.96" r="0.5" fill="#137a1e" opacity="0.9"/><circle cx="376.87" cy="217.76" r="0.5" fill="#137a1e" opacity="0.9"/><circle cx="374.69" cy="214.96" r="0.5" fill="#137a1e" opacity="0.9"/><circle cx="374.34" cy="220.72" r="0.5" fill="#137a1e" opacity="0.9"/><circle cx="375.48" cy="215.63" r="0.5" fill="#137a1e" opacity="0.9"/><circle cx="375.59" cy="204.22" r="0.5" fill="#137a1e" opacity="0.9"/><circle cx="375.54" cy="198.59" r="0.5" fill="#137a1e" opacity="0.9"/><circle cx="375.26" cy="228.62" r="0.5" fill="#137a1e" opacity="0.9"/><circle cx="376.62" cy="215.25" r="0.5" fill="#137a1e" opacity="0.9"/>
<path d="M398.85,179.40 C398.89,180.90 398.61,185.27 399.08,188.40 C399.55,191.53 401.36,195.27 401.65,198.20 C401.95,201.13 401.15,203.42 400.85,206.00 C400.55,208.58 399.80,211.18 399.85,213.70 C399.90,216.22 400.65,218.97 401.15,221.10 C401.65,223.23 403.10,223.97 402.85,226.50 C402.60,229.03 400.32,233.03 399.65,236.30 C398.98,239.57 398.98,244.47 398.85,246.10 L398.35,246.10 C398.22,244.47 398.22,239.57 397.55,236.30 C396.88,233.03 394.60,229.03 394.35,226.50 C394.10,223.97 395.55,223.23 396.05,221.10 C396.55,218.97 397.30,216.22 397.35,213.70 C397.40,211.18 396.65,208.58 396.35,206.00 C396.05,203.42 395.25,201.13 395.55,198.20 C395.85,195.27 397.65,191.53 398.12,188.40 C398.59,185.27 398.31,180.90 398.35,179.40 Z" fill="#fff" stroke="#b3121c" stroke-width="1.1"/><line x1="394.51" y1="227.00" x2="402.69" y2="227.00" stroke="#740d14" stroke-width="0.8"/><line x1="396.30" y1="201.58" x2="400.90" y2="201.58" stroke="#b3121c" stroke-width="0.6" stroke-dasharray="0.7,0.7"/><line x1="395.00" y1="227.26" x2="402.20" y2="227.26" stroke="#b3121c" stroke-width="0.6" stroke-dasharray="0.7,0.7"/><circle cx="399.09" cy="232.65" r="0.5" fill="#b3121c" opacity="0.9"/><circle cx="398.24" cy="208.44" r="0.5" fill="#b3121c" opacity="0.9"/><circle cx="398.76" cy="230.26" r="0.5" fill="#b3121c" opacity="0.9"/><circle cx="398.51" cy="191.21" r="0.5" fill="#b3121c" opacity="0.9"/><circle cx="398.45" cy="199.87" r="0.5" fill="#b3121c" opacity="0.9"/><circle cx="398.19" cy="233.51" r="0.5" fill="#b3121c" opacity="0.9"/><circle cx="397.22" cy="226.10" r="0.5" fill="#b3121c" opacity="0.9"/><circle cx="398.63" cy="214.05" r="0.5" fill="#b3121c" opacity="0.9"/><circle cx="397.91" cy="202.54" r="0.5" fill="#b3121c" opacity="0.9"/><circle cx="398.54" cy="200.69" r="0.5" fill="#b3121c" opacity="0.9"/><circle cx="398.01" cy="200.05" r="0.5" fill="#b3121c" opacity="0.9"/><circle cx="398.67" cy="212.48" r="0.5" fill="#b3121c" opacity="0.9"/><circle cx="398.97" cy="228.49" r="0.5" fill="#b3121c" opacity="0.9"/><circle cx="397.96" cy="224.75" r="0.5" fill="#b3121c" opacity="0.9"/><circle cx="398.46" cy="226.92" r="0.5" fill="#b3121c" opacity="0.9"/><circle cx="398.64" cy="199.71" r="0.5" fill="#b3121c" opacity="0.9"/><circle cx="399.26" cy="222.60" r="0.5" fill="#b3121c" opacity="0.9"/><circle cx="398.36" cy="201.93" r="0.5" fill="#b3121c" opacity="0.9"/><circle cx="398.07" cy="219.85" r="0.5" fill="#b3121c" opacity="0.9"/><circle cx="398.24" cy="198.04" r="0.5" fill="#b3121c" opacity="0.9"/><circle cx="398.57" cy="220.84" r="0.5" fill="#b3121c" opacity="0.9"/><circle cx="399.31" cy="202.22" r="0.5" fill="#b3121c" opacity="0.9"/><circle cx="398.21" cy="206.61" r="0.5" fill="#b3121c" opacity="0.9"/><circle cx="398.97" cy="200.45" r="0.5" fill="#b3121c" opacity="0.9"/>
<path d="M411.85,178.50 C411.88,180.42 411.94,186.72 412.02,190.00 C412.10,193.28 411.88,195.20 412.35,198.20 C412.82,201.20 414.60,205.42 414.85,208.00 C415.10,210.58 413.88,211.93 413.85,213.70 C413.82,215.47 414.48,217.30 414.65,218.60 C414.82,219.90 415.15,219.65 414.85,221.50 C414.55,223.35 413.35,226.97 412.85,229.70 C412.35,232.43 412.02,236.53 411.85,237.90 L411.35,237.90 C411.18,236.53 410.85,232.43 410.35,229.70 C409.85,226.97 408.65,223.35 408.35,221.50 C408.05,219.65 408.38,219.90 408.55,218.60 C408.72,217.30 409.38,215.47 409.35,213.70 C409.32,211.93 408.10,210.58 408.35,208.00 C408.60,205.42 410.38,201.20 410.85,198.20 C411.32,195.20 411.10,193.28 411.18,190.00 C411.26,186.72 411.32,180.42 411.35,178.50 Z" fill="#fff" stroke="#137a1e" stroke-width="1.1"/><line x1="409.14" y1="215.00" x2="414.06" y2="215.00" stroke="#0d4c14" stroke-width="0.8"/><line x1="409.19" y1="206.27" x2="414.01" y2="206.27" stroke="#137a1e" stroke-width="0.6" stroke-dasharray="0.7,0.7"/><line x1="408.91" y1="222.16" x2="414.29" y2="222.16" stroke="#137a1e" stroke-width="0.6" stroke-dasharray="0.7,0.7"/><circle cx="412.29" cy="216.17" r="0.5" fill="#137a1e" opacity="0.9"/><circle cx="411.15" cy="225.76" r="0.5" fill="#137a1e" opacity="0.9"/><circle cx="411.46" cy="200.94" r="0.5" fill="#137a1e" opacity="0.9"/><circle cx="412.15" cy="213.09" r="0.5" fill="#137a1e" opacity="0.9"/><circle cx="411.73" cy="206.37" r="0.5" fill="#137a1e" opacity="0.9"/><circle cx="412.03" cy="215.38" r="0.5" fill="#137a1e" opacity="0.9"/><circle cx="411.91" cy="205.22" r="0.5" fill="#137a1e" opacity="0.9"/><circle cx="411.33" cy="218.12" r="0.5" fill="#137a1e" opacity="0.9"/><circle cx="411.08" cy="207.06" r="0.5" fill="#137a1e" opacity="0.9"/><circle cx="411.38" cy="212.21" r="0.5" fill="#137a1e" opacity="0.9"/><circle cx="412.02" cy="223.06" r="0.5" fill="#137a1e" opacity="0.9"/><circle cx="411.33" cy="204.49" r="0.5" fill="#137a1e" opacity="0.9"/><circle cx="411.13" cy="224.32" r="0.5" fill="#137a1e" opacity="0.9"/><circle cx="410.75" cy="219.71" r="0.5" fill="#137a1e" opacity="0.9"/><circle cx="411.45" cy="222.35" r="0.5" fill="#137a1e" opacity="0.9"/><circle cx="411.69" cy="207.29" r="0.5" fill="#137a1e" opacity="0.9"/><circle cx="411.64" cy="229.27" r="0.5" fill="#137a1e" opacity="0.9"/><circle cx="411.86" cy="213.23" r="0.5" fill="#137a1e" opacity="0.9"/><circle cx="411.31" cy="210.55" r="0.5" fill="#137a1e" opacity="0.9"/><circle cx="411.87" cy="203.15" r="0.5" fill="#137a1e" opacity="0.9"/><circle cx="412.15" cy="214.23" r="0.5" fill="#137a1e" opacity="0.9"/><circle cx="410.89" cy="220.49" r="0.5" fill="#137a1e" opacity="0.9"/><circle cx="411.32" cy="204.35" r="0.5" fill="#137a1e" opacity="0.9"/><circle cx="411.07" cy="219.95" r="0.5" fill="#137a1e" opacity="0.9"/><circle cx="410.71" cy="207.33" r="0.5" fill="#137a1e" opacity="0.9"/><circle cx="412.28" cy="207.47" r="0.5" fill="#137a1e" opacity="0.9"/><circle cx="411.14" cy="207.87" r="0.5" fill="#137a1e" opacity="0.9"/><circle cx="411.28" cy="222.03" r="0.5" fill="#137a1e" opacity="0.9"/>
<path d="M245.5,172.4 L245.5,270.2 L421.4,270.2" fill="none" stroke="#444" stroke-width="1.45"/>
<line x1="242.9" y1="173.5" x2="245.5" y2="173.5" stroke="#111" stroke-width="1.05"/>
<text x="242.2" y="175.1" font-size="4.6" text-anchor="end" fill="#111" stroke="#111" stroke-width="0.12" font-weight="bold">150</text>
<line x1="242.9" y1="192.8" x2="245.5" y2="192.8" stroke="#111" stroke-width="1.05"/>
<text x="242.2" y="194.4" font-size="4.6" text-anchor="end" fill="#111" stroke="#111" stroke-width="0.12" font-weight="bold">120</text>
<line x1="242.9" y1="212.0" x2="245.5" y2="212.0" stroke="#111" stroke-width="1.05"/>
<text x="242.2" y="213.6" font-size="4.6" text-anchor="end" fill="#111" stroke="#111" stroke-width="0.12" font-weight="bold">90</text>
<line x1="242.9" y1="231.3" x2="245.5" y2="231.3" stroke="#111" stroke-width="1.05"/>
<text x="242.2" y="232.9" font-size="4.6" text-anchor="end" fill="#111" stroke="#111" stroke-width="0.12" font-weight="bold">60</text>
<line x1="242.9" y1="250.5" x2="245.5" y2="250.5" stroke="#111" stroke-width="1.05"/>
<text x="242.2" y="252.1" font-size="4.6" text-anchor="end" fill="#111" stroke="#111" stroke-width="0.12" font-weight="bold">30</text>
<line x1="242.9" y1="269.8" x2="245.5" y2="269.8" stroke="#111" stroke-width="1.05"/>
<text x="242.2" y="271.40000000000003" font-size="4.6" text-anchor="end" fill="#111" stroke="#111" stroke-width="0.12" font-weight="bold">0</text>
<line x1="261.6" y1="270.2" x2="261.6" y2="273.2" stroke="#000" stroke-width="1.1"/>
<line x1="297.5" y1="270.2" x2="297.5" y2="273.2" stroke="#000" stroke-width="1.1"/>
<line x1="333.2" y1="270.2" x2="333.2" y2="273.2" stroke="#000" stroke-width="1.1"/>
<line x1="369.1" y1="270.2" x2="369.1" y2="273.2" stroke="#000" stroke-width="1.1"/>
<line x1="405.3" y1="270.2" x2="405.3" y2="273.2" stroke="#000" stroke-width="1.1"/>
<text x="263.40000000000003" y="277.2" font-size="4.95" text-anchor="end" font-weight="bold" fill="#050505" stroke="#050505" stroke-width="0.08" transform="rotate(-40 263.40000000000003 277.2)">On admission</text>
<text x="299.3" y="277.2" font-size="4.95" text-anchor="end" font-weight="bold" fill="#050505" stroke="#050505" stroke-width="0.08" transform="rotate(-40 299.3 277.2)">Discharge</text>
<text x="335.0" y="277.2" font-size="4.95" text-anchor="end" font-weight="bold" fill="#050505" stroke="#050505" stroke-width="0.08" transform="rotate(-40 335.0 277.2)">4 months later</text>
<text x="370.90000000000003" y="277.2" font-size="4.95" text-anchor="end" font-weight="bold" fill="#050505" stroke="#050505" stroke-width="0.08" transform="rotate(-40 370.90000000000003 277.2)">8 months later</text>
<text x="407.1" y="277.2" font-size="4.95" text-anchor="end" font-weight="bold" fill="#050505" stroke="#050505" stroke-width="0.08" transform="rotate(-40 407.1 277.2)">12 months later</text>
<text x="229.932" y="221.4" font-size="6.2" text-anchor="middle" font-weight="bold" fill="#111" stroke="#111" stroke-width="0.15" transform="rotate(-90 229.932 221.4)">FEF50</text>
<text x="247.9" y="176.8" font-size="5" fill="#222" stroke="#222" stroke-width="0.1">%</text>
<text x="417.0" y="276.0" font-size="4.6" fill="#555">t</text>
<rect x="389.6" y="250.6" width="5.5" height="2.6" fill="#fff" stroke="#a31e24" stroke-width="1.35"/>
<rect x="389.6" y="259.1" width="5.5" height="2.6" fill="#fff" stroke="#156e1e" stroke-width="1.35"/>
<text x="399.7" y="253.997" font-family="Liberation Serif, serif" font-size="5.9" font-style="italic" fill="#222" textLength="44.6" lengthAdjust="spacingAndGlyphs">Severe case group</text>
<text x="399.7" y="263.197" font-family="Liberation Serif, serif" font-size="5.9" font-style="italic" fill="#555" textLength="43.800000000000004" lengthAdjust="spacingAndGlyphs">Non severe group</text>
<path d="M487.85,194.10 C487.89,195.47 487.71,199.80 488.08,202.30 C488.45,204.80 489.75,206.82 490.05,209.10 C490.35,211.38 490.05,213.72 489.85,216.00 C489.65,218.28 489.02,220.95 488.85,222.80 C488.68,224.65 488.47,224.38 488.85,227.10 C489.23,229.82 491.15,235.12 491.15,239.10 C491.15,243.08 489.40,247.45 488.85,251.00 C488.30,254.55 488.02,258.83 487.85,260.40 L487.35,260.40 C487.18,258.83 486.90,254.55 486.35,251.00 C485.80,247.45 484.05,243.08 484.05,239.10 C484.05,235.12 485.97,229.82 486.35,227.10 C486.73,224.38 486.52,224.65 486.35,222.80 C486.18,220.95 485.55,218.28 485.35,216.00 C485.15,213.72 484.86,211.38 485.15,209.10 C485.45,206.82 486.75,204.80 487.12,202.30 C487.49,199.80 487.31,195.47 487.35,194.10 Z" fill="#fff" stroke="#b3121c" stroke-width="1.1"/><line x1="484.07" y1="239.00" x2="491.13" y2="239.00" stroke="#740d14" stroke-width="0.8"/><line x1="485.73" y1="215.48" x2="489.47" y2="215.48" stroke="#b3121c" stroke-width="0.6" stroke-dasharray="0.7,0.7"/><line x1="484.91" y1="241.50" x2="490.29" y2="241.50" stroke="#b3121c" stroke-width="0.6" stroke-dasharray="0.7,0.7"/><circle cx="487.89" cy="232.44" r="0.5" fill="#b3121c" opacity="0.9"/><circle cx="487.43" cy="246.58" r="0.5" fill="#b3121c" opacity="0.9"/><circle cx="487.82" cy="220.50" r="0.5" fill="#b3121c" opacity="0.9"/><circle cx="487.36" cy="218.87" r="0.5" fill="#b3121c" opacity="0.9"/><circle cx="488.22" cy="233.87" r="0.5" fill="#b3121c" opacity="0.9"/><circle cx="487.66" cy="230.73" r="0.5" fill="#b3121c" opacity="0.9"/><circle cx="488.27" cy="234.52" r="0.5" fill="#b3121c" opacity="0.9"/><circle cx="487.96" cy="217.80" r="0.5" fill="#b3121c" opacity="0.9"/><circle cx="487.53" cy="241.08" r="0.5" fill="#b3121c" opacity="0.9"/><circle cx="487.02" cy="211.95" r="0.5" fill="#b3121c" opacity="0.9"/><circle cx="487.55" cy="225.69" r="0.5" fill="#b3121c" opacity="0.9"/><circle cx="487.58" cy="219.80" r="0.5" fill="#b3121c" opacity="0.9"/><circle cx="487.23" cy="216.53" r="0.5" fill="#b3121c" opacity="0.9"/><circle cx="488.11" cy="240.17" r="0.5" fill="#b3121c" opacity="0.9"/><circle cx="488.02" cy="217.48" r="0.5" fill="#b3121c" opacity="0.9"/><circle cx="487.80" cy="235.39" r="0.5" fill="#b3121c" opacity="0.9"/><circle cx="487.10" cy="238.61" r="0.5" fill="#b3121c" opacity="0.9"/><circle cx="487.79" cy="212.34" r="0.5" fill="#b3121c" opacity="0.9"/><circle cx="487.61" cy="211.70" r="0.5" fill="#b3121c" opacity="0.9"/><circle cx="487.63" cy="244.33" r="0.5" fill="#b3121c" opacity="0.9"/><circle cx="487.64" cy="223.50" r="0.5" fill="#b3121c" opacity="0.9"/><circle cx="487.94" cy="207.56" r="0.5" fill="#b3121c" opacity="0.9"/><circle cx="487.49" cy="218.67" r="0.5" fill="#b3121c" opacity="0.9"/><circle cx="487.86" cy="233.19" r="0.5" fill="#b3121c" opacity="0.9"/>
<path d="M500.55,195.50 C500.58,197.08 500.64,202.45 500.72,205.00 C500.80,207.55 500.78,208.68 501.05,210.80 C501.32,212.92 502.08,215.83 502.35,217.70 C502.62,219.57 502.45,220.58 502.65,222.00 C502.85,223.42 503.20,224.50 503.55,226.20 C503.90,227.90 504.70,230.05 504.75,232.20 C504.80,234.35 504.30,236.25 503.85,239.10 C503.40,241.95 502.60,245.32 502.05,249.30 C501.50,253.28 500.80,260.72 500.55,263.00 L500.05,263.00 C499.80,260.72 499.10,253.28 498.55,249.30 C498.00,245.32 497.20,241.95 496.75,239.10 C496.30,236.25 495.80,234.35 495.85,232.20 C495.90,230.05 496.70,227.90 497.05,226.20 C497.40,224.50 497.75,223.42 497.95,222.00 C498.15,220.58 497.98,219.57 498.25,217.70 C498.52,215.83 499.28,212.92 499.55,210.80 C499.82,208.68 499.80,207.55 499.88,205.00 C499.96,202.45 500.02,197.08 500.05,195.50 Z" fill="#fff" stroke="#137a1e" stroke-width="1.1"/><line x1="496.08" y1="234.00" x2="504.52" y2="234.00" stroke="#0d4c14" stroke-width="0.8"/><line x1="497.81" y1="224.53" x2="502.79" y2="224.53" stroke="#137a1e" stroke-width="0.6" stroke-dasharray="0.7,0.7"/><line x1="497.62" y1="241.74" x2="502.98" y2="241.74" stroke="#137a1e" stroke-width="0.6" stroke-dasharray="0.7,0.7"/><circle cx="499.69" cy="238.66" r="0.5" fill="#137a1e" opacity="0.9"/><circle cx="500.22" cy="249.96" r="0.5" fill="#137a1e" opacity="0.9"/><circle cx="500.98" cy="243.97" r="0.5" fill="#137a1e" opacity="0.9"/><circle cx="499.30" cy="226.50" r="0.5" fill="#137a1e" opacity="0.9"/><circle cx="500.25" cy="246.60" r="0.5" fill="#137a1e" opacity="0.9"/><circle cx="501.19" cy="241.10" r="0.5" fill="#137a1e" opacity="0.9"/><circle cx="499.81" cy="222.10" r="0.5" fill="#137a1e" opacity="0.9"/><circle cx="500.30" cy="234.10" r="0.5" fill="#137a1e" opacity="0.9"/><circle cx="500.49" cy="249.11" r="0.5" fill="#137a1e" opacity="0.9"/><circle cx="499.95" cy="221.54" r="0.5" fill="#137a1e" opacity="0.9"/><circle cx="500.80" cy="219.06" r="0.5" fill="#137a1e" opacity="0.9"/><circle cx="499.83" cy="219.36" r="0.5" fill="#137a1e" opacity="0.9"/><circle cx="499.48" cy="240.66" r="0.5" fill="#137a1e" opacity="0.9"/><circle cx="500.43" cy="218.12" r="0.5" fill="#137a1e" opacity="0.9"/><circle cx="500.98" cy="230.11" r="0.5" fill="#137a1e" opacity="0.9"/><circle cx="500.27" cy="238.26" r="0.5" fill="#137a1e" opacity="0.9"/><circle cx="500.80" cy="242.12" r="0.5" fill="#137a1e" opacity="0.9"/><circle cx="500.14" cy="251.70" r="0.5" fill="#137a1e" opacity="0.9"/><circle cx="500.76" cy="222.21" r="0.5" fill="#137a1e" opacity="0.9"/><circle cx="500.01" cy="231.92" r="0.5" fill="#137a1e" opacity="0.9"/><circle cx="500.50" cy="216.60" r="0.5" fill="#137a1e" opacity="0.9"/><circle cx="500.48" cy="234.80" r="0.5" fill="#137a1e" opacity="0.9"/><circle cx="500.41" cy="225.76" r="0.5" fill="#137a1e" opacity="0.9"/><circle cx="499.62" cy="242.48" r="0.5" fill="#137a1e" opacity="0.9"/><circle cx="500.49" cy="215.20" r="0.5" fill="#137a1e" opacity="0.9"/><circle cx="500.41" cy="253.19" r="0.5" fill="#137a1e" opacity="0.9"/><circle cx="500.30" cy="242.31" r="0.5" fill="#137a1e" opacity="0.9"/><circle cx="500.44" cy="238.43" r="0.5" fill="#137a1e" opacity="0.9"/>
<path d="M521.85,172.60 C521.90,173.17 521.94,174.43 522.14,176.00 C522.34,177.57 522.87,179.33 523.05,182.00 C523.24,184.67 523.32,189.00 523.25,192.00 C523.18,195.00 522.75,197.83 522.65,200.00 C522.55,202.17 522.45,203.00 522.65,205.00 C522.85,207.00 523.48,209.60 523.85,212.00 C524.22,214.40 524.55,217.03 524.85,219.40 C525.15,221.77 525.53,224.43 525.65,226.20 C525.77,227.97 525.93,227.57 525.55,230.00 C525.17,232.43 523.83,237.30 523.35,240.80 C522.87,244.30 522.90,247.17 522.65,251.00 C522.40,254.83 521.98,261.67 521.85,263.80 L521.35,263.80 C521.22,261.67 520.80,254.83 520.55,251.00 C520.30,247.17 520.33,244.30 519.85,240.80 C519.37,237.30 518.03,232.43 517.65,230.00 C517.27,227.57 517.43,227.97 517.55,226.20 C517.67,224.43 518.05,221.77 518.35,219.40 C518.65,217.03 518.98,214.40 519.35,212.00 C519.72,209.60 520.35,207.00 520.55,205.00 C520.75,203.00 520.65,202.17 520.55,200.00 C520.45,197.83 520.02,195.00 519.95,192.00 C519.88,189.00 519.96,184.67 520.15,182.00 C520.34,179.33 520.86,177.57 521.06,176.00 C521.26,174.43 521.30,173.17 521.35,172.60 Z" fill="#fff" stroke="#b3121c" stroke-width="1.1"/><line x1="518.06" y1="232.00" x2="525.14" y2="232.00" stroke="#740d14" stroke-width="0.8"/><line x1="520.60" y1="207.03" x2="522.60" y2="207.03" stroke="#b3121c" stroke-width="0.6" stroke-dasharray="0.7,0.7"/><line x1="518.76" y1="233.48" x2="524.44" y2="233.48" stroke="#b3121c" stroke-width="0.6" stroke-dasharray="0.7,0.7"/><circle cx="521.31" cy="218.70" r="0.5" fill="#b3121c" opacity="0.9"/><circle cx="521.63" cy="251.14" r="0.5" fill="#b3121c" opacity="0.9"/><circle cx="521.53" cy="207.17" r="0.5" fill="#b3121c" opacity="0.9"/><circle cx="521.17" cy="231.43" r="0.5" fill="#b3121c" opacity="0.9"/><circle cx="522.23" cy="235.36" r="0.5" fill="#b3121c" opacity="0.9"/><circle cx="520.40" cy="224.84" r="0.5" fill="#b3121c" opacity="0.9"/><circle cx="521.67" cy="228.49" r="0.5" fill="#b3121c" opacity="0.9"/><circle cx="520.51" cy="226.55" r="0.5" fill="#b3121c" opacity="0.9"/><circle cx="521.80" cy="184.05" r="0.5" fill="#b3121c" opacity="0.9"/><circle cx="521.31" cy="241.35" r="0.5" fill="#b3121c" opacity="0.9"/><circle cx="521.68" cy="221.11" r="0.5" fill="#b3121c" opacity="0.9"/><circle cx="522.40" cy="217.81" r="0.5" fill="#b3121c" opacity="0.9"/><circle cx="521.54" cy="199.94" r="0.5" fill="#b3121c" opacity="0.9"/><circle cx="521.68" cy="251.62" r="0.5" fill="#b3121c" opacity="0.9"/><circle cx="521.15" cy="217.48" r="0.5" fill="#b3121c" opacity="0.9"/><circle cx="521.32" cy="190.70" r="0.5" fill="#b3121c" opacity="0.9"/><circle cx="522.08" cy="225.14" r="0.5" fill="#b3121c" opacity="0.9"/><circle cx="521.65" cy="243.92" r="0.5" fill="#b3121c" opacity="0.9"/><circle cx="521.86" cy="218.10" r="0.5" fill="#b3121c" opacity="0.9"/><circle cx="521.36" cy="211.32" r="0.5" fill="#b3121c" opacity="0.9"/><circle cx="521.36" cy="228.93" r="0.5" fill="#b3121c" opacity="0.9"/><circle cx="521.59" cy="189.35" r="0.5" fill="#b3121c" opacity="0.9"/><circle cx="521.56" cy="247.90" r="0.5" fill="#b3121c" opacity="0.9"/><circle cx="521.41" cy="191.60" r="0.5" fill="#b3121c" opacity="0.9"/>
<path d="M534.25,202.00 C534.30,204.03 534.21,210.73 534.54,214.20 C534.87,217.67 535.66,220.37 536.25,222.80 C536.84,225.23 537.97,226.08 538.05,228.80 C538.13,231.52 537.22,235.97 536.75,239.10 C536.28,242.23 535.67,244.62 535.25,247.60 C534.83,250.58 534.42,255.43 534.25,257.00 L533.75,257.00 C533.58,255.43 533.17,250.58 532.75,247.60 C532.33,244.62 531.72,242.23 531.25,239.10 C530.78,235.97 529.87,231.52 529.95,228.80 C530.03,226.08 531.16,225.23 531.75,222.80 C532.34,220.37 533.13,217.67 533.46,214.20 C533.79,210.73 533.70,204.03 533.75,202.00 Z" fill="#fff" stroke="#137a1e" stroke-width="1.1"/><line x1="530.10" y1="230.00" x2="537.90" y2="230.00" stroke="#0d4c14" stroke-width="0.8"/><line x1="531.34" y1="225.51" x2="536.66" y2="225.51" stroke="#137a1e" stroke-width="0.6" stroke-dasharray="0.7,0.7"/><line x1="531.68" y1="239.26" x2="536.32" y2="239.26" stroke="#137a1e" stroke-width="0.6" stroke-dasharray="0.7,0.7"/><circle cx="533.83" cy="221.47" r="0.5" fill="#137a1e" opacity="0.9"/><circle cx="534.45" cy="237.36" r="0.5" fill="#137a1e" opacity="0.9"/><circle cx="534.69" cy="234.84" r="0.5" fill="#137a1e" opacity="0.9"/><circle cx="534.37" cy="225.17" r="0.5" fill="#137a1e" opacity="0.9"/><circle cx="534.98" cy="231.05" r="0.5" fill="#137a1e" opacity="0.9"/><circle cx="534.09" cy="228.32" r="0.5" fill="#137a1e" opacity="0.9"/><circle cx="534.31" cy="228.49" r="0.5" fill="#137a1e" opacity="0.9"/><circle cx="533.37" cy="233.32" r="0.5" fill="#137a1e" opacity="0.9"/><circle cx="534.06" cy="244.48" r="0.5" fill="#137a1e" opacity="0.9"/><circle cx="533.67" cy="238.58" r="0.5" fill="#137a1e" opacity="0.9"/><circle cx="534.01" cy="219.05" r="0.5" fill="#137a1e" opacity="0.9"/><circle cx="533.82" cy="244.40" r="0.5" fill="#137a1e" opacity="0.9"/><circle cx="533.78" cy="232.02" r="0.5" fill="#137a1e" opacity="0.9"/><circle cx="534.48" cy="238.95" r="0.5" fill="#137a1e" opacity="0.9"/><circle cx="533.38" cy="224.13" r="0.5" fill="#137a1e" opacity="0.9"/><circle cx="533.19" cy="228.34" r="0.5" fill="#137a1e" opacity="0.9"/><circle cx="533.36" cy="239.69" r="0.5" fill="#137a1e" opacity="0.9"/><circle cx="534.65" cy="224.01" r="0.5" fill="#137a1e" opacity="0.9"/><circle cx="533.19" cy="237.78" r="0.5" fill="#137a1e" opacity="0.9"/><circle cx="534.28" cy="236.92" r="0.5" fill="#137a1e" opacity="0.9"/><circle cx="533.90" cy="227.61" r="0.5" fill="#137a1e" opacity="0.9"/><circle cx="533.72" cy="220.90" r="0.5" fill="#137a1e" opacity="0.9"/><circle cx="534.55" cy="241.14" r="0.5" fill="#137a1e" opacity="0.9"/><circle cx="534.02" cy="231.55" r="0.5" fill="#137a1e" opacity="0.9"/><circle cx="534.48" cy="235.84" r="0.5" fill="#137a1e" opacity="0.9"/><circle cx="533.86" cy="219.73" r="0.5" fill="#137a1e" opacity="0.9"/><circle cx="533.61" cy="238.08" r="0.5" fill="#137a1e" opacity="0.9"/><circle cx="532.69" cy="228.90" r="0.5" fill="#137a1e" opacity="0.9"/>
<path d="M555.65,172.50 C555.70,173.58 555.71,176.92 555.94,179.00 C556.17,181.08 556.87,182.67 557.05,185.00 C557.23,187.33 557.23,190.58 557.05,193.00 C556.87,195.42 556.02,197.67 555.94,199.50 C555.86,201.33 556.25,202.38 556.55,204.00 C556.85,205.62 557.27,207.18 557.75,209.20 C558.23,211.22 559.18,214.10 559.45,216.10 C559.72,218.10 559.52,219.55 559.35,221.20 C559.18,222.85 558.82,223.68 558.45,226.00 C558.08,228.32 557.50,232.17 557.15,235.10 C556.80,238.03 556.60,239.05 556.35,243.60 C556.10,248.15 555.77,259.27 555.65,262.40 L555.15,262.40 C555.03,259.27 554.70,248.15 554.45,243.60 C554.20,239.05 554.00,238.03 553.65,235.10 C553.30,232.17 552.72,228.32 552.35,226.00 C551.98,223.68 551.62,222.85 551.45,221.20 C551.28,219.55 551.08,218.10 551.35,216.10 C551.62,214.10 552.57,211.22 553.05,209.20 C553.53,207.18 553.95,205.62 554.25,204.00 C554.55,202.38 554.94,201.33 554.86,199.50 C554.78,197.67 553.93,195.42 553.75,193.00 C553.57,190.58 553.57,187.33 553.75,185.00 C553.93,182.67 554.63,181.08 554.86,179.00 C555.09,176.92 555.10,173.58 555.15,172.50 Z" fill="#fff" stroke="#b3121c" stroke-width="1.1"/><line x1="551.43" y1="220.00" x2="559.37" y2="220.00" stroke="#740d14" stroke-width="0.8"/><line x1="554.09" y1="206.44" x2="556.71" y2="206.44" stroke="#b3121c" stroke-width="0.6" stroke-dasharray="0.7,0.7"/><line x1="553.17" y1="228.91" x2="557.63" y2="228.91" stroke="#b3121c" stroke-width="0.6" stroke-dasharray="0.7,0.7"/><circle cx="556.10" cy="214.12" r="0.5" fill="#b3121c" opacity="0.9"/><circle cx="555.31" cy="240.16" r="0.5" fill="#b3121c" opacity="0.9"/><circle cx="554.96" cy="221.58" r="0.5" fill="#b3121c" opacity="0.9"/><circle cx="554.98" cy="209.08" r="0.5" fill="#b3121c" opacity="0.9"/><circle cx="555.71" cy="209.86" r="0.5" fill="#b3121c" opacity="0.9"/><circle cx="555.43" cy="240.91" r="0.5" fill="#b3121c" opacity="0.9"/><circle cx="555.65" cy="187.39" r="0.5" fill="#b3121c" opacity="0.9"/><circle cx="555.66" cy="208.66" r="0.5" fill="#b3121c" opacity="0.9"/><circle cx="554.99" cy="212.15" r="0.5" fill="#b3121c" opacity="0.9"/><circle cx="555.14" cy="231.07" r="0.5" fill="#b3121c" opacity="0.9"/><circle cx="555.46" cy="220.62" r="0.5" fill="#b3121c" opacity="0.9"/><circle cx="556.49" cy="218.67" r="0.5" fill="#b3121c" opacity="0.9"/><circle cx="555.67" cy="191.04" r="0.5" fill="#b3121c" opacity="0.9"/><circle cx="554.95" cy="229.86" r="0.5" fill="#b3121c" opacity="0.9"/><circle cx="555.07" cy="222.47" r="0.5" fill="#b3121c" opacity="0.9"/><circle cx="555.48" cy="190.17" r="0.5" fill="#b3121c" opacity="0.9"/><circle cx="555.64" cy="191.59" r="0.5" fill="#b3121c" opacity="0.9"/><circle cx="555.39" cy="191.62" r="0.5" fill="#b3121c" opacity="0.9"/><circle cx="554.06" cy="216.08" r="0.5" fill="#b3121c" opacity="0.9"/><circle cx="555.17" cy="233.32" r="0.5" fill="#b3121c" opacity="0.9"/><circle cx="555.84" cy="228.03" r="0.5" fill="#b3121c" opacity="0.9"/><circle cx="556.10" cy="220.06" r="0.5" fill="#b3121c" opacity="0.9"/><circle cx="554.15" cy="216.67" r="0.5" fill="#b3121c" opacity="0.9"/><circle cx="555.27" cy="227.41" r="0.5" fill="#b3121c" opacity="0.9"/>
<path d="M568.05,201.60 C568.22,203.17 568.67,208.27 569.05,211.00 C569.43,213.73 569.82,215.70 570.35,218.00 C570.88,220.30 572.22,221.95 572.25,224.80 C572.28,227.65 571.08,231.97 570.55,235.10 C570.02,238.23 569.47,241.18 569.05,243.60 C568.63,246.02 568.22,248.60 568.05,249.60 L567.55,249.60 C567.38,248.60 566.97,246.02 566.55,243.60 C566.13,241.18 565.58,238.23 565.05,235.10 C564.52,231.97 563.32,227.65 563.35,224.80 C563.38,221.95 564.72,220.30 565.25,218.00 C565.78,215.70 566.17,213.73 566.55,211.00 C566.93,208.27 567.38,203.17 567.55,201.60 Z" fill="#fff" stroke="#137a1e" stroke-width="1.1"/><line x1="563.55" y1="226.00" x2="572.05" y2="226.00" stroke="#0d4c14" stroke-width="0.8"/><line x1="565.10" y1="219.96" x2="570.50" y2="219.96" stroke="#137a1e" stroke-width="0.6" stroke-dasharray="0.7,0.7"/><line x1="565.23" y1="233.76" x2="570.37" y2="233.76" stroke="#137a1e" stroke-width="0.6" stroke-dasharray="0.7,0.7"/><circle cx="568.70" cy="232.54" r="0.5" fill="#137a1e" opacity="0.9"/><circle cx="568.47" cy="227.31" r="0.5" fill="#137a1e" opacity="0.9"/><circle cx="567.66" cy="213.56" r="0.5" fill="#137a1e" opacity="0.9"/><circle cx="568.17" cy="237.21" r="0.5" fill="#137a1e" opacity="0.9"/><circle cx="567.64" cy="241.07" r="0.5" fill="#137a1e" opacity="0.9"/><circle cx="567.84" cy="210.49" r="0.5" fill="#137a1e" opacity="0.9"/><circle cx="566.75" cy="220.92" r="0.5" fill="#137a1e" opacity="0.9"/><circle cx="568.09" cy="231.57" r="0.5" fill="#137a1e" opacity="0.9"/><circle cx="567.65" cy="225.87" r="0.5" fill="#137a1e" opacity="0.9"/><circle cx="568.63" cy="234.06" r="0.5" fill="#137a1e" opacity="0.9"/><circle cx="567.80" cy="228.24" r="0.5" fill="#137a1e" opacity="0.9"/><circle cx="567.57" cy="239.01" r="0.5" fill="#137a1e" opacity="0.9"/><circle cx="567.91" cy="241.90" r="0.5" fill="#137a1e" opacity="0.9"/><circle cx="567.94" cy="224.93" r="0.5" fill="#137a1e" opacity="0.9"/><circle cx="567.87" cy="209.98" r="0.5" fill="#137a1e" opacity="0.9"/><circle cx="567.19" cy="236.34" r="0.5" fill="#137a1e" opacity="0.9"/><circle cx="568.79" cy="224.73" r="0.5" fill="#137a1e" opacity="0.9"/><circle cx="567.63" cy="225.55" r="0.5" fill="#137a1e" opacity="0.9"/><circle cx="567.43" cy="225.80" r="0.5" fill="#137a1e" opacity="0.9"/><circle cx="568.32" cy="236.85" r="0.5" fill="#137a1e" opacity="0.9"/><circle cx="567.57" cy="231.73" r="0.5" fill="#137a1e" opacity="0.9"/><circle cx="567.83" cy="243.05" r="0.5" fill="#137a1e" opacity="0.9"/><circle cx="567.61" cy="233.12" r="0.5" fill="#137a1e" opacity="0.9"/><circle cx="567.79" cy="210.23" r="0.5" fill="#137a1e" opacity="0.9"/><circle cx="567.19" cy="226.74" r="0.5" fill="#137a1e" opacity="0.9"/><circle cx="567.60" cy="238.49" r="0.5" fill="#137a1e" opacity="0.9"/><circle cx="567.75" cy="243.89" r="0.5" fill="#137a1e" opacity="0.9"/><circle cx="567.07" cy="227.45" r="0.5" fill="#137a1e" opacity="0.9"/>
<path d="M589.25,174.80 C589.29,176.00 589.30,180.30 589.48,182.00 C589.66,183.70 590.21,183.50 590.35,185.00 C590.50,186.50 590.50,189.33 590.35,191.00 C590.21,192.67 589.58,193.00 589.48,195.00 C589.38,197.00 589.49,200.67 589.75,203.00 C590.01,205.33 590.53,206.73 591.05,209.00 C591.57,211.27 592.57,214.57 592.85,216.60 C593.13,218.63 592.93,219.63 592.75,221.20 C592.57,222.77 592.17,223.68 591.75,226.00 C591.33,228.32 590.62,231.43 590.25,235.10 C589.88,238.77 589.71,243.60 589.54,248.00 C589.37,252.40 589.30,259.25 589.25,261.50 L588.75,261.50 C588.70,259.25 588.63,252.40 588.46,248.00 C588.29,243.60 588.12,238.77 587.75,235.10 C587.38,231.43 586.67,228.32 586.25,226.00 C585.83,223.68 585.43,222.77 585.25,221.20 C585.07,219.63 584.87,218.63 585.15,216.60 C585.43,214.57 586.43,211.27 586.95,209.00 C587.47,206.73 587.99,205.33 588.25,203.00 C588.51,200.67 588.62,197.00 588.52,195.00 C588.42,193.00 587.79,192.67 587.65,191.00 C587.50,189.33 587.50,186.50 587.65,185.00 C587.79,183.50 588.34,183.70 588.52,182.00 C588.70,180.30 588.71,176.00 588.75,174.80 Z" fill="#fff" stroke="#b3121c" stroke-width="1.1"/><line x1="585.42" y1="222.00" x2="592.58" y2="222.00" stroke="#740d14" stroke-width="0.8"/><line x1="587.34" y1="209.05" x2="590.66" y2="209.05" stroke="#b3121c" stroke-width="0.6" stroke-dasharray="0.7,0.7"/><line x1="586.96" y1="227.90" x2="591.04" y2="227.90" stroke="#b3121c" stroke-width="0.6" stroke-dasharray="0.7,0.7"/><circle cx="588.78" cy="217.32" r="0.5" fill="#b3121c" opacity="0.9"/><circle cx="589.73" cy="220.31" r="0.5" fill="#b3121c" opacity="0.9"/><circle cx="589.64" cy="225.58" r="0.5" fill="#b3121c" opacity="0.9"/><circle cx="589.68" cy="217.85" r="0.5" fill="#b3121c" opacity="0.9"/><circle cx="587.84" cy="220.01" r="0.5" fill="#b3121c" opacity="0.9"/><circle cx="588.98" cy="190.07" r="0.5" fill="#b3121c" opacity="0.9"/><circle cx="588.69" cy="217.90" r="0.5" fill="#b3121c" opacity="0.9"/><circle cx="589.13" cy="226.29" r="0.5" fill="#b3121c" opacity="0.9"/><circle cx="588.91" cy="236.50" r="0.5" fill="#b3121c" opacity="0.9"/><circle cx="587.96" cy="222.61" r="0.5" fill="#b3121c" opacity="0.9"/><circle cx="589.07" cy="226.55" r="0.5" fill="#b3121c" opacity="0.9"/><circle cx="590.22" cy="219.87" r="0.5" fill="#b3121c" opacity="0.9"/><circle cx="589.48" cy="229.07" r="0.5" fill="#b3121c" opacity="0.9"/><circle cx="588.81" cy="206.79" r="0.5" fill="#b3121c" opacity="0.9"/><circle cx="588.80" cy="207.12" r="0.5" fill="#b3121c" opacity="0.9"/><circle cx="588.97" cy="236.32" r="0.5" fill="#b3121c" opacity="0.9"/><circle cx="589.80" cy="223.31" r="0.5" fill="#b3121c" opacity="0.9"/><circle cx="590.15" cy="220.04" r="0.5" fill="#b3121c" opacity="0.9"/><circle cx="588.97" cy="186.26" r="0.5" fill="#b3121c" opacity="0.9"/><circle cx="588.53" cy="217.06" r="0.5" fill="#b3121c" opacity="0.9"/><circle cx="589.70" cy="218.53" r="0.5" fill="#b3121c" opacity="0.9"/><circle cx="588.65" cy="225.43" r="0.5" fill="#b3121c" opacity="0.9"/><circle cx="589.31" cy="229.64" r="0.5" fill="#b3121c" opacity="0.9"/><circle cx="589.74" cy="226.05" r="0.5" fill="#b3121c" opacity="0.9"/>
<path d="M601.75,201.60 C601.92,203.45 602.33,209.97 602.75,212.70 C603.17,215.43 603.87,215.98 604.25,218.00 C604.63,220.02 605.13,222.23 605.05,224.80 C604.97,227.37 604.13,230.55 603.75,233.40 C603.37,236.25 603.08,239.20 602.75,241.90 C602.42,244.60 601.92,248.32 601.75,249.60 L601.25,249.60 C601.08,248.32 600.58,244.60 600.25,241.90 C599.92,239.20 599.63,236.25 599.25,233.40 C598.87,230.55 598.03,227.37 597.95,224.80 C597.87,222.23 598.37,220.02 598.75,218.00 C599.13,215.98 599.83,215.43 600.25,212.70 C600.67,209.97 601.08,203.45 601.25,201.60 Z" fill="#fff" stroke="#137a1e" stroke-width="1.1"/><line x1="598.13" y1="226.00" x2="604.87" y2="226.00" stroke="#0d4c14" stroke-width="0.8"/><line x1="599.03" y1="219.00" x2="603.97" y2="219.00" stroke="#137a1e" stroke-width="0.6" stroke-dasharray="0.7,0.7"/><line x1="599.60" y1="233.04" x2="603.40" y2="233.04" stroke="#137a1e" stroke-width="0.6" stroke-dasharray="0.7,0.7"/><circle cx="602.52" cy="224.74" r="0.5" fill="#137a1e" opacity="0.9"/><circle cx="601.18" cy="224.90" r="0.5" fill="#137a1e" opacity="0.9"/><circle cx="601.80" cy="221.22" r="0.5" fill="#137a1e" opacity="0.9"/><circle cx="601.35" cy="217.31" r="0.5" fill="#137a1e" opacity="0.9"/><circle cx="601.18" cy="234.50" r="0.5" fill="#137a1e" opacity="0.9"/><circle cx="601.47" cy="222.73" r="0.5" fill="#137a1e" opacity="0.9"/><circle cx="601.22" cy="236.63" r="0.5" fill="#137a1e" opacity="0.9"/><circle cx="601.56" cy="219.97" r="0.5" fill="#137a1e" opacity="0.9"/><circle cx="601.65" cy="229.83" r="0.5" fill="#137a1e" opacity="0.9"/><circle cx="600.75" cy="225.51" r="0.5" fill="#137a1e" opacity="0.9"/><circle cx="601.57" cy="210.14" r="0.5" fill="#137a1e" opacity="0.9"/><circle cx="601.41" cy="216.37" r="0.5" fill="#137a1e" opacity="0.9"/><circle cx="600.99" cy="226.58" r="0.5" fill="#137a1e" opacity="0.9"/><circle cx="601.09" cy="227.89" r="0.5" fill="#137a1e" opacity="0.9"/><circle cx="601.04" cy="217.03" r="0.5" fill="#137a1e" opacity="0.9"/><circle cx="601.82" cy="224.72" r="0.5" fill="#137a1e" opacity="0.9"/><circle cx="602.22" cy="227.84" r="0.5" fill="#137a1e" opacity="0.9"/><circle cx="601.47" cy="243.09" r="0.5" fill="#137a1e" opacity="0.9"/><circle cx="601.24" cy="237.38" r="0.5" fill="#137a1e" opacity="0.9"/><circle cx="600.94" cy="216.49" r="0.5" fill="#137a1e" opacity="0.9"/><circle cx="601.44" cy="241.92" r="0.5" fill="#137a1e" opacity="0.9"/><circle cx="600.86" cy="230.36" r="0.5" fill="#137a1e" opacity="0.9"/><circle cx="601.48" cy="242.86" r="0.5" fill="#137a1e" opacity="0.9"/><circle cx="601.31" cy="239.62" r="0.5" fill="#137a1e" opacity="0.9"/><circle cx="601.83" cy="216.61" r="0.5" fill="#137a1e" opacity="0.9"/><circle cx="601.45" cy="237.40" r="0.5" fill="#137a1e" opacity="0.9"/><circle cx="601.76" cy="227.78" r="0.5" fill="#137a1e" opacity="0.9"/><circle cx="601.52" cy="242.30" r="0.5" fill="#137a1e" opacity="0.9"/>
<path d="M623.05,172.00 C623.10,172.83 623.11,175.33 623.34,177.00 C623.57,178.67 624.26,179.83 624.45,182.00 C624.63,184.17 624.63,187.75 624.45,190.00 C624.26,192.25 623.42,193.83 623.34,195.50 C623.26,197.17 623.58,198.25 623.95,200.00 C624.32,201.75 625.07,203.67 625.55,206.00 C626.03,208.33 626.67,211.42 626.85,214.00 C627.03,216.58 626.82,218.55 626.65,221.50 C626.48,224.45 626.28,228.37 625.85,231.70 C625.42,235.03 624.52,237.95 624.05,241.50 C623.58,245.05 623.22,251.08 623.05,253.00 L622.55,253.00 C622.38,251.08 622.02,245.05 621.55,241.50 C621.08,237.95 620.18,235.03 619.75,231.70 C619.32,228.37 619.12,224.45 618.95,221.50 C618.78,218.55 618.57,216.58 618.75,214.00 C618.93,211.42 619.57,208.33 620.05,206.00 C620.53,203.67 621.28,201.75 621.65,200.00 C622.02,198.25 622.34,197.17 622.26,195.50 C622.18,193.83 621.34,192.25 621.15,190.00 C620.96,187.75 620.96,184.17 621.15,182.00 C621.34,179.83 622.03,178.67 622.26,177.00 C622.49,175.33 622.50,172.83 622.55,172.00 Z" fill="#fff" stroke="#b3121c" stroke-width="1.1"/><line x1="618.95" y1="221.50" x2="626.65" y2="221.50" stroke="#740d14" stroke-width="0.8"/><line x1="620.55" y1="205.62" x2="625.05" y2="205.62" stroke="#b3121c" stroke-width="0.6" stroke-dasharray="0.7,0.7"/><line x1="619.88" y1="228.30" x2="625.72" y2="228.30" stroke="#b3121c" stroke-width="0.6" stroke-dasharray="0.7,0.7"/><circle cx="622.79" cy="215.89" r="0.5" fill="#b3121c" opacity="0.9"/><circle cx="623.81" cy="223.56" r="0.5" fill="#b3121c" opacity="0.9"/><circle cx="622.40" cy="217.70" r="0.5" fill="#b3121c" opacity="0.9"/><circle cx="623.67" cy="230.19" r="0.5" fill="#b3121c" opacity="0.9"/><circle cx="623.02" cy="234.15" r="0.5" fill="#b3121c" opacity="0.9"/><circle cx="622.27" cy="216.70" r="0.5" fill="#b3121c" opacity="0.9"/><circle cx="622.38" cy="226.58" r="0.5" fill="#b3121c" opacity="0.9"/><circle cx="621.69" cy="213.38" r="0.5" fill="#b3121c" opacity="0.9"/><circle cx="622.85" cy="244.32" r="0.5" fill="#b3121c" opacity="0.9"/><circle cx="624.00" cy="218.16" r="0.5" fill="#b3121c" opacity="0.9"/><circle cx="623.53" cy="208.24" r="0.5" fill="#b3121c" opacity="0.9"/><circle cx="622.76" cy="189.64" r="0.5" fill="#b3121c" opacity="0.9"/><circle cx="623.45" cy="216.68" r="0.5" fill="#b3121c" opacity="0.9"/><circle cx="622.44" cy="216.68" r="0.5" fill="#b3121c" opacity="0.9"/><circle cx="622.86" cy="190.72" r="0.5" fill="#b3121c" opacity="0.9"/><circle cx="623.27" cy="204.95" r="0.5" fill="#b3121c" opacity="0.9"/><circle cx="622.15" cy="231.19" r="0.5" fill="#b3121c" opacity="0.9"/><circle cx="622.52" cy="184.96" r="0.5" fill="#b3121c" opacity="0.9"/><circle cx="623.65" cy="207.91" r="0.5" fill="#b3121c" opacity="0.9"/><circle cx="622.44" cy="206.41" r="0.5" fill="#b3121c" opacity="0.9"/><circle cx="622.29" cy="220.70" r="0.5" fill="#b3121c" opacity="0.9"/><circle cx="622.62" cy="211.80" r="0.5" fill="#b3121c" opacity="0.9"/><circle cx="623.08" cy="182.91" r="0.5" fill="#b3121c" opacity="0.9"/><circle cx="622.01" cy="208.20" r="0.5" fill="#b3121c" opacity="0.9"/>
<path d="M635.65,202.40 C635.82,203.77 636.37,208.13 636.65,210.60 C636.93,213.07 636.88,214.65 637.35,217.20 C637.82,219.75 639.57,222.93 639.45,225.90 C639.33,228.87 637.28,231.98 636.65,235.00 C636.02,238.02 635.82,242.50 635.65,244.00 L635.15,244.00 C634.98,242.50 634.78,238.02 634.15,235.00 C633.52,231.98 631.47,228.87 631.35,225.90 C631.23,222.93 632.98,219.75 633.45,217.20 C633.92,214.65 633.87,213.07 634.15,210.60 C634.43,208.13 634.98,203.77 635.15,202.40 Z" fill="#fff" stroke="#137a1e" stroke-width="1.1"/><line x1="631.38" y1="226.00" x2="639.42" y2="226.00" stroke="#0d4c14" stroke-width="0.8"/><line x1="633.63" y1="218.10" x2="637.17" y2="218.10" stroke="#137a1e" stroke-width="0.6" stroke-dasharray="0.7,0.7"/><line x1="632.87" y1="229.54" x2="637.93" y2="229.54" stroke="#137a1e" stroke-width="0.6" stroke-dasharray="0.7,0.7"/><circle cx="635.30" cy="211.14" r="0.5" fill="#137a1e" opacity="0.9"/><circle cx="635.89" cy="226.61" r="0.5" fill="#137a1e" opacity="0.9"/><circle cx="635.08" cy="229.86" r="0.5" fill="#137a1e" opacity="0.9"/><circle cx="634.95" cy="227.08" r="0.5" fill="#137a1e" opacity="0.9"/><circle cx="635.22" cy="213.77" r="0.5" fill="#137a1e" opacity="0.9"/><circle cx="635.30" cy="223.19" r="0.5" fill="#137a1e" opacity="0.9"/><circle cx="635.95" cy="222.97" r="0.5" fill="#137a1e" opacity="0.9"/><circle cx="635.34" cy="209.37" r="0.5" fill="#137a1e" opacity="0.9"/><circle cx="635.14" cy="217.44" r="0.5" fill="#137a1e" opacity="0.9"/><circle cx="635.89" cy="219.82" r="0.5" fill="#137a1e" opacity="0.9"/><circle cx="635.89" cy="230.22" r="0.5" fill="#137a1e" opacity="0.9"/><circle cx="634.52" cy="224.74" r="0.5" fill="#137a1e" opacity="0.9"/><circle cx="635.29" cy="211.76" r="0.5" fill="#137a1e" opacity="0.9"/><circle cx="635.41" cy="234.82" r="0.5" fill="#137a1e" opacity="0.9"/><circle cx="635.59" cy="226.30" r="0.5" fill="#137a1e" opacity="0.9"/><circle cx="635.34" cy="211.37" r="0.5" fill="#137a1e" opacity="0.9"/><circle cx="634.80" cy="221.96" r="0.5" fill="#137a1e" opacity="0.9"/><circle cx="635.06" cy="224.98" r="0.5" fill="#137a1e" opacity="0.9"/><circle cx="635.55" cy="211.49" r="0.5" fill="#137a1e" opacity="0.9"/><circle cx="635.36" cy="236.47" r="0.5" fill="#137a1e" opacity="0.9"/><circle cx="635.47" cy="210.05" r="0.5" fill="#137a1e" opacity="0.9"/><circle cx="635.02" cy="216.55" r="0.5" fill="#137a1e" opacity="0.9"/><circle cx="635.60" cy="221.19" r="0.5" fill="#137a1e" opacity="0.9"/><circle cx="635.46" cy="217.47" r="0.5" fill="#137a1e" opacity="0.9"/><circle cx="635.40" cy="213.77" r="0.5" fill="#137a1e" opacity="0.9"/><circle cx="635.19" cy="222.55" r="0.5" fill="#137a1e" opacity="0.9"/><circle cx="636.06" cy="223.41" r="0.5" fill="#137a1e" opacity="0.9"/><circle cx="635.38" cy="213.87" r="0.5" fill="#137a1e" opacity="0.9"/>
<path d="M479.2,172.0 L479.2,266.4 L643.5,266.4" fill="none" stroke="#000" stroke-width="1.25"/>
<line x1="476.59999999999997" y1="172.9" x2="479.2" y2="172.9" stroke="#111" stroke-width="1.05"/>
<text x="475.9" y="174.5" font-size="4.6" text-anchor="end" fill="#111" stroke="#111" stroke-width="0.12" font-weight="bold">200</text>
<line x1="476.59999999999997" y1="194.1" x2="479.2" y2="194.1" stroke="#111" stroke-width="1.05"/>
<text x="475.9" y="195.7" font-size="4.6" text-anchor="end" fill="#111" stroke="#111" stroke-width="0.12" font-weight="bold">150</text>
<line x1="476.59999999999997" y1="215.4" x2="479.2" y2="215.4" stroke="#111" stroke-width="1.05"/>
<text x="475.9" y="217.0" font-size="4.6" text-anchor="end" fill="#111" stroke="#111" stroke-width="0.12" font-weight="bold">100</text>
<line x1="476.59999999999997" y1="236.6" x2="479.2" y2="236.6" stroke="#111" stroke-width="1.05"/>
<text x="475.9" y="238.2" font-size="4.6" text-anchor="end" fill="#111" stroke="#111" stroke-width="0.12" font-weight="bold">50</text>
<line x1="476.59999999999997" y1="257.8" x2="479.2" y2="257.8" stroke="#111" stroke-width="1.05"/>
<text x="475.9" y="259.40000000000003" font-size="4.6" text-anchor="end" fill="#111" stroke="#111" stroke-width="0.12" font-weight="bold">0</text>
<line x1="493.4" y1="266.4" x2="493.4" y2="269.4" stroke="#000" stroke-width="1.1"/>
<line x1="527.5" y1="266.4" x2="527.5" y2="269.4" stroke="#000" stroke-width="1.1"/>
<line x1="561.7" y1="266.4" x2="561.7" y2="269.4" stroke="#000" stroke-width="1.1"/>
<line x1="595.9" y1="266.4" x2="595.9" y2="269.4" stroke="#000" stroke-width="1.1"/>
<line x1="629.5" y1="266.4" x2="629.5" y2="269.4" stroke="#000" stroke-width="1.1"/>
<text x="495.79999999999995" y="272.79999999999995" font-size="4.73" text-anchor="end" font-weight="bold" fill="#050505" stroke="#050505" stroke-width="0.08" transform="rotate(-41 495.79999999999995 272.79999999999995)">On admission</text>
<text x="529.9" y="272.79999999999995" font-size="4.73" text-anchor="end" font-weight="bold" fill="#050505" stroke="#050505" stroke-width="0.08" transform="rotate(-41 529.9 272.79999999999995)">Discharge</text>
<text x="564.1" y="272.79999999999995" font-size="4.73" text-anchor="end" font-weight="bold" fill="#050505" stroke="#050505" stroke-width="0.08" transform="rotate(-41 564.1 272.79999999999995)">4 months later</text>
<text x="598.3" y="272.79999999999995" font-size="4.73" text-anchor="end" font-weight="bold" fill="#050505" stroke="#050505" stroke-width="0.08" transform="rotate(-41 598.3 272.79999999999995)">8 months later</text>
<text x="631.9" y="272.79999999999995" font-size="4.73" text-anchor="end" font-weight="bold" fill="#050505" stroke="#050505" stroke-width="0.08" transform="rotate(-41 631.9 272.79999999999995)">12 months later</text>
<text x="464.132" y="219.4" font-size="6.2" text-anchor="middle" font-weight="bold" fill="#111" stroke="#111" stroke-width="0.15" transform="rotate(-90 464.132 219.4)">FEF75</text>
<text x="481.7" y="174.5" font-size="5" fill="#222" stroke="#222" stroke-width="0.1">%</text>
<text x="640.9" y="272.0" font-size="4.6" fill="#555">t</text>
<rect x="629.3" y="250.4" width="5.2" height="2.1" fill="#fff" stroke="#a31e24" stroke-width="1.35"/>
<rect x="629.3" y="258.5" width="5.2" height="2.1" fill="#fff" stroke="#156e1e" stroke-width="1.35"/>
<text x="639.6" y="253.44800000000004" font-family="Liberation Serif, serif" font-size="5.6" font-style="normal" fill="#222" textLength="41.3" lengthAdjust="spacingAndGlyphs">Severe case group</text>
<text x="639.6" y="261.548" font-family="Liberation Serif, serif" font-size="5.6" font-style="normal" fill="#222" textLength="40.5" lengthAdjust="spacingAndGlyphs">Non severe group</text>
<path d="M520.4,173 L520.4,170.2 L532.6,170.2 L532.6,173" fill="none" stroke="#333" stroke-width="0.9"/>
</svg>
</body></html>
